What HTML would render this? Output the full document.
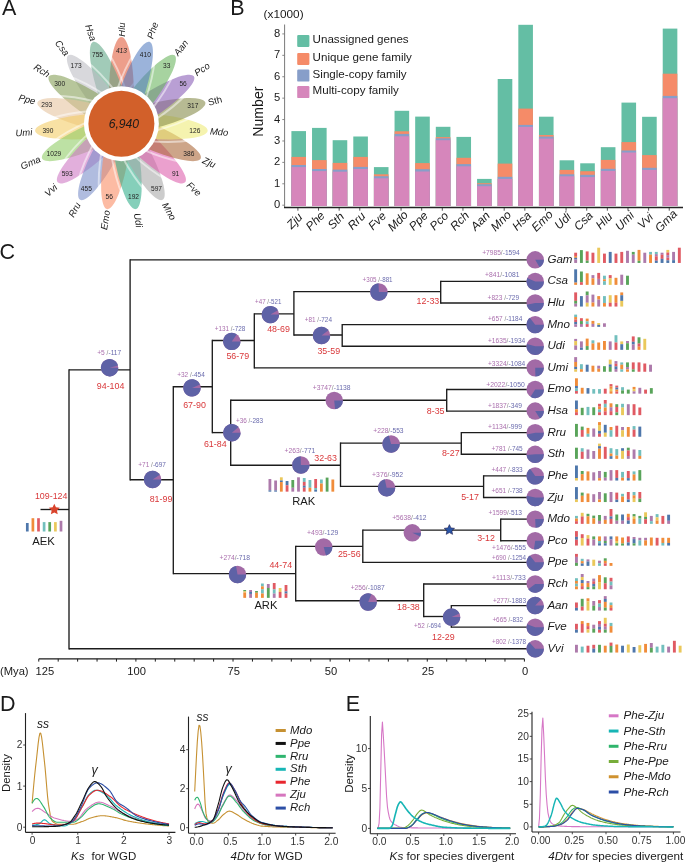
<!DOCTYPE html>
<html><head><meta charset="utf-8"><style>
html,body{margin:0;padding:0;background:#fff;width:685px;height:863px;overflow:hidden}
svg{display:block;font-family:"Liberation Sans", sans-serif;will-change:transform}
</style></head><body>
<svg width="685" height="863" viewBox="0 0 685 863">
<text x="1.9" y="14.9" font-size="21.5" fill="#1a1a1a">A</text>
<text x="230.2" y="14.9" font-size="21.5" fill="#1a1a1a">B</text>
<text x="-0.5" y="258.5" font-size="21.5" fill="#1a1a1a">C</text>
<text x="0" y="711.0" font-size="21.5" fill="#1a1a1a">D</text>
<text x="345.7" y="711.1" font-size="21.5" fill="#1a1a1a">E</text>
<g><ellipse cx="121.40" cy="94.80" rx="57.7" ry="12.5" transform="rotate(-90.00 121.40 94.80)" fill="#e05837" fill-opacity="0.58"/><ellipse cx="121.40" cy="94.80" rx="60.300000000000004" ry="15.1" transform="rotate(-90.00 121.40 94.80)" fill="none" stroke="#fff" stroke-opacity="0.5" stroke-width="1.9"/><ellipse cx="112.02" cy="96.37" rx="57.7" ry="12.5" transform="rotate(251.05 112.02 96.37)" fill="#5da585" fill-opacity="0.58"/><ellipse cx="112.02" cy="96.37" rx="60.300000000000004" ry="15.1" transform="rotate(251.05 112.02 96.37)" fill="none" stroke="#fff" stroke-opacity="0.5" stroke-width="1.9"/><ellipse cx="103.65" cy="100.89" rx="57.7" ry="12.5" transform="rotate(232.11 103.65 100.89)" fill="#bcbcc3" fill-opacity="0.58"/><ellipse cx="103.65" cy="100.89" rx="60.300000000000004" ry="15.1" transform="rotate(232.11 103.65 100.89)" fill="none" stroke="#fff" stroke-opacity="0.5" stroke-width="1.9"/><ellipse cx="97.21" cy="107.89" rx="57.7" ry="12.5" transform="rotate(213.16 97.21 107.89)" fill="#839d53" fill-opacity="0.58"/><ellipse cx="97.21" cy="107.89" rx="60.300000000000004" ry="15.1" transform="rotate(213.16 97.21 107.89)" fill="none" stroke="#fff" stroke-opacity="0.5" stroke-width="1.9"/><ellipse cx="93.38" cy="116.61" rx="57.7" ry="12.5" transform="rotate(194.21 93.38 116.61)" fill="#e5c39d" fill-opacity="0.58"/><ellipse cx="93.38" cy="116.61" rx="60.300000000000004" ry="15.1" transform="rotate(194.21 93.38 116.61)" fill="none" stroke="#fff" stroke-opacity="0.5" stroke-width="1.9"/><ellipse cx="92.60" cy="126.09" rx="57.7" ry="12.5" transform="rotate(175.26 92.60 126.09)" fill="#f3cb62" fill-opacity="0.58"/><ellipse cx="92.60" cy="126.09" rx="60.300000000000004" ry="15.1" transform="rotate(175.26 92.60 126.09)" fill="none" stroke="#fff" stroke-opacity="0.5" stroke-width="1.9"/><ellipse cx="94.93" cy="135.31" rx="57.7" ry="12.5" transform="rotate(156.32 94.93 135.31)" fill="#8dcb62" fill-opacity="0.58"/><ellipse cx="94.93" cy="135.31" rx="60.300000000000004" ry="15.1" transform="rotate(156.32 94.93 135.31)" fill="none" stroke="#fff" stroke-opacity="0.5" stroke-width="1.9"/><ellipse cx="100.14" cy="143.27" rx="57.7" ry="12.5" transform="rotate(137.37 100.14 143.27)" fill="#cd75c3" fill-opacity="0.58"/><ellipse cx="100.14" cy="143.27" rx="60.300000000000004" ry="15.1" transform="rotate(137.37 100.14 143.27)" fill="none" stroke="#fff" stroke-opacity="0.5" stroke-width="1.9"/><ellipse cx="107.65" cy="149.12" rx="57.7" ry="12.5" transform="rotate(118.42 107.65 149.12)" fill="#778bc8" fill-opacity="0.58"/><ellipse cx="107.65" cy="149.12" rx="60.300000000000004" ry="15.1" transform="rotate(118.42 107.65 149.12)" fill="none" stroke="#fff" stroke-opacity="0.5" stroke-width="1.9"/><ellipse cx="116.64" cy="152.21" rx="57.7" ry="12.5" transform="rotate(99.47 116.64 152.21)" fill="#fa8a60" fill-opacity="0.58"/><ellipse cx="116.64" cy="152.21" rx="60.300000000000004" ry="15.1" transform="rotate(99.47 116.64 152.21)" fill="none" stroke="#fff" stroke-opacity="0.5" stroke-width="1.9"/><ellipse cx="126.16" cy="152.21" rx="57.7" ry="12.5" transform="rotate(80.53 126.16 152.21)" fill="#2dac88" fill-opacity="0.58"/><ellipse cx="126.16" cy="152.21" rx="60.300000000000004" ry="15.1" transform="rotate(80.53 126.16 152.21)" fill="none" stroke="#fff" stroke-opacity="0.5" stroke-width="1.9"/><ellipse cx="135.15" cy="149.12" rx="57.7" ry="12.5" transform="rotate(61.58 135.15 149.12)" fill="#a7a7a7" fill-opacity="0.58"/><ellipse cx="135.15" cy="149.12" rx="60.300000000000004" ry="15.1" transform="rotate(61.58 135.15 149.12)" fill="none" stroke="#fff" stroke-opacity="0.5" stroke-width="1.9"/><ellipse cx="142.66" cy="143.27" rx="57.7" ry="12.5" transform="rotate(42.63 142.66 143.27)" fill="#dd5bab" fill-opacity="0.58"/><ellipse cx="142.66" cy="143.27" rx="60.300000000000004" ry="15.1" transform="rotate(42.63 142.66 143.27)" fill="none" stroke="#fff" stroke-opacity="0.5" stroke-width="1.9"/><ellipse cx="147.87" cy="135.31" rx="57.7" ry="12.5" transform="rotate(23.68 147.87 135.31)" fill="#a96434" fill-opacity="0.58"/><ellipse cx="147.87" cy="135.31" rx="60.300000000000004" ry="15.1" transform="rotate(23.68 147.87 135.31)" fill="none" stroke="#fff" stroke-opacity="0.5" stroke-width="1.9"/><ellipse cx="150.20" cy="126.09" rx="57.7" ry="12.5" transform="rotate(4.74 150.20 126.09)" fill="#eeea75" fill-opacity="0.58"/><ellipse cx="150.20" cy="126.09" rx="60.300000000000004" ry="15.1" transform="rotate(4.74 150.20 126.09)" fill="none" stroke="#fff" stroke-opacity="0.5" stroke-width="1.9"/><ellipse cx="149.42" cy="116.61" rx="57.7" ry="12.5" transform="rotate(-14.21 149.42 116.61)" fill="#838845" fill-opacity="0.58"/><ellipse cx="149.42" cy="116.61" rx="60.300000000000004" ry="15.1" transform="rotate(-14.21 149.42 116.61)" fill="none" stroke="#fff" stroke-opacity="0.5" stroke-width="1.9"/><ellipse cx="145.59" cy="107.89" rx="57.7" ry="12.5" transform="rotate(-33.16 145.59 107.89)" fill="#8659b5" fill-opacity="0.58"/><ellipse cx="145.59" cy="107.89" rx="60.300000000000004" ry="15.1" transform="rotate(-33.16 145.59 107.89)" fill="none" stroke="#fff" stroke-opacity="0.5" stroke-width="1.9"/><ellipse cx="139.15" cy="100.89" rx="57.7" ry="12.5" transform="rotate(-52.11 139.15 100.89)" fill="#67b35b" fill-opacity="0.58"/><ellipse cx="139.15" cy="100.89" rx="60.300000000000004" ry="15.1" transform="rotate(-52.11 139.15 100.89)" fill="none" stroke="#fff" stroke-opacity="0.5" stroke-width="1.9"/><ellipse cx="130.78" cy="96.37" rx="57.7" ry="12.5" transform="rotate(-71.05 130.78 96.37)" fill="#537cbf" fill-opacity="0.58"/><ellipse cx="130.78" cy="96.37" rx="60.300000000000004" ry="15.1" transform="rotate(-71.05 130.78 96.37)" fill="none" stroke="#fff" stroke-opacity="0.5" stroke-width="1.9"/></g>
<text x="0" y="2.75" font-size="7.7" text-anchor="middle" font-style="italic" fill="#222" transform="translate(121.40 50.00) scale(0.86 1)">413</text>
<text x="0" y="2.75" font-size="7.7" text-anchor="middle" fill="#222" transform="translate(145.33 53.99) scale(0.86 1)">410</text>
<text x="0" y="2.75" font-size="7.7" text-anchor="middle" fill="#222" transform="translate(166.67 65.54) scale(0.86 1)">33</text>
<text x="0" y="2.75" font-size="7.7" text-anchor="middle" fill="#222" transform="translate(183.10 83.39) scale(0.86 1)">56</text>
<text x="0" y="2.75" font-size="7.7" text-anchor="middle" fill="#222" transform="translate(192.84 105.61) scale(0.86 1)">317</text>
<text x="0" y="2.75" font-size="7.7" text-anchor="middle" fill="#222" transform="translate(194.85 129.79) scale(0.86 1)">126</text>
<text x="0" y="2.75" font-size="7.7" text-anchor="middle" fill="#222" transform="translate(188.89 153.30) scale(0.86 1)">386</text>
<text x="0" y="2.75" font-size="7.7" text-anchor="middle" fill="#222" transform="translate(175.62 173.62) scale(0.86 1)">91</text>
<text x="0" y="2.75" font-size="7.7" text-anchor="middle" fill="#222" transform="translate(156.48 188.52) scale(0.86 1)">597</text>
<text x="0" y="2.75" font-size="7.7" text-anchor="middle" fill="#222" transform="translate(133.53 196.39) scale(0.86 1)">192</text>
<text x="0" y="2.75" font-size="7.7" text-anchor="middle" fill="#222" transform="translate(109.27 196.39) scale(0.86 1)">56</text>
<text x="0" y="2.75" font-size="7.7" text-anchor="middle" fill="#222" transform="translate(86.32 188.52) scale(0.86 1)">455</text>
<text x="0" y="2.75" font-size="7.7" text-anchor="middle" fill="#222" transform="translate(67.18 173.62) scale(0.86 1)">593</text>
<text x="0" y="2.75" font-size="7.7" text-anchor="middle" fill="#222" transform="translate(53.91 153.30) scale(0.86 1)">1029</text>
<text x="0" y="2.75" font-size="7.7" text-anchor="middle" fill="#222" transform="translate(47.95 129.79) scale(0.86 1)">390</text>
<text x="0" y="2.75" font-size="7.7" text-anchor="middle" fill="#222" transform="translate(46.76 104.00) scale(0.86 1)">293</text>
<text x="0" y="2.75" font-size="7.7" text-anchor="middle" fill="#222" transform="translate(59.70 83.39) scale(0.86 1)">300</text>
<text x="0" y="2.75" font-size="7.7" text-anchor="middle" fill="#222" transform="translate(76.13 65.54) scale(0.86 1)">173</text>
<text x="0" y="2.75" font-size="7.7" text-anchor="middle" fill="#222" transform="translate(97.47 53.99) scale(0.86 1)">755</text>
<text x="121.40" y="36.70" font-size="9.5" text-anchor="start" dominant-baseline="central" font-style="italic" fill="#1a1a1a" transform="rotate(-90.00 121.40 36.70)">Hlu</text>
<text x="149.63" y="38.44" font-size="9.5" text-anchor="start" dominant-baseline="central" font-style="italic" fill="#1a1a1a" transform="rotate(-71.05 149.63 38.44)">Phe</text>
<text x="175.51" y="54.35" font-size="9.5" text-anchor="start" dominant-baseline="central" font-style="italic" fill="#1a1a1a" transform="rotate(-52.11 175.51 54.35)">Aan</text>
<text x="195.04" y="73.50" font-size="9.5" text-anchor="start" dominant-baseline="central" font-style="italic" fill="#1a1a1a" transform="rotate(-33.16 195.04 73.50)">Pco</text>
<text x="208.06" y="102.25" font-size="9.5" text-anchor="start" dominant-baseline="central" fill="#1a1a1a" transform="rotate(-14.21 208.06 102.25)">Sth</text>
<text x="209.99" y="130.98" font-size="9.5" text-anchor="start" dominant-baseline="central" font-style="italic" fill="#1a1a1a" transform="rotate(-355.26 209.99 130.98)">Mdo</text>
<text x="203.27" y="159.51" font-size="9.5" text-anchor="start" dominant-baseline="central" font-style="italic" fill="#1a1a1a" transform="rotate(-336.32 203.27 159.51)">Zju</text>
<text x="188.27" y="183.55" font-size="9.5" text-anchor="start" dominant-baseline="central" font-style="italic" fill="#1a1a1a" transform="rotate(-317.37 188.27 183.55)">Fve</text>
<text x="164.95" y="203.02" font-size="9.5" text-anchor="start" dominant-baseline="central" font-style="italic" fill="#1a1a1a" transform="rotate(-298.42 164.95 203.02)">Mno</text>
<text x="137.21" y="213.18" font-size="9.5" text-anchor="start" dominant-baseline="central" font-style="italic" fill="#1a1a1a" transform="rotate(-279.47 137.21 213.18)">Udi</text>
<text x="106.69" y="210.28" font-size="9.5" text-anchor="end" dominant-baseline="central" font-style="italic" fill="#1a1a1a" transform="rotate(-80.53 106.69 210.28)">Emo</text>
<text x="78.05" y="202.82" font-size="9.5" text-anchor="end" dominant-baseline="central" font-style="italic" fill="#1a1a1a" transform="rotate(-61.58 78.05 202.82)">Rru</text>
<text x="55.63" y="185.65" font-size="9.5" text-anchor="end" dominant-baseline="central" font-style="italic" fill="#1a1a1a" transform="rotate(-42.63 55.63 185.65)">Vvi</text>
<text x="39.83" y="158.31" font-size="9.5" text-anchor="end" dominant-baseline="central" font-style="italic" fill="#1a1a1a" transform="rotate(-23.68 39.83 158.31)">Gma</text>
<text x="32.31" y="131.58" font-size="9.5" text-anchor="end" dominant-baseline="central" font-style="italic" fill="#1a1a1a" transform="rotate(-4.74 32.31 131.58)">Umi</text>
<text x="35.34" y="101.15" font-size="9.5" text-anchor="end" dominant-baseline="central" font-style="italic" fill="#1a1a1a" transform="rotate(14.21 35.34 101.15)">Ppe</text>
<text x="49.16" y="75.00" font-size="9.5" text-anchor="end" dominant-baseline="central" font-style="italic" fill="#1a1a1a" transform="rotate(33.16 49.16 75.00)">Rch</text>
<text x="67.59" y="54.55" font-size="9.5" text-anchor="end" dominant-baseline="central" font-style="italic" fill="#1a1a1a" transform="rotate(52.11 67.59 54.55)">Csa</text>
<text x="93.77" y="40.54" font-size="9.5" text-anchor="end" dominant-baseline="central" font-style="italic" fill="#1a1a1a" transform="rotate(71.05 93.77 40.54)">Hsa</text>
<circle cx="121.4" cy="123.7" r="37.5" fill="#fff"/>
<circle cx="121.4" cy="123.7" r="33" fill="#d2602a"/>
<text x="123.9" y="127.9" font-size="12.2" font-style="italic" text-anchor="middle" fill="#1a1a1a">6,940</text>
<line x1="284.6" y1="24.5" x2="284.6" y2="207.0" stroke="#7a7a7a" stroke-width="1"/>
<line x1="282.3" y1="205.20" x2="284.6" y2="205.20" stroke="#7a7a7a" stroke-width="0.9"/>
<text x="280.3" y="208.30" font-size="11.2" text-anchor="end" fill="#1a1a1a">0</text>
<line x1="282.3" y1="183.79" x2="284.6" y2="183.79" stroke="#7a7a7a" stroke-width="0.9"/>
<text x="280.3" y="186.89" font-size="11.2" text-anchor="end" fill="#1a1a1a">1</text>
<line x1="282.3" y1="162.38" x2="284.6" y2="162.38" stroke="#7a7a7a" stroke-width="0.9"/>
<text x="280.3" y="165.48" font-size="11.2" text-anchor="end" fill="#1a1a1a">2</text>
<line x1="282.3" y1="140.97" x2="284.6" y2="140.97" stroke="#7a7a7a" stroke-width="0.9"/>
<text x="280.3" y="144.07" font-size="11.2" text-anchor="end" fill="#1a1a1a">3</text>
<line x1="282.3" y1="119.56" x2="284.6" y2="119.56" stroke="#7a7a7a" stroke-width="0.9"/>
<text x="280.3" y="122.66" font-size="11.2" text-anchor="end" fill="#1a1a1a">4</text>
<line x1="282.3" y1="98.15" x2="284.6" y2="98.15" stroke="#7a7a7a" stroke-width="0.9"/>
<text x="280.3" y="101.25" font-size="11.2" text-anchor="end" fill="#1a1a1a">5</text>
<line x1="282.3" y1="76.74" x2="284.6" y2="76.74" stroke="#7a7a7a" stroke-width="0.9"/>
<text x="280.3" y="79.84" font-size="11.2" text-anchor="end" fill="#1a1a1a">6</text>
<line x1="282.3" y1="55.33" x2="284.6" y2="55.33" stroke="#7a7a7a" stroke-width="0.9"/>
<text x="280.3" y="58.43" font-size="11.2" text-anchor="end" fill="#1a1a1a">7</text>
<line x1="282.3" y1="33.92" x2="284.6" y2="33.92" stroke="#7a7a7a" stroke-width="0.9"/>
<text x="280.3" y="37.02" font-size="11.2" text-anchor="end" fill="#1a1a1a">8</text>
<text x="263.0" y="111.6" font-size="14.1" text-anchor="middle" fill="#1a1a1a" transform="rotate(-90 263.0 111.6)">Number</text>
<text x="263.6" y="18.0" font-size="11.8" fill="#1a1a1a">(x1000)</text>
<rect x="291.40" y="131.1" width="14.6" height="74.90" fill="#64bea4"/>
<rect x="291.40" y="156.9" width="14.6" height="49.10" fill="#f58b68"/>
<rect x="291.40" y="165.0" width="14.6" height="41.00" fill="#879ec9"/>
<rect x="291.40" y="167.1" width="14.6" height="38.90" fill="#d686bb"/>
<line x1="297.90" y1="207.5" x2="297.90" y2="210.7" stroke="#444" stroke-width="0.9"/>
<text x="297.45" y="223.70" font-size="11.9" font-style="italic" text-anchor="middle" fill="#1a1a1a" transform="rotate(-45 297.45 223.70)">Zju</text>
<rect x="312.03" y="127.9" width="14.6" height="78.10" fill="#64bea4"/>
<rect x="312.03" y="160.1" width="14.6" height="45.90" fill="#f58b68"/>
<rect x="312.03" y="169.0" width="14.6" height="37.00" fill="#879ec9"/>
<rect x="312.03" y="171.1" width="14.6" height="34.90" fill="#d686bb"/>
<line x1="318.53" y1="207.5" x2="318.53" y2="210.7" stroke="#444" stroke-width="0.9"/>
<text x="318.08" y="223.70" font-size="11.9" font-style="italic" text-anchor="middle" fill="#1a1a1a" transform="rotate(-45 318.08 223.70)">Phe</text>
<rect x="332.66" y="140.2" width="14.6" height="65.80" fill="#64bea4"/>
<rect x="332.66" y="162.9" width="14.6" height="43.10" fill="#f58b68"/>
<rect x="332.66" y="169.6" width="14.6" height="36.40" fill="#879ec9"/>
<rect x="332.66" y="171.7" width="14.6" height="34.30" fill="#d686bb"/>
<line x1="339.16" y1="207.5" x2="339.16" y2="210.7" stroke="#444" stroke-width="0.9"/>
<text x="338.71" y="223.70" font-size="11.9" font-style="italic" text-anchor="middle" fill="#1a1a1a" transform="rotate(-45 338.71 223.70)">Sth</text>
<rect x="353.29" y="136.5" width="14.6" height="69.50" fill="#64bea4"/>
<rect x="353.29" y="156.9" width="14.6" height="49.10" fill="#f58b68"/>
<rect x="353.29" y="166.9" width="14.6" height="39.10" fill="#879ec9"/>
<rect x="353.29" y="169.0" width="14.6" height="37.00" fill="#d686bb"/>
<line x1="359.79" y1="207.5" x2="359.79" y2="210.7" stroke="#444" stroke-width="0.9"/>
<text x="359.34" y="223.70" font-size="11.9" font-style="italic" text-anchor="middle" fill="#1a1a1a" transform="rotate(-45 359.34 223.70)">Rru</text>
<rect x="373.92" y="167.1" width="14.6" height="38.90" fill="#64bea4"/>
<rect x="373.92" y="174.3" width="14.6" height="31.70" fill="#f58b68"/>
<rect x="373.92" y="176.2" width="14.6" height="29.80" fill="#879ec9"/>
<rect x="373.92" y="178.3" width="14.6" height="27.70" fill="#d686bb"/>
<line x1="380.42" y1="207.5" x2="380.42" y2="210.7" stroke="#444" stroke-width="0.9"/>
<text x="379.97" y="223.70" font-size="11.9" font-style="italic" text-anchor="middle" fill="#1a1a1a" transform="rotate(-45 379.97 223.70)">Fve</text>
<rect x="394.55" y="110.8" width="14.6" height="95.20" fill="#64bea4"/>
<rect x="394.55" y="131.3" width="14.6" height="74.70" fill="#f58b68"/>
<rect x="394.55" y="133.9" width="14.6" height="72.10" fill="#879ec9"/>
<rect x="394.55" y="136.3" width="14.6" height="69.70" fill="#d686bb"/>
<line x1="401.05" y1="207.5" x2="401.05" y2="210.7" stroke="#444" stroke-width="0.9"/>
<text x="400.60" y="223.70" font-size="11.9" font-style="italic" text-anchor="middle" fill="#1a1a1a" transform="rotate(-45 400.60 223.70)">Mdo</text>
<rect x="415.18" y="116.6" width="14.6" height="89.40" fill="#64bea4"/>
<rect x="415.18" y="163.1" width="14.6" height="42.90" fill="#f58b68"/>
<rect x="415.18" y="169.2" width="14.6" height="36.80" fill="#879ec9"/>
<rect x="415.18" y="171.5" width="14.6" height="34.50" fill="#d686bb"/>
<line x1="421.68" y1="207.5" x2="421.68" y2="210.7" stroke="#444" stroke-width="0.9"/>
<text x="421.23" y="223.70" font-size="11.9" font-style="italic" text-anchor="middle" fill="#1a1a1a" transform="rotate(-45 421.23 223.70)">Ppe</text>
<rect x="435.81" y="126.8" width="14.6" height="79.20" fill="#64bea4"/>
<rect x="435.81" y="137.1" width="14.6" height="68.90" fill="#f58b68"/>
<rect x="435.81" y="138.3" width="14.6" height="67.70" fill="#879ec9"/>
<rect x="435.81" y="140.2" width="14.6" height="65.80" fill="#d686bb"/>
<line x1="442.31" y1="207.5" x2="442.31" y2="210.7" stroke="#444" stroke-width="0.9"/>
<text x="441.86" y="223.70" font-size="11.9" font-style="italic" text-anchor="middle" fill="#1a1a1a" transform="rotate(-45 441.86 223.70)">Pco</text>
<rect x="456.44" y="136.9" width="14.6" height="69.10" fill="#64bea4"/>
<rect x="456.44" y="157.8" width="14.6" height="48.20" fill="#f58b68"/>
<rect x="456.44" y="164.1" width="14.6" height="41.90" fill="#879ec9"/>
<rect x="456.44" y="166.3" width="14.6" height="39.70" fill="#d686bb"/>
<line x1="462.94" y1="207.5" x2="462.94" y2="210.7" stroke="#444" stroke-width="0.9"/>
<text x="462.49" y="223.70" font-size="11.9" font-style="italic" text-anchor="middle" fill="#1a1a1a" transform="rotate(-45 462.49 223.70)">Rch</text>
<rect x="477.07" y="178.9" width="14.6" height="27.10" fill="#64bea4"/>
<rect x="477.07" y="183.2" width="14.6" height="22.80" fill="#f58b68"/>
<rect x="477.07" y="184.2" width="14.6" height="21.80" fill="#879ec9"/>
<rect x="477.07" y="186.2" width="14.6" height="19.80" fill="#d686bb"/>
<line x1="483.57" y1="207.5" x2="483.57" y2="210.7" stroke="#444" stroke-width="0.9"/>
<text x="483.12" y="223.70" font-size="11.9" font-style="italic" text-anchor="middle" fill="#1a1a1a" transform="rotate(-45 483.12 223.70)">Aan</text>
<rect x="497.70" y="79.0" width="14.6" height="127.00" fill="#64bea4"/>
<rect x="497.70" y="163.6" width="14.6" height="42.40" fill="#f58b68"/>
<rect x="497.70" y="176.8" width="14.6" height="29.20" fill="#879ec9"/>
<rect x="497.70" y="178.9" width="14.6" height="27.10" fill="#d686bb"/>
<line x1="504.20" y1="207.5" x2="504.20" y2="210.7" stroke="#444" stroke-width="0.9"/>
<text x="503.75" y="223.70" font-size="11.9" font-style="italic" text-anchor="middle" fill="#1a1a1a" transform="rotate(-45 503.75 223.70)">Mno</text>
<rect x="518.33" y="24.8" width="14.6" height="181.20" fill="#64bea4"/>
<rect x="518.33" y="108.6" width="14.6" height="97.40" fill="#f58b68"/>
<rect x="518.33" y="124.9" width="14.6" height="81.10" fill="#879ec9"/>
<rect x="518.33" y="126.9" width="14.6" height="79.10" fill="#d686bb"/>
<line x1="524.83" y1="207.5" x2="524.83" y2="210.7" stroke="#444" stroke-width="0.9"/>
<text x="524.38" y="223.70" font-size="11.9" font-style="italic" text-anchor="middle" fill="#1a1a1a" transform="rotate(-45 524.38 223.70)">Hsa</text>
<rect x="538.96" y="116.7" width="14.6" height="89.30" fill="#64bea4"/>
<rect x="538.96" y="135.0" width="14.6" height="71.00" fill="#f58b68"/>
<rect x="538.96" y="136.6" width="14.6" height="69.40" fill="#879ec9"/>
<rect x="538.96" y="138.6" width="14.6" height="67.40" fill="#d686bb"/>
<line x1="545.46" y1="207.5" x2="545.46" y2="210.7" stroke="#444" stroke-width="0.9"/>
<text x="545.01" y="223.70" font-size="11.9" font-style="italic" text-anchor="middle" fill="#1a1a1a" transform="rotate(-45 545.01 223.70)">Emo</text>
<rect x="559.59" y="160.3" width="14.6" height="45.70" fill="#64bea4"/>
<rect x="559.59" y="169.9" width="14.6" height="36.10" fill="#f58b68"/>
<rect x="559.59" y="174.3" width="14.6" height="31.70" fill="#879ec9"/>
<rect x="559.59" y="176.3" width="14.6" height="29.70" fill="#d686bb"/>
<line x1="566.09" y1="207.5" x2="566.09" y2="210.7" stroke="#444" stroke-width="0.9"/>
<text x="565.64" y="223.70" font-size="11.9" font-style="italic" text-anchor="middle" fill="#1a1a1a" transform="rotate(-45 565.64 223.70)">Udi</text>
<rect x="580.22" y="163.3" width="14.6" height="42.70" fill="#64bea4"/>
<rect x="580.22" y="171.2" width="14.6" height="34.80" fill="#f58b68"/>
<rect x="580.22" y="174.8" width="14.6" height="31.20" fill="#879ec9"/>
<rect x="580.22" y="177.1" width="14.6" height="28.90" fill="#d686bb"/>
<line x1="586.72" y1="207.5" x2="586.72" y2="210.7" stroke="#444" stroke-width="0.9"/>
<text x="586.27" y="223.70" font-size="11.9" font-style="italic" text-anchor="middle" fill="#1a1a1a" transform="rotate(-45 586.27 223.70)">Csa</text>
<rect x="600.85" y="147.2" width="14.6" height="58.80" fill="#64bea4"/>
<rect x="600.85" y="159.9" width="14.6" height="46.10" fill="#f58b68"/>
<rect x="600.85" y="168.8" width="14.6" height="37.20" fill="#879ec9"/>
<rect x="600.85" y="170.9" width="14.6" height="35.10" fill="#d686bb"/>
<line x1="607.35" y1="207.5" x2="607.35" y2="210.7" stroke="#444" stroke-width="0.9"/>
<text x="606.90" y="223.70" font-size="11.9" font-style="italic" text-anchor="middle" fill="#1a1a1a" transform="rotate(-45 606.90 223.70)">Hlu</text>
<rect x="621.48" y="102.6" width="14.6" height="103.40" fill="#64bea4"/>
<rect x="621.48" y="142.1" width="14.6" height="63.90" fill="#f58b68"/>
<rect x="621.48" y="150.5" width="14.6" height="55.50" fill="#879ec9"/>
<rect x="621.48" y="152.5" width="14.6" height="53.50" fill="#d686bb"/>
<line x1="627.98" y1="207.5" x2="627.98" y2="210.7" stroke="#444" stroke-width="0.9"/>
<text x="627.53" y="223.70" font-size="11.9" font-style="italic" text-anchor="middle" fill="#1a1a1a" transform="rotate(-45 627.53 223.70)">Umi</text>
<rect x="642.11" y="116.8" width="14.6" height="89.20" fill="#64bea4"/>
<rect x="642.11" y="155.1" width="14.6" height="50.90" fill="#f58b68"/>
<rect x="642.11" y="167.8" width="14.6" height="38.20" fill="#879ec9"/>
<rect x="642.11" y="169.9" width="14.6" height="36.10" fill="#d686bb"/>
<line x1="648.61" y1="207.5" x2="648.61" y2="210.7" stroke="#444" stroke-width="0.9"/>
<text x="648.16" y="223.70" font-size="11.9" font-style="italic" text-anchor="middle" fill="#1a1a1a" transform="rotate(-45 648.16 223.70)">Vvi</text>
<rect x="662.74" y="28.6" width="14.6" height="177.40" fill="#64bea4"/>
<rect x="662.74" y="73.7" width="14.6" height="132.30" fill="#f58b68"/>
<rect x="662.74" y="95.9" width="14.6" height="110.10" fill="#879ec9"/>
<rect x="662.74" y="98.2" width="14.6" height="107.80" fill="#d686bb"/>
<line x1="669.24" y1="207.5" x2="669.24" y2="210.7" stroke="#444" stroke-width="0.9"/>
<text x="668.79" y="223.70" font-size="11.9" font-style="italic" text-anchor="middle" fill="#1a1a1a" transform="rotate(-45 668.79 223.70)">Gma</text>
<line x1="284.0" y1="207.4" x2="683.0" y2="207.4" stroke="#222" stroke-width="1.5"/>
<rect x="297.2" y="34.9" width="12.2" height="12" rx="1.2" fill="#64bea4"/>
<text x="312.6" y="43.4" font-size="11.6" fill="#1a1a1a">Unassigned genes</text>
<rect x="297.2" y="52.9" width="12.2" height="12" rx="1.2" fill="#f58b68"/>
<text x="312.6" y="61.1" font-size="11.6" fill="#1a1a1a">Unique gene family</text>
<rect x="297.2" y="69.6" width="12.2" height="12" rx="1.2" fill="#879ec9"/>
<text x="312.6" y="77.8" font-size="11.6" fill="#1a1a1a">Single-copy family</text>
<rect x="297.2" y="86.1" width="12.2" height="12" rx="1.2" fill="#d686bb"/>
<text x="312.6" y="94.3" font-size="11.6" fill="#1a1a1a">Multi-copy family</text>
<line x1="38.8" y1="658.8" x2="524.4" y2="658.8" stroke="#1c1c1c" stroke-width="1.2"/>
<line x1="524.40" y1="658.8" x2="524.40" y2="661.6" stroke="#1c1c1c" stroke-width="1"/>
<line x1="504.97" y1="658.8" x2="504.97" y2="661.6" stroke="#1c1c1c" stroke-width="1"/>
<line x1="485.55" y1="658.8" x2="485.55" y2="661.6" stroke="#1c1c1c" stroke-width="1"/>
<line x1="466.12" y1="658.8" x2="466.12" y2="661.6" stroke="#1c1c1c" stroke-width="1"/>
<line x1="446.70" y1="658.8" x2="446.70" y2="661.6" stroke="#1c1c1c" stroke-width="1"/>
<line x1="427.27" y1="658.8" x2="427.27" y2="661.6" stroke="#1c1c1c" stroke-width="1"/>
<line x1="407.85" y1="658.8" x2="407.85" y2="661.6" stroke="#1c1c1c" stroke-width="1"/>
<line x1="388.42" y1="658.8" x2="388.42" y2="661.6" stroke="#1c1c1c" stroke-width="1"/>
<line x1="369.00" y1="658.8" x2="369.00" y2="661.6" stroke="#1c1c1c" stroke-width="1"/>
<line x1="349.57" y1="658.8" x2="349.57" y2="661.6" stroke="#1c1c1c" stroke-width="1"/>
<line x1="330.15" y1="658.8" x2="330.15" y2="661.6" stroke="#1c1c1c" stroke-width="1"/>
<line x1="310.73" y1="658.8" x2="310.73" y2="661.6" stroke="#1c1c1c" stroke-width="1"/>
<line x1="291.30" y1="658.8" x2="291.30" y2="661.6" stroke="#1c1c1c" stroke-width="1"/>
<line x1="271.88" y1="658.8" x2="271.88" y2="661.6" stroke="#1c1c1c" stroke-width="1"/>
<line x1="252.45" y1="658.8" x2="252.45" y2="661.6" stroke="#1c1c1c" stroke-width="1"/>
<line x1="233.02" y1="658.8" x2="233.02" y2="661.6" stroke="#1c1c1c" stroke-width="1"/>
<line x1="213.60" y1="658.8" x2="213.60" y2="661.6" stroke="#1c1c1c" stroke-width="1"/>
<line x1="194.18" y1="658.8" x2="194.18" y2="661.6" stroke="#1c1c1c" stroke-width="1"/>
<line x1="174.75" y1="658.8" x2="174.75" y2="661.6" stroke="#1c1c1c" stroke-width="1"/>
<line x1="155.32" y1="658.8" x2="155.32" y2="661.6" stroke="#1c1c1c" stroke-width="1"/>
<line x1="135.90" y1="658.8" x2="135.90" y2="661.6" stroke="#1c1c1c" stroke-width="1"/>
<line x1="116.48" y1="658.8" x2="116.48" y2="661.6" stroke="#1c1c1c" stroke-width="1"/>
<line x1="97.05" y1="658.8" x2="97.05" y2="661.6" stroke="#1c1c1c" stroke-width="1"/>
<line x1="77.62" y1="658.8" x2="77.62" y2="661.6" stroke="#1c1c1c" stroke-width="1"/>
<line x1="58.20" y1="658.8" x2="58.20" y2="661.6" stroke="#1c1c1c" stroke-width="1"/>
<line x1="38.77" y1="658.8" x2="38.77" y2="661.6" stroke="#1c1c1c" stroke-width="1"/>
<text x="0" y="674.6" font-size="11.2" fill="#1a1a1a">(Mya)</text>
<text x="35.6" y="674.6" font-size="11.2" fill="#1a1a1a">125</text>
<text x="136.70" y="674.6" font-size="11.2" text-anchor="middle" fill="#1a1a1a">100</text>
<text x="233.82" y="674.6" font-size="11.2" text-anchor="middle" fill="#1a1a1a">75</text>
<text x="330.95" y="674.6" font-size="11.2" text-anchor="middle" fill="#1a1a1a">50</text>
<text x="428.07" y="674.6" font-size="11.2" text-anchor="middle" fill="#1a1a1a">25</text>
<text x="525.20" y="674.6" font-size="11.2" text-anchor="middle" fill="#1a1a1a">0</text>
<line x1="40.5" y1="509.50" x2="69.0" y2="509.50" stroke="#1c1c1c" stroke-width="1.35"/>
<line x1="69.0" y1="369.90" x2="69.0" y2="648.78" stroke="#1c1c1c" stroke-width="1.35" stroke-linecap="square"/>
<line x1="69.0" y1="648.78" x2="527.0" y2="648.78" stroke="#1c1c1c" stroke-width="1.35"/>
<line x1="69.0" y1="369.90" x2="130.1" y2="369.90" stroke="#1c1c1c" stroke-width="1.35"/>
<line x1="130.1" y1="259.80" x2="130.1" y2="479.70" stroke="#1c1c1c" stroke-width="1.35" stroke-linecap="square"/>
<line x1="130.1" y1="259.80" x2="527.0" y2="259.80" stroke="#1c1c1c" stroke-width="1.35"/>
<line x1="130.1" y1="479.70" x2="173.3" y2="479.70" stroke="#1c1c1c" stroke-width="1.35"/>
<line x1="173.3" y1="386.70" x2="173.3" y2="573.60" stroke="#1c1c1c" stroke-width="1.35" stroke-linecap="square"/>
<line x1="173.3" y1="386.70" x2="212.3" y2="386.70" stroke="#1c1c1c" stroke-width="1.35"/>
<line x1="173.3" y1="573.60" x2="295.7" y2="573.60" stroke="#1c1c1c" stroke-width="1.35"/>
<line x1="212.3" y1="340.50" x2="212.3" y2="432.60" stroke="#1c1c1c" stroke-width="1.35" stroke-linecap="square"/>
<line x1="212.3" y1="340.50" x2="254.3" y2="340.50" stroke="#1c1c1c" stroke-width="1.35"/>
<line x1="212.3" y1="432.60" x2="230.7" y2="432.60" stroke="#1c1c1c" stroke-width="1.35"/>
<line x1="254.3" y1="313.80" x2="254.3" y2="367.85" stroke="#1c1c1c" stroke-width="1.35" stroke-linecap="square"/>
<line x1="254.3" y1="367.85" x2="527.0" y2="367.85" stroke="#1c1c1c" stroke-width="1.35"/>
<line x1="254.3" y1="313.80" x2="293.9" y2="313.80" stroke="#1c1c1c" stroke-width="1.35"/>
<line x1="293.9" y1="291.60" x2="293.9" y2="335.00" stroke="#1c1c1c" stroke-width="1.35" stroke-linecap="square"/>
<line x1="293.9" y1="291.60" x2="440.7" y2="291.60" stroke="#1c1c1c" stroke-width="1.35"/>
<line x1="293.9" y1="335.00" x2="342.2" y2="335.00" stroke="#1c1c1c" stroke-width="1.35"/>
<line x1="440.7" y1="281.41" x2="440.7" y2="303.02" stroke="#1c1c1c" stroke-width="1.35" stroke-linecap="square"/>
<line x1="440.7" y1="281.41" x2="527.0" y2="281.41" stroke="#1c1c1c" stroke-width="1.35"/>
<line x1="440.7" y1="303.02" x2="527.0" y2="303.02" stroke="#1c1c1c" stroke-width="1.35"/>
<line x1="342.2" y1="324.63" x2="342.2" y2="346.24" stroke="#1c1c1c" stroke-width="1.35" stroke-linecap="square"/>
<line x1="342.2" y1="324.63" x2="527.0" y2="324.63" stroke="#1c1c1c" stroke-width="1.35"/>
<line x1="342.2" y1="346.24" x2="527.0" y2="346.24" stroke="#1c1c1c" stroke-width="1.35"/>
<line x1="230.7" y1="400.20" x2="230.7" y2="465.20" stroke="#1c1c1c" stroke-width="1.35" stroke-linecap="square"/>
<line x1="230.7" y1="400.20" x2="446.7" y2="400.20" stroke="#1c1c1c" stroke-width="1.35"/>
<line x1="230.7" y1="465.20" x2="340.5" y2="465.20" stroke="#1c1c1c" stroke-width="1.35"/>
<line x1="446.7" y1="389.46" x2="446.7" y2="411.07" stroke="#1c1c1c" stroke-width="1.35" stroke-linecap="square"/>
<line x1="446.7" y1="389.46" x2="527.0" y2="389.46" stroke="#1c1c1c" stroke-width="1.35"/>
<line x1="446.7" y1="411.07" x2="527.0" y2="411.07" stroke="#1c1c1c" stroke-width="1.35"/>
<line x1="340.5" y1="443.10" x2="340.5" y2="486.40" stroke="#1c1c1c" stroke-width="1.35" stroke-linecap="square"/>
<line x1="340.5" y1="443.10" x2="461.3" y2="443.10" stroke="#1c1c1c" stroke-width="1.35"/>
<line x1="340.5" y1="486.40" x2="483.6" y2="486.40" stroke="#1c1c1c" stroke-width="1.35"/>
<line x1="461.3" y1="432.68" x2="461.3" y2="454.29" stroke="#1c1c1c" stroke-width="1.35" stroke-linecap="square"/>
<line x1="461.3" y1="432.68" x2="527.0" y2="432.68" stroke="#1c1c1c" stroke-width="1.35"/>
<line x1="461.3" y1="454.29" x2="527.0" y2="454.29" stroke="#1c1c1c" stroke-width="1.35"/>
<line x1="483.6" y1="475.90" x2="483.6" y2="497.51" stroke="#1c1c1c" stroke-width="1.35" stroke-linecap="square"/>
<line x1="483.6" y1="475.90" x2="527.0" y2="475.90" stroke="#1c1c1c" stroke-width="1.35"/>
<line x1="483.6" y1="497.51" x2="527.0" y2="497.51" stroke="#1c1c1c" stroke-width="1.35"/>
<line x1="295.7" y1="546.40" x2="295.7" y2="600.70" stroke="#1c1c1c" stroke-width="1.35" stroke-linecap="square"/>
<line x1="295.7" y1="546.40" x2="362.8" y2="546.40" stroke="#1c1c1c" stroke-width="1.35"/>
<line x1="295.7" y1="600.70" x2="423.7" y2="600.70" stroke="#1c1c1c" stroke-width="1.35"/>
<line x1="362.8" y1="530.10" x2="362.8" y2="562.34" stroke="#1c1c1c" stroke-width="1.35" stroke-linecap="square"/>
<line x1="362.8" y1="530.10" x2="500.7" y2="530.10" stroke="#1c1c1c" stroke-width="1.35"/>
<line x1="362.8" y1="562.34" x2="527.0" y2="562.34" stroke="#1c1c1c" stroke-width="1.35"/>
<line x1="500.7" y1="519.12" x2="500.7" y2="540.73" stroke="#1c1c1c" stroke-width="1.35" stroke-linecap="square"/>
<line x1="500.7" y1="519.12" x2="527.0" y2="519.12" stroke="#1c1c1c" stroke-width="1.35"/>
<line x1="500.7" y1="540.73" x2="527.0" y2="540.73" stroke="#1c1c1c" stroke-width="1.35"/>
<line x1="423.7" y1="583.95" x2="423.7" y2="616.50" stroke="#1c1c1c" stroke-width="1.35" stroke-linecap="square"/>
<line x1="423.7" y1="583.95" x2="527.0" y2="583.95" stroke="#1c1c1c" stroke-width="1.35"/>
<line x1="423.7" y1="616.50" x2="451.3" y2="616.50" stroke="#1c1c1c" stroke-width="1.35"/>
<line x1="451.3" y1="605.56" x2="451.3" y2="627.17" stroke="#1c1c1c" stroke-width="1.35" stroke-linecap="square"/>
<line x1="451.3" y1="605.56" x2="527.0" y2="605.56" stroke="#1c1c1c" stroke-width="1.35"/>
<line x1="451.3" y1="627.17" x2="527.0" y2="627.17" stroke="#1c1c1c" stroke-width="1.35"/>
<circle cx="109.6" cy="367.7" r="8.7" fill="#a26aa6"/>
<path d="M109.6,367.7 L118.3,367.7 A8.7,8.7 0 1 1 118.01,365.48 Z" fill="#5e62a6"/>
<text x="97.2" y="354.85" font-size="6.8" text-anchor="start" textLength="24.00" lengthAdjust="spacingAndGlyphs"><tspan fill="#ab70ae">+5 </tspan><tspan fill="#8a8a8a">/</tspan><tspan fill="#6a6bad">-117</tspan></text>
<text x="96.8" y="388.6" font-size="8.9" text-anchor="start" fill="#d9383a">94-104</text>
<circle cx="152.6" cy="479.5" r="8.7" fill="#a26aa6"/>
<path d="M152.6,479.5 L161.29999999999998,479.5 A8.7,8.7 0 1 1 159.87,474.73 Z" fill="#5e62a6"/>
<text x="138.3" y="466.65" font-size="6.8" text-anchor="start" textLength="27.60" lengthAdjust="spacingAndGlyphs"><tspan fill="#ab70ae">+71 </tspan><tspan fill="#8a8a8a">/</tspan><tspan fill="#6a6bad">-697</tspan></text>
<text x="149.7" y="501.5" font-size="8.9" text-anchor="start" fill="#d9383a">81-99</text>
<circle cx="192.0" cy="387.9" r="8.7" fill="#a26aa6"/>
<path d="M192.0,387.9 L200.7,387.9 A8.7,8.7 0 1 1 199.97,384.40 Z" fill="#5e62a6"/>
<text x="177.2" y="377.15" font-size="6.8" text-anchor="start" textLength="27.60" lengthAdjust="spacingAndGlyphs"><tspan fill="#ab70ae">+32 </tspan><tspan fill="#8a8a8a">/</tspan><tspan fill="#6a6bad">-454</tspan></text>
<text x="183.2" y="408.3" font-size="8.9" text-anchor="start" fill="#d9383a">67-90</text>
<circle cx="231.8" cy="341.4" r="8.7" fill="#a26aa6"/>
<path d="M231.8,341.4 L240.5,341.4 A8.7,8.7 0 1 1 236.80,334.28 Z" fill="#5e62a6"/>
<text x="214.7" y="331.25" font-size="6.8" text-anchor="start" textLength="30.60" lengthAdjust="spacingAndGlyphs"><tspan fill="#ab70ae">+131 </tspan><tspan fill="#8a8a8a">/</tspan><tspan fill="#6a6bad">-728</tspan></text>
<text x="226.4" y="359.4" font-size="8.9" text-anchor="start" fill="#d9383a">56-79</text>
<circle cx="231.9" cy="432.7" r="8.7" fill="#a26aa6"/>
<path d="M231.9,432.7 L240.6,432.7 A8.7,8.7 0 1 1 238.50,427.04 Z" fill="#5e62a6"/>
<text x="235.9" y="422.85" font-size="6.8" text-anchor="start" textLength="27.30" lengthAdjust="spacingAndGlyphs"><tspan fill="#ab70ae">+36 </tspan><tspan fill="#8a8a8a">/</tspan><tspan fill="#6a6bad">-283</tspan></text>
<text x="203.9" y="447.1" font-size="8.9" text-anchor="start" fill="#d9383a">61-84</text>
<circle cx="270.4" cy="314.6" r="8.7" fill="#a26aa6"/>
<path d="M270.4,314.6 L279.09999999999997,314.6 A8.7,8.7 0 1 1 277.95,310.28 Z" fill="#5e62a6"/>
<text x="255.1" y="304.05" font-size="6.8" text-anchor="start" textLength="26.30" lengthAdjust="spacingAndGlyphs"><tspan fill="#ab70ae">+47 </tspan><tspan fill="#8a8a8a">/</tspan><tspan fill="#6a6bad">-521</tspan></text>
<text x="267.2" y="331.8" font-size="8.9" text-anchor="start" fill="#d9383a">48-69</text>
<circle cx="378.9" cy="292.0" r="8.7" fill="#a26aa6"/>
<path d="M378.9,292.0 L387.59999999999997,292.0 A8.7,8.7 0 1 1 378.51,283.31 Z" fill="#5e62a6"/>
<text x="362.5" y="281.55" font-size="6.8" text-anchor="start" textLength="30.10" lengthAdjust="spacingAndGlyphs"><tspan fill="#ab70ae">+305 </tspan><tspan fill="#8a8a8a">/</tspan><tspan fill="#6a6bad">-881</tspan></text>
<text x="416.6" y="303.5" font-size="8.9" text-anchor="start" fill="#d9383a">12-33</text>
<circle cx="321.5" cy="335.5" r="8.7" fill="#a26aa6"/>
<path d="M321.5,335.5 L330.2,335.5 A8.7,8.7 0 1 1 328.52,330.36 Z" fill="#5e62a6"/>
<text x="304.7" y="322.15" font-size="6.8" text-anchor="start" textLength="27.30" lengthAdjust="spacingAndGlyphs"><tspan fill="#ab70ae">+81 </tspan><tspan fill="#8a8a8a">/</tspan><tspan fill="#6a6bad">-724</tspan></text>
<text x="317.4" y="353.7" font-size="8.9" text-anchor="start" fill="#d9383a">35-59</text>
<circle cx="334.2" cy="400.5" r="8.7" fill="#a26aa6"/>
<path d="M334.2,400.5 L342.9,400.5 A8.7,8.7 0 0 1 335.13,409.15 Z" fill="#5e62a6"/>
<text x="312.8" y="389.95" font-size="6.8" text-anchor="start" textLength="37.70" lengthAdjust="spacingAndGlyphs"><tspan fill="#ab70ae">+3747</tspan><tspan fill="#8a8a8a">/</tspan><tspan fill="#6a6bad">-1138</tspan></text>
<text x="426.8" y="413.7" font-size="8.9" text-anchor="start" fill="#d9383a">8-35</text>
<circle cx="300.9" cy="465.0" r="8.7" fill="#a26aa6"/>
<path d="M300.9,465.0 L309.59999999999997,465.0 A8.7,8.7 0 1 1 300.66,456.30 Z" fill="#5e62a6"/>
<text x="284.6" y="453.25" font-size="6.8" text-anchor="start" textLength="30.60" lengthAdjust="spacingAndGlyphs"><tspan fill="#ab70ae">+263</tspan><tspan fill="#8a8a8a">/</tspan><tspan fill="#6a6bad">-771</tspan></text>
<text x="314.3" y="461.0" font-size="8.9" text-anchor="start" fill="#d9383a">32-63</text>
<circle cx="391.1" cy="444.0" r="8.7" fill="#a26aa6"/>
<path d="M391.1,444.0 L399.8,444.0 A8.7,8.7 0 1 1 388.83,435.60 Z" fill="#5e62a6"/>
<text x="373.3" y="433.15" font-size="6.8" text-anchor="start" textLength="30.30" lengthAdjust="spacingAndGlyphs"><tspan fill="#ab70ae">+228</tspan><tspan fill="#8a8a8a">/</tspan><tspan fill="#6a6bad">-553</tspan></text>
<text x="441.9" y="455.6" font-size="8.9" text-anchor="start" fill="#d9383a">8-27</text>
<circle cx="386.6" cy="487.7" r="8.7" fill="#a26aa6"/>
<path d="M386.6,487.7 L395.3,487.7 A8.7,8.7 0 1 1 384.80,479.19 Z" fill="#5e62a6"/>
<text x="372.1" y="476.85" font-size="6.8" text-anchor="start" textLength="31.00" lengthAdjust="spacingAndGlyphs"><tspan fill="#ab70ae">+376</tspan><tspan fill="#8a8a8a">/</tspan><tspan fill="#6a6bad">-952</tspan></text>
<text x="461.2" y="499.7" font-size="8.9" text-anchor="start" fill="#d9383a">5-17</text>
<circle cx="412.3" cy="532.8" r="8.7" fill="#a26aa6"/>
<path d="M412.3,532.8 L421.0,532.8 A8.7,8.7 0 0 1 420.22,536.41 Z" fill="#5e62a6"/>
<text x="392.2" y="520.35" font-size="6.8" text-anchor="start" textLength="34.20" lengthAdjust="spacingAndGlyphs"><tspan fill="#ab70ae">+5638</tspan><tspan fill="#8a8a8a">/</tspan><tspan fill="#6a6bad">-412</tspan></text>
<text x="477.2" y="540.9" font-size="8.9" text-anchor="start" fill="#d9383a">3-12</text>
<circle cx="237.5" cy="574.5" r="8.7" fill="#a26aa6"/>
<path d="M237.5,574.5 L246.2,574.5 A8.7,8.7 0 1 1 236.07,565.92 Z" fill="#5e62a6"/>
<text x="219.5" y="560.25" font-size="6.8" text-anchor="start" textLength="30.60" lengthAdjust="spacingAndGlyphs"><tspan fill="#ab70ae">+274</tspan><tspan fill="#8a8a8a">/</tspan><tspan fill="#6a6bad">-718</tspan></text>
<text x="269.4" y="567.8" font-size="8.9" text-anchor="start" fill="#d9383a">44-74</text>
<circle cx="323.7" cy="547.0" r="8.7" fill="#a26aa6"/>
<path d="M323.7,547.0 L332.4,547.0 A8.7,8.7 0 0 1 326.00,555.39 Z" fill="#5e62a6"/>
<text x="307.1" y="535.25" font-size="6.8" text-anchor="start" textLength="31.20" lengthAdjust="spacingAndGlyphs"><tspan fill="#ab70ae">+493</tspan><tspan fill="#8a8a8a">/</tspan><tspan fill="#6a6bad">-129</tspan></text>
<text x="337.9" y="557.0" font-size="8.9" text-anchor="start" fill="#d9383a">25-56</text>
<circle cx="368.2" cy="602.0" r="8.7" fill="#a26aa6"/>
<path d="M368.2,602.0 L376.9,602.0 A8.7,8.7 0 1 1 371.37,593.90 Z" fill="#5e62a6"/>
<text x="350.7" y="590.45" font-size="6.8" text-anchor="start" textLength="34.10" lengthAdjust="spacingAndGlyphs"><tspan fill="#ab70ae">+256</tspan><tspan fill="#8a8a8a">/</tspan><tspan fill="#6a6bad">-1087</tspan></text>
<text x="397.1" y="610.4" font-size="8.9" text-anchor="start" fill="#d9383a">18-38</text>
<circle cx="451.6" cy="617.1" r="8.7" fill="#a26aa6"/>
<path d="M451.6,617.1 L460.3,617.1 A8.7,8.7 0 1 1 459.48,613.41 Z" fill="#5e62a6"/>
<text x="414.1" y="627.95" font-size="6.8" text-anchor="start" textLength="27.00" lengthAdjust="spacingAndGlyphs"><tspan fill="#ab70ae">+52 </tspan><tspan fill="#8a8a8a">/</tspan><tspan fill="#6a6bad">-694</tspan></text>
<text x="432.0" y="640.0" font-size="8.9" text-anchor="start" fill="#d9383a">12-29</text>
<polygon points="54.30,503.80 55.94,507.35 59.82,507.81 56.95,510.46 57.71,514.29 54.30,512.38 50.89,514.29 51.65,510.46 48.78,507.81 52.66,507.35" fill="#d9442c" stroke="none" stroke-width="0" stroke-linejoin="round"/>
<polygon points="449.40,524.60 450.92,527.90 454.54,528.33 451.87,530.80 452.57,534.37 449.40,532.59 446.23,534.37 446.93,530.80 444.26,528.33 447.88,527.90" fill="#2a56a8" stroke="#1a1a4a" stroke-width="0.6" stroke-linejoin="round"/>
<text x="34.9" y="498.8" font-size="8.9" text-anchor="start" fill="#d9383a">109-124</text>
<circle cx="535.2" cy="259.8" r="8.7" fill="#a26aa6"/>
<path d="M535.2,259.8 L543.9000000000001,259.8 A8.7,8.7 0 0 1 539.56,267.33 Z" fill="#5e62a6"/>
<text x="482.2" y="255.45" font-size="6.8" text-anchor="start" textLength="37.50" lengthAdjust="spacingAndGlyphs"><tspan fill="#ab70ae">+7985</tspan><tspan fill="#8a8a8a">/</tspan><tspan fill="#6a6bad">-1594</tspan></text>
<text x="547.4" y="262.80" font-size="11.6" font-style="italic" fill="#1a1a1a">Gam</text>
<circle cx="535.2" cy="281.41" r="8.7" fill="#a26aa6"/>
<path d="M535.2,281.41 L543.9000000000001,281.41 A8.7,8.7 0 1 1 527.16,278.08 Z" fill="#5e62a6"/>
<text x="485.1" y="276.66" font-size="6.8" text-anchor="start" textLength="34.30" lengthAdjust="spacingAndGlyphs"><tspan fill="#ab70ae">+841</tspan><tspan fill="#8a8a8a">/</tspan><tspan fill="#6a6bad">-1081</tspan></text>
<text x="547.4" y="284.41" font-size="11.6" font-style="italic" fill="#1a1a1a">Csa</text>
<circle cx="535.2" cy="303.02" r="8.7" fill="#a26aa6"/>
<path d="M535.2,303.02 L543.9000000000001,303.02 A8.7,8.7 0 0 1 526.66,304.67 Z" fill="#5e62a6"/>
<text x="487.6" y="299.77" font-size="6.8" text-anchor="start" textLength="31.50" lengthAdjust="spacingAndGlyphs"><tspan fill="#ab70ae">+823 </tspan><tspan fill="#8a8a8a">/</tspan><tspan fill="#6a6bad">-729</tspan></text>
<text x="547.4" y="306.02" font-size="11.6" font-style="italic" fill="#1a1a1a">Hlu</text>
<circle cx="535.2" cy="324.63" r="8.7" fill="#a26aa6"/>
<path d="M535.2,324.63 L543.9000000000001,324.63 A8.7,8.7 0 1 1 529.79,317.82 Z" fill="#5e62a6"/>
<text x="488.0" y="321.08" font-size="6.8" text-anchor="start" textLength="34.30" lengthAdjust="spacingAndGlyphs"><tspan fill="#ab70ae">+657 </tspan><tspan fill="#8a8a8a">/</tspan><tspan fill="#6a6bad">-1184</tspan></text>
<text x="547.4" y="327.63" font-size="11.6" font-style="italic" fill="#1a1a1a">Mno</text>
<circle cx="535.2" cy="346.24" r="8.7" fill="#a26aa6"/>
<path d="M535.2,346.24 L543.9000000000001,346.24 A8.7,8.7 0 1 1 526.80,343.98 Z" fill="#5e62a6"/>
<text x="488.0" y="342.79" font-size="6.8" text-anchor="start" textLength="37.30" lengthAdjust="spacingAndGlyphs"><tspan fill="#ab70ae">+1635</tspan><tspan fill="#8a8a8a">/</tspan><tspan fill="#6a6bad">-1934</tspan></text>
<text x="547.4" y="349.24" font-size="11.6" font-style="italic" fill="#1a1a1a">Udi</text>
<circle cx="535.2" cy="367.85" r="8.7" fill="#a26aa6"/>
<path d="M535.2,367.85 L543.9000000000001,367.85 A8.7,8.7 0 0 1 535.42,376.55 Z" fill="#5e62a6"/>
<text x="488.0" y="365.70" font-size="6.8" text-anchor="start" textLength="37.30" lengthAdjust="spacingAndGlyphs"><tspan fill="#ab70ae">+3324</tspan><tspan fill="#8a8a8a">/</tspan><tspan fill="#6a6bad">-1084</tspan></text>
<text x="547.4" y="370.85" font-size="11.6" font-style="italic" fill="#1a1a1a">Umi</text>
<circle cx="535.2" cy="389.46000000000004" r="8.7" fill="#a26aa6"/>
<path d="M535.2,389.46000000000004 L543.9000000000001,389.46000000000004 A8.7,8.7 0 0 1 530.46,396.75 Z" fill="#5e62a6"/>
<text x="486.3" y="387.01" font-size="6.8" text-anchor="start" textLength="38.40" lengthAdjust="spacingAndGlyphs"><tspan fill="#ab70ae">+2022</tspan><tspan fill="#8a8a8a">/</tspan><tspan fill="#6a6bad">-1050</tspan></text>
<text x="547.4" y="392.46" font-size="11.6" font-style="italic" fill="#1a1a1a">Emo</text>
<circle cx="535.2" cy="411.07" r="8.7" fill="#a26aa6"/>
<path d="M535.2,411.07 L543.9000000000001,411.07 A8.7,8.7 0 0 1 539.88,418.41 Z" fill="#5e62a6"/>
<text x="488.0" y="407.72" font-size="6.8" text-anchor="start" textLength="34.00" lengthAdjust="spacingAndGlyphs"><tspan fill="#ab70ae">+1837</tspan><tspan fill="#8a8a8a">/</tspan><tspan fill="#6a6bad">-349</tspan></text>
<text x="547.4" y="414.07" font-size="11.6" font-style="italic" fill="#1a1a1a">Hsa</text>
<circle cx="535.2" cy="432.68" r="8.7" fill="#a26aa6"/>
<path d="M535.2,432.68 L543.9000000000001,432.68 A8.7,8.7 0 0 1 526.67,434.40 Z" fill="#5e62a6"/>
<text x="488.0" y="428.73" font-size="6.8" text-anchor="start" textLength="34.00" lengthAdjust="spacingAndGlyphs"><tspan fill="#ab70ae">+1134</tspan><tspan fill="#8a8a8a">/</tspan><tspan fill="#6a6bad">-999</tspan></text>
<text x="547.4" y="435.68" font-size="11.6" font-style="italic" fill="#1a1a1a">Rru</text>
<circle cx="535.2" cy="454.29" r="8.7" fill="#a26aa6"/>
<path d="M535.2,454.29 L543.9000000000001,454.29 A8.7,8.7 0 0 1 526.52,454.93 Z" fill="#5e62a6"/>
<text x="491.6" y="451.44" font-size="6.8" text-anchor="start" textLength="31.10" lengthAdjust="spacingAndGlyphs"><tspan fill="#ab70ae">+781 </tspan><tspan fill="#8a8a8a">/</tspan><tspan fill="#6a6bad">-745</tspan></text>
<text x="547.4" y="457.29" font-size="11.6" font-style="italic" fill="#1a1a1a">Sth</text>
<circle cx="535.2" cy="475.9" r="8.7" fill="#a26aa6"/>
<path d="M535.2,475.9 L543.9000000000001,475.9 A8.7,8.7 0 1 1 530.12,468.84 Z" fill="#5e62a6"/>
<text x="491.6" y="472.35" font-size="6.8" text-anchor="start" textLength="31.10" lengthAdjust="spacingAndGlyphs"><tspan fill="#ab70ae">+447 </tspan><tspan fill="#8a8a8a">/</tspan><tspan fill="#6a6bad">-833</tspan></text>
<text x="547.4" y="478.90" font-size="11.6" font-style="italic" fill="#1a1a1a">Phe</text>
<circle cx="535.2" cy="497.51" r="8.7" fill="#a26aa6"/>
<path d="M535.2,497.51 L543.9000000000001,497.51 A8.7,8.7 0 1 1 526.67,495.81 Z" fill="#5e62a6"/>
<text x="491.6" y="492.76" font-size="6.8" text-anchor="start" textLength="31.10" lengthAdjust="spacingAndGlyphs"><tspan fill="#ab70ae">+651 </tspan><tspan fill="#8a8a8a">/</tspan><tspan fill="#6a6bad">-738</tspan></text>
<text x="547.4" y="500.51" font-size="11.6" font-style="italic" fill="#1a1a1a">Zju</text>
<circle cx="535.2" cy="519.12" r="8.7" fill="#a26aa6"/>
<path d="M535.2,519.12 L543.9000000000001,519.12 A8.7,8.7 0 0 1 535.59,527.81 Z" fill="#5e62a6"/>
<text x="488.4" y="514.57" font-size="6.8" text-anchor="start" textLength="33.60" lengthAdjust="spacingAndGlyphs"><tspan fill="#ab70ae">+1599</tspan><tspan fill="#8a8a8a">/</tspan><tspan fill="#6a6bad">-513</tspan></text>
<text x="547.4" y="522.12" font-size="11.6" font-style="italic" fill="#1a1a1a">Mdo</text>
<circle cx="535.2" cy="540.73" r="8.7" fill="#a26aa6"/>
<path d="M535.2,540.73 L543.9000000000001,540.73 A8.7,8.7 0 0 1 533.93,549.34 Z" fill="#5e62a6"/>
<text x="492.0" y="550.18" font-size="6.8" text-anchor="start" textLength="34.00" lengthAdjust="spacingAndGlyphs"><tspan fill="#ab70ae">+1476</tspan><tspan fill="#8a8a8a">/</tspan><tspan fill="#6a6bad">-555</tspan></text>
<text x="547.4" y="543.73" font-size="11.6" font-style="italic" fill="#1a1a1a">Pco</text>
<circle cx="535.2" cy="562.3399999999999" r="8.7" fill="#a26aa6"/>
<path d="M535.2,562.3399999999999 L543.9000000000001,562.3399999999999 A8.7,8.7 0 1 1 529.87,555.46 Z" fill="#5e62a6"/>
<text x="492.0" y="560.39" font-size="6.8" text-anchor="start" textLength="34.00" lengthAdjust="spacingAndGlyphs"><tspan fill="#ab70ae">+690 </tspan><tspan fill="#8a8a8a">/</tspan><tspan fill="#6a6bad">-1254</tspan></text>
<text x="547.4" y="565.34" font-size="11.6" font-style="italic" fill="#1a1a1a">Ppe</text>
<circle cx="535.2" cy="583.95" r="8.7" fill="#a26aa6"/>
<path d="M535.2,583.95 L543.9000000000001,583.95 A8.7,8.7 0 0 1 528.26,589.19 Z" fill="#5e62a6"/>
<text x="492.0" y="580.10" font-size="6.8" text-anchor="start" textLength="33.70" lengthAdjust="spacingAndGlyphs"><tspan fill="#ab70ae">+1113</tspan><tspan fill="#8a8a8a">/</tspan><tspan fill="#6a6bad">-733</tspan></text>
<text x="547.4" y="586.95" font-size="11.6" font-style="italic" fill="#1a1a1a">Rch</text>
<circle cx="535.2" cy="605.56" r="8.7" fill="#a26aa6"/>
<path d="M535.2,605.56 L543.9000000000001,605.56 A8.7,8.7 0 1 1 541.23,599.28 Z" fill="#5e62a6"/>
<text x="492.9" y="602.71" font-size="6.8" text-anchor="start" textLength="33.10" lengthAdjust="spacingAndGlyphs"><tspan fill="#ab70ae">+277</tspan><tspan fill="#8a8a8a">/</tspan><tspan fill="#6a6bad">-1883</tspan></text>
<text x="547.4" y="608.56" font-size="11.6" font-style="italic" fill="#1a1a1a">Aan</text>
<circle cx="535.2" cy="627.1700000000001" r="8.7" fill="#a26aa6"/>
<path d="M535.2,627.1700000000001 L543.9000000000001,627.1700000000001 A8.7,8.7 0 1 1 527.03,624.18 Z" fill="#5e62a6"/>
<text x="492.4" y="622.12" font-size="6.8" text-anchor="start" textLength="30.70" lengthAdjust="spacingAndGlyphs"><tspan fill="#ab70ae">+665 </tspan><tspan fill="#8a8a8a">/</tspan><tspan fill="#6a6bad">-832</tspan></text>
<text x="547.4" y="630.17" font-size="11.6" font-style="italic" fill="#1a1a1a">Fve</text>
<circle cx="535.2" cy="648.78" r="8.7" fill="#a26aa6"/>
<path d="M535.2,648.78 L543.9000000000001,648.78 A8.7,8.7 0 1 1 529.33,642.36 Z" fill="#5e62a6"/>
<text x="492.0" y="644.13" font-size="6.8" text-anchor="start" textLength="34.00" lengthAdjust="spacingAndGlyphs"><tspan fill="#ab70ae">+802 </tspan><tspan fill="#8a8a8a">/</tspan><tspan fill="#6a6bad">-1378</tspan></text>
<text x="547.4" y="651.78" font-size="11.6" font-style="italic" fill="#1a1a1a">Vvi</text>
<rect x="574.20" y="252.70" width="2.9" height="3.45" fill="#e05a63"/>
<rect x="574.20" y="256.10" width="2.9" height="1.75" fill="#f08c3a"/>
<rect x="574.20" y="257.80" width="2.9" height="1.75" fill="#4e77ab"/>
<rect x="574.20" y="259.50" width="2.9" height="3.45" fill="#ad7aab"/>
<rect x="579.96" y="250.10" width="2.9" height="12.85" fill="#59a45a"/>
<rect x="585.72" y="251.40" width="2.9" height="9.25" fill="#e05a63"/>
<rect x="585.72" y="260.60" width="2.9" height="2.35" fill="#59a45a"/>
<rect x="591.48" y="252.70" width="2.9" height="10.25" fill="#e05a63"/>
<rect x="597.24" y="247.70" width="2.9" height="15.25" fill="#eac85b"/>
<rect x="603.00" y="253.60" width="2.9" height="9.35" fill="#e05a63"/>
<rect x="608.76" y="251.90" width="2.9" height="11.05" fill="#4e77ab"/>
<rect x="614.52" y="253.60" width="2.9" height="9.35" fill="#e05a63"/>
<rect x="620.28" y="251.90" width="2.9" height="11.05" fill="#e05a63"/>
<rect x="626.04" y="250.80" width="2.9" height="12.15" fill="#ad7aab"/>
<rect x="631.80" y="251.90" width="2.9" height="2.80" fill="#59a45a"/>
<rect x="631.80" y="254.65" width="2.9" height="8.30" fill="#ad7aab"/>
<rect x="637.56" y="249.90" width="2.9" height="10.88" fill="#f08c3a"/>
<rect x="637.56" y="260.73" width="2.9" height="2.22" fill="#59a45a"/>
<rect x="643.32" y="252.70" width="2.9" height="10.25" fill="#ad7aab"/>
<rect x="649.08" y="251.90" width="2.9" height="2.80" fill="#72bfbd"/>
<rect x="649.08" y="254.65" width="2.9" height="8.30" fill="#f08c3a"/>
<rect x="654.84" y="251.90" width="2.9" height="2.25" fill="#72bfbd"/>
<rect x="654.84" y="254.10" width="2.9" height="2.25" fill="#ad7aab"/>
<rect x="654.84" y="256.30" width="2.9" height="4.45" fill="#e05a63"/>
<rect x="654.84" y="260.70" width="2.9" height="2.25" fill="#4e77ab"/>
<rect x="660.60" y="252.70" width="2.9" height="2.09" fill="#ad7aab"/>
<rect x="660.60" y="254.74" width="2.9" height="4.13" fill="#e05a63"/>
<rect x="660.60" y="258.82" width="2.9" height="4.13" fill="#4e77ab"/>
<rect x="666.36" y="249.90" width="2.9" height="2.65" fill="#eac85b"/>
<rect x="666.36" y="252.50" width="2.9" height="2.65" fill="#e05a63"/>
<rect x="666.36" y="255.10" width="2.9" height="2.65" fill="#ad7aab"/>
<rect x="666.36" y="257.70" width="2.9" height="2.65" fill="#e05a63"/>
<rect x="666.36" y="260.30" width="2.9" height="2.65" fill="#4e77ab"/>
<rect x="672.12" y="251.90" width="2.9" height="8.30" fill="#ad7aab"/>
<rect x="672.12" y="260.15" width="2.9" height="2.80" fill="#4e77ab"/>
<rect x="677.88" y="247.70" width="2.9" height="15.25" fill="#e05a63"/>
<rect x="574.20" y="269.30" width="2.9" height="13.34" fill="#4e77ab"/>
<rect x="574.20" y="282.59" width="2.9" height="2.26" fill="#f08c3a"/>
<rect x="579.96" y="271.50" width="2.9" height="10.69" fill="#59a45a"/>
<rect x="579.96" y="282.14" width="2.9" height="2.71" fill="#e05a63"/>
<rect x="585.72" y="273.30" width="2.9" height="11.55" fill="#f08c3a"/>
<rect x="591.48" y="275.10" width="2.9" height="3.28" fill="#ad7aab"/>
<rect x="591.48" y="278.33" width="2.9" height="6.52" fill="#f08c3a"/>
<rect x="597.24" y="272.90" width="2.9" height="6.00" fill="#e05a63"/>
<rect x="597.24" y="278.85" width="2.9" height="6.00" fill="#ad7aab"/>
<rect x="603.00" y="275.70" width="2.9" height="3.69" fill="#72bfbd"/>
<rect x="603.00" y="279.34" width="2.9" height="1.87" fill="#f08c3a"/>
<rect x="603.00" y="281.16" width="2.9" height="3.69" fill="#72bfbd"/>
<rect x="608.76" y="275.10" width="2.9" height="3.28" fill="#e05a63"/>
<rect x="608.76" y="278.33" width="2.9" height="6.52" fill="#eac85b"/>
<rect x="614.52" y="277.80" width="2.9" height="7.05" fill="#f08c3a"/>
<rect x="620.28" y="274.70" width="2.9" height="10.15" fill="#ad7aab"/>
<rect x="626.04" y="275.70" width="2.9" height="9.15" fill="#59a45a"/>
<rect x="574.20" y="292.40" width="2.9" height="8.51" fill="#e05a63"/>
<rect x="574.20" y="300.86" width="2.9" height="2.87" fill="#59a45a"/>
<rect x="574.20" y="303.68" width="2.9" height="2.87" fill="#ad7aab"/>
<rect x="579.96" y="296.10" width="2.9" height="10.45" fill="#4e77ab"/>
<rect x="585.72" y="291.50" width="2.9" height="3.80" fill="#59a45a"/>
<rect x="585.72" y="295.25" width="2.9" height="7.55" fill="#ad7aab"/>
<rect x="585.72" y="302.75" width="2.9" height="3.80" fill="#eac85b"/>
<rect x="591.48" y="294.60" width="2.9" height="7.98" fill="#ad7aab"/>
<rect x="591.48" y="302.53" width="2.9" height="4.02" fill="#f08c3a"/>
<rect x="597.24" y="296.10" width="2.9" height="3.52" fill="#f08c3a"/>
<rect x="597.24" y="299.57" width="2.9" height="6.98" fill="#ad7aab"/>
<rect x="603.00" y="296.10" width="2.9" height="6.98" fill="#72bfbd"/>
<rect x="603.00" y="303.03" width="2.9" height="3.52" fill="#f08c3a"/>
<rect x="608.76" y="295.20" width="2.9" height="7.58" fill="#eac85b"/>
<rect x="608.76" y="302.73" width="2.9" height="3.82" fill="#e05a63"/>
<rect x="614.52" y="295.20" width="2.9" height="7.58" fill="#f08c3a"/>
<rect x="614.52" y="302.73" width="2.9" height="3.82" fill="#e05a63"/>
<rect x="620.28" y="292.40" width="2.9" height="2.87" fill="#f08c3a"/>
<rect x="620.28" y="295.22" width="2.9" height="5.69" fill="#4e77ab"/>
<rect x="620.28" y="300.86" width="2.9" height="5.69" fill="#eac85b"/>
<rect x="574.20" y="314.60" width="2.9" height="2.49" fill="#72bfbd"/>
<rect x="574.20" y="317.04" width="2.9" height="2.49" fill="#f08c3a"/>
<rect x="574.20" y="319.48" width="2.9" height="2.49" fill="#e05a63"/>
<rect x="574.20" y="321.92" width="2.9" height="2.49" fill="#4e77ab"/>
<rect x="574.20" y="324.36" width="2.9" height="2.49" fill="#ad7aab"/>
<rect x="579.96" y="318.20" width="2.9" height="2.92" fill="#e05a63"/>
<rect x="579.96" y="321.07" width="2.9" height="2.92" fill="#59a45a"/>
<rect x="579.96" y="323.93" width="2.9" height="2.92" fill="#ad7aab"/>
<rect x="585.72" y="318.60" width="2.9" height="2.78" fill="#f08c3a"/>
<rect x="585.72" y="321.33" width="2.9" height="2.78" fill="#72bfbd"/>
<rect x="585.72" y="324.07" width="2.9" height="2.78" fill="#e05a63"/>
<rect x="591.48" y="320.90" width="2.9" height="3.00" fill="#f08c3a"/>
<rect x="591.48" y="323.85" width="2.9" height="3.00" fill="#ad7aab"/>
<rect x="597.24" y="323.10" width="2.9" height="1.90" fill="#eac85b"/>
<rect x="597.24" y="324.95" width="2.9" height="1.90" fill="#4e77ab"/>
<rect x="603.00" y="323.30" width="2.9" height="3.55" fill="#ad7aab"/>
<rect x="574.20" y="338.90" width="2.9" height="2.23" fill="#ad7aab"/>
<rect x="574.20" y="341.08" width="2.9" height="4.41" fill="#eac85b"/>
<rect x="574.20" y="345.44" width="2.9" height="4.41" fill="#ad7aab"/>
<rect x="579.96" y="341.40" width="2.9" height="6.35" fill="#ad7aab"/>
<rect x="579.96" y="347.70" width="2.9" height="2.15" fill="#4e77ab"/>
<rect x="585.72" y="338.60" width="2.9" height="7.52" fill="#f08c3a"/>
<rect x="585.72" y="346.07" width="2.9" height="3.78" fill="#59a45a"/>
<rect x="591.48" y="340.30" width="2.9" height="3.22" fill="#72bfbd"/>
<rect x="591.48" y="343.47" width="2.9" height="6.38" fill="#f08c3a"/>
<rect x="597.24" y="342.50" width="2.9" height="7.35" fill="#f08c3a"/>
<rect x="603.00" y="341.00" width="2.9" height="8.85" fill="#f08c3a"/>
<rect x="608.76" y="341.40" width="2.9" height="8.45" fill="#ad7aab"/>
<rect x="614.52" y="335.20" width="2.9" height="7.35" fill="#72bfbd"/>
<rect x="614.52" y="342.50" width="2.9" height="7.35" fill="#e05a63"/>
<rect x="620.28" y="341.40" width="2.9" height="2.85" fill="#eac85b"/>
<rect x="620.28" y="344.20" width="2.9" height="5.65" fill="#4e77ab"/>
<rect x="626.04" y="341.00" width="2.9" height="2.25" fill="#ad7aab"/>
<rect x="626.04" y="343.20" width="2.9" height="6.65" fill="#59a45a"/>
<rect x="631.80" y="336.40" width="2.9" height="5.41" fill="#e05a63"/>
<rect x="631.80" y="341.76" width="2.9" height="2.73" fill="#4e77ab"/>
<rect x="631.80" y="344.44" width="2.9" height="5.41" fill="#ad7aab"/>
<rect x="637.56" y="337.30" width="2.9" height="6.30" fill="#59a45a"/>
<rect x="637.56" y="343.55" width="2.9" height="3.17" fill="#e05a63"/>
<rect x="637.56" y="346.68" width="2.9" height="3.17" fill="#f08c3a"/>
<rect x="643.32" y="338.80" width="2.9" height="11.05" fill="#eac85b"/>
<rect x="574.20" y="357.10" width="2.9" height="4.92" fill="#ad7aab"/>
<rect x="574.20" y="361.97" width="2.9" height="4.92" fill="#f08c3a"/>
<rect x="574.20" y="366.83" width="2.9" height="2.48" fill="#4e77ab"/>
<rect x="574.20" y="369.27" width="2.9" height="2.48" fill="#eac85b"/>
<rect x="579.96" y="364.20" width="2.9" height="5.05" fill="#72bfbd"/>
<rect x="579.96" y="369.20" width="2.9" height="2.55" fill="#f08c3a"/>
<rect x="585.72" y="364.70" width="2.9" height="7.05" fill="#4e77ab"/>
<rect x="591.48" y="365.70" width="2.9" height="6.05" fill="#f08c3a"/>
<rect x="597.24" y="365.70" width="2.9" height="3.05" fill="#ad7aab"/>
<rect x="597.24" y="368.70" width="2.9" height="3.05" fill="#f08c3a"/>
<rect x="603.00" y="366.20" width="2.9" height="5.55" fill="#59a45a"/>
<rect x="608.76" y="359.60" width="2.9" height="4.89" fill="#eac85b"/>
<rect x="608.76" y="364.44" width="2.9" height="2.47" fill="#4e77ab"/>
<rect x="608.76" y="366.86" width="2.9" height="4.89" fill="#59a45a"/>
<rect x="614.52" y="361.10" width="2.9" height="2.70" fill="#ad7aab"/>
<rect x="614.52" y="363.75" width="2.9" height="2.70" fill="#e05a63"/>
<rect x="614.52" y="366.40" width="2.9" height="2.70" fill="#4e77ab"/>
<rect x="614.52" y="369.05" width="2.9" height="2.70" fill="#ad7aab"/>
<rect x="620.28" y="362.40" width="2.9" height="2.38" fill="#72bfbd"/>
<rect x="620.28" y="364.72" width="2.9" height="4.70" fill="#f08c3a"/>
<rect x="620.28" y="369.38" width="2.9" height="2.38" fill="#72bfbd"/>
<rect x="626.04" y="362.40" width="2.9" height="4.70" fill="#59a45a"/>
<rect x="626.04" y="367.05" width="2.9" height="2.38" fill="#ad7aab"/>
<rect x="626.04" y="369.37" width="2.9" height="2.38" fill="#f08c3a"/>
<rect x="631.80" y="362.40" width="2.9" height="7.03" fill="#e05a63"/>
<rect x="631.80" y="369.38" width="2.9" height="2.38" fill="#59a45a"/>
<rect x="637.56" y="362.40" width="2.9" height="9.35" fill="#e05a63"/>
<rect x="643.32" y="363.50" width="2.9" height="8.25" fill="#e05a63"/>
<rect x="649.08" y="364.70" width="2.9" height="7.05" fill="#ad7aab"/>
<rect x="575.00" y="378.30" width="2.9" height="7.70" fill="#f08c3a"/>
<rect x="575.00" y="385.95" width="2.9" height="2.60" fill="#4e77ab"/>
<rect x="575.00" y="388.50" width="2.9" height="2.60" fill="#72bfbd"/>
<rect x="575.00" y="391.05" width="2.9" height="2.60" fill="#e05a63"/>
<rect x="580.76" y="387.80" width="2.9" height="5.85" fill="#f08c3a"/>
<rect x="586.52" y="388.10" width="2.9" height="5.55" fill="#4e77ab"/>
<rect x="592.28" y="389.10" width="2.9" height="4.55" fill="#72bfbd"/>
<rect x="598.04" y="389.10" width="2.9" height="4.55" fill="#72bfbd"/>
<rect x="603.80" y="388.70" width="2.9" height="4.95" fill="#e05a63"/>
<rect x="609.56" y="384.10" width="2.9" height="2.42" fill="#e05a63"/>
<rect x="609.56" y="386.48" width="2.9" height="2.42" fill="#f08c3a"/>
<rect x="609.56" y="388.85" width="2.9" height="2.42" fill="#eac85b"/>
<rect x="609.56" y="391.23" width="2.9" height="2.42" fill="#f08c3a"/>
<rect x="615.32" y="385.60" width="2.9" height="2.05" fill="#e05a63"/>
<rect x="615.32" y="387.60" width="2.9" height="2.05" fill="#4e77ab"/>
<rect x="615.32" y="389.60" width="2.9" height="2.05" fill="#f08c3a"/>
<rect x="615.32" y="391.60" width="2.9" height="2.05" fill="#e05a63"/>
<rect x="621.08" y="387.20" width="2.9" height="3.25" fill="#72bfbd"/>
<rect x="621.08" y="390.40" width="2.9" height="3.25" fill="#59a45a"/>
<rect x="626.84" y="389.60" width="2.9" height="4.05" fill="#59a45a"/>
<rect x="632.60" y="386.90" width="2.9" height="2.28" fill="#f08c3a"/>
<rect x="632.60" y="389.13" width="2.9" height="2.28" fill="#eac85b"/>
<rect x="632.60" y="391.37" width="2.9" height="2.28" fill="#ad7aab"/>
<rect x="638.36" y="387.80" width="2.9" height="5.85" fill="#ad7aab"/>
<rect x="644.12" y="389.60" width="2.9" height="4.05" fill="#e05a63"/>
<rect x="649.88" y="388.10" width="2.9" height="5.55" fill="#59a45a"/>
<rect x="575.00" y="400.50" width="2.9" height="8.81" fill="#4e77ab"/>
<rect x="575.00" y="409.26" width="2.9" height="2.97" fill="#f08c3a"/>
<rect x="575.00" y="412.18" width="2.9" height="2.97" fill="#e05a63"/>
<rect x="580.76" y="407.80" width="2.9" height="7.35" fill="#59a45a"/>
<rect x="586.52" y="406.90" width="2.9" height="8.25" fill="#72bfbd"/>
<rect x="592.28" y="407.30" width="2.9" height="7.85" fill="#59a45a"/>
<rect x="598.04" y="403.80" width="2.9" height="2.88" fill="#e05a63"/>
<rect x="598.04" y="406.62" width="2.9" height="2.88" fill="#f08c3a"/>
<rect x="598.04" y="409.45" width="2.9" height="2.88" fill="#72bfbd"/>
<rect x="598.04" y="412.27" width="2.9" height="2.88" fill="#e05a63"/>
<rect x="603.80" y="400.00" width="2.9" height="3.83" fill="#e05a63"/>
<rect x="603.80" y="403.77" width="2.9" height="3.83" fill="#72bfbd"/>
<rect x="603.80" y="407.55" width="2.9" height="3.83" fill="#f08c3a"/>
<rect x="603.80" y="411.32" width="2.9" height="3.83" fill="#e05a63"/>
<rect x="609.56" y="403.30" width="2.9" height="3.98" fill="#f08c3a"/>
<rect x="609.56" y="407.23" width="2.9" height="3.98" fill="#ad7aab"/>
<rect x="609.56" y="411.17" width="2.9" height="3.98" fill="#e05a63"/>
<rect x="615.32" y="404.20" width="2.9" height="2.78" fill="#59a45a"/>
<rect x="615.32" y="406.93" width="2.9" height="5.50" fill="#e05a63"/>
<rect x="615.32" y="412.38" width="2.9" height="2.78" fill="#59a45a"/>
<rect x="621.08" y="403.80" width="2.9" height="3.82" fill="#72bfbd"/>
<rect x="621.08" y="407.57" width="2.9" height="7.58" fill="#eac85b"/>
<rect x="626.84" y="404.20" width="2.9" height="10.95" fill="#ad7aab"/>
<rect x="632.60" y="404.20" width="2.9" height="10.95" fill="#e05a63"/>
<rect x="638.36" y="407.50" width="2.9" height="7.65" fill="#e05a63"/>
<rect x="575.00" y="423.90" width="2.9" height="12.85" fill="#59a45a"/>
<rect x="580.76" y="426.60" width="2.9" height="3.42" fill="#59a45a"/>
<rect x="580.76" y="429.97" width="2.9" height="6.78" fill="#e05a63"/>
<rect x="586.52" y="427.90" width="2.9" height="5.92" fill="#f08c3a"/>
<rect x="586.52" y="433.77" width="2.9" height="2.98" fill="#72bfbd"/>
<rect x="592.28" y="428.50" width="2.9" height="8.25" fill="#ad7aab"/>
<rect x="598.04" y="422.10" width="2.9" height="2.97" fill="#f08c3a"/>
<rect x="598.04" y="425.02" width="2.9" height="5.89" fill="#eac85b"/>
<rect x="598.04" y="430.86" width="2.9" height="2.97" fill="#4e77ab"/>
<rect x="598.04" y="433.78" width="2.9" height="2.97" fill="#e05a63"/>
<rect x="603.80" y="424.80" width="2.9" height="7.98" fill="#4e77ab"/>
<rect x="603.80" y="432.73" width="2.9" height="4.02" fill="#eac85b"/>
<rect x="609.56" y="427.00" width="2.9" height="3.28" fill="#f08c3a"/>
<rect x="609.56" y="430.23" width="2.9" height="6.52" fill="#72bfbd"/>
<rect x="615.32" y="425.70" width="2.9" height="11.05" fill="#e05a63"/>
<rect x="621.08" y="427.00" width="2.9" height="3.28" fill="#ad7aab"/>
<rect x="621.08" y="430.23" width="2.9" height="6.52" fill="#eac85b"/>
<rect x="626.84" y="427.00" width="2.9" height="9.75" fill="#f08c3a"/>
<rect x="632.60" y="426.10" width="2.9" height="3.58" fill="#72bfbd"/>
<rect x="632.60" y="429.63" width="2.9" height="7.12" fill="#e05a63"/>
<rect x="638.36" y="426.60" width="2.9" height="10.15" fill="#4e77ab"/>
<rect x="575.00" y="447.70" width="2.9" height="11.15" fill="#59a45a"/>
<rect x="580.76" y="448.20" width="2.9" height="3.58" fill="#72bfbd"/>
<rect x="580.76" y="451.73" width="2.9" height="7.12" fill="#e05a63"/>
<rect x="586.52" y="449.50" width="2.9" height="9.35" fill="#ad7aab"/>
<rect x="592.28" y="451.00" width="2.9" height="7.85" fill="#ad7aab"/>
<rect x="598.04" y="443.60" width="2.9" height="2.58" fill="#eac85b"/>
<rect x="598.04" y="446.13" width="2.9" height="2.58" fill="#4e77ab"/>
<rect x="598.04" y="448.67" width="2.9" height="10.18" fill="#f08c3a"/>
<rect x="603.80" y="446.80" width="2.9" height="12.05" fill="#e05a63"/>
<rect x="609.56" y="448.20" width="2.9" height="5.35" fill="#72bfbd"/>
<rect x="609.56" y="453.50" width="2.9" height="2.70" fill="#f08c3a"/>
<rect x="609.56" y="456.15" width="2.9" height="2.70" fill="#4e77ab"/>
<rect x="615.32" y="449.10" width="2.9" height="6.52" fill="#72bfbd"/>
<rect x="615.32" y="455.57" width="2.9" height="3.28" fill="#f08c3a"/>
<rect x="621.08" y="448.20" width="2.9" height="2.70" fill="#4e77ab"/>
<rect x="621.08" y="450.85" width="2.9" height="8.00" fill="#eac85b"/>
<rect x="626.84" y="447.70" width="2.9" height="2.83" fill="#59a45a"/>
<rect x="626.84" y="450.48" width="2.9" height="5.60" fill="#e05a63"/>
<rect x="626.84" y="456.03" width="2.9" height="2.83" fill="#ad7aab"/>
<rect x="632.60" y="449.50" width="2.9" height="9.35" fill="#ad7aab"/>
<rect x="638.36" y="450.00" width="2.9" height="5.92" fill="#72bfbd"/>
<rect x="638.36" y="455.87" width="2.9" height="2.98" fill="#f08c3a"/>
<rect x="575.00" y="465.50" width="2.9" height="12.55" fill="#4e77ab"/>
<rect x="575.00" y="478.00" width="2.9" height="2.55" fill="#eac85b"/>
<rect x="580.76" y="471.00" width="2.9" height="3.22" fill="#59a45a"/>
<rect x="580.76" y="474.17" width="2.9" height="6.38" fill="#f08c3a"/>
<rect x="586.52" y="471.40" width="2.9" height="9.15" fill="#f08c3a"/>
<rect x="592.28" y="472.30" width="2.9" height="8.25" fill="#ad7aab"/>
<rect x="598.04" y="471.00" width="2.9" height="7.17" fill="#ad7aab"/>
<rect x="598.04" y="478.12" width="2.9" height="2.42" fill="#f08c3a"/>
<rect x="603.80" y="471.90" width="2.9" height="5.78" fill="#59a45a"/>
<rect x="603.80" y="477.63" width="2.9" height="2.92" fill="#ad7aab"/>
<rect x="609.56" y="470.10" width="2.9" height="10.45" fill="#ad7aab"/>
<rect x="615.32" y="470.10" width="2.9" height="7.85" fill="#e05a63"/>
<rect x="615.32" y="477.90" width="2.9" height="2.65" fill="#4e77ab"/>
<rect x="621.08" y="471.90" width="2.9" height="5.78" fill="#72bfbd"/>
<rect x="621.08" y="477.63" width="2.9" height="2.92" fill="#f08c3a"/>
<rect x="626.84" y="471.00" width="2.9" height="7.17" fill="#e05a63"/>
<rect x="626.84" y="478.12" width="2.9" height="2.42" fill="#4e77ab"/>
<rect x="632.60" y="471.40" width="2.9" height="3.08" fill="#72bfbd"/>
<rect x="632.60" y="474.43" width="2.9" height="6.12" fill="#f08c3a"/>
<rect x="638.36" y="470.10" width="2.9" height="10.45" fill="#59a45a"/>
<rect x="575.00" y="487.10" width="2.9" height="12.47" fill="#4e77ab"/>
<rect x="575.00" y="499.52" width="2.9" height="2.53" fill="#eac85b"/>
<rect x="580.76" y="492.60" width="2.9" height="3.18" fill="#59a45a"/>
<rect x="580.76" y="495.73" width="2.9" height="6.32" fill="#f08c3a"/>
<rect x="586.52" y="493.50" width="2.9" height="8.55" fill="#f08c3a"/>
<rect x="592.28" y="494.20" width="2.9" height="7.85" fill="#ad7aab"/>
<rect x="598.04" y="492.00" width="2.9" height="7.55" fill="#ad7aab"/>
<rect x="598.04" y="499.50" width="2.9" height="2.55" fill="#f08c3a"/>
<rect x="603.80" y="493.30" width="2.9" height="8.75" fill="#59a45a"/>
<rect x="609.56" y="492.00" width="2.9" height="10.05" fill="#ad7aab"/>
<rect x="615.32" y="492.60" width="2.9" height="7.10" fill="#e05a63"/>
<rect x="615.32" y="499.65" width="2.9" height="2.40" fill="#4e77ab"/>
<rect x="621.08" y="493.80" width="2.9" height="2.78" fill="#72bfbd"/>
<rect x="621.08" y="496.53" width="2.9" height="5.52" fill="#f08c3a"/>
<rect x="626.84" y="492.00" width="2.9" height="7.55" fill="#e05a63"/>
<rect x="626.84" y="499.50" width="2.9" height="2.55" fill="#4e77ab"/>
<rect x="632.60" y="492.00" width="2.9" height="3.38" fill="#72bfbd"/>
<rect x="632.60" y="495.33" width="2.9" height="3.38" fill="#f08c3a"/>
<rect x="632.60" y="498.67" width="2.9" height="3.38" fill="#eac85b"/>
<rect x="638.36" y="492.00" width="2.9" height="6.72" fill="#e05a63"/>
<rect x="638.36" y="498.67" width="2.9" height="3.38" fill="#59a45a"/>
<rect x="575.00" y="515.90" width="2.9" height="2.68" fill="#72bfbd"/>
<rect x="575.00" y="518.53" width="2.9" height="2.68" fill="#f08c3a"/>
<rect x="575.00" y="521.17" width="2.9" height="2.68" fill="#e05a63"/>
<rect x="580.76" y="512.80" width="2.9" height="3.72" fill="#eac85b"/>
<rect x="580.76" y="516.47" width="2.9" height="7.38" fill="#e05a63"/>
<rect x="586.52" y="513.80" width="2.9" height="2.55" fill="#59a45a"/>
<rect x="586.52" y="516.30" width="2.9" height="7.55" fill="#f08c3a"/>
<rect x="592.28" y="515.60" width="2.9" height="2.78" fill="#59a45a"/>
<rect x="592.28" y="518.33" width="2.9" height="5.52" fill="#f08c3a"/>
<rect x="598.04" y="515.00" width="2.9" height="5.92" fill="#59a45a"/>
<rect x="598.04" y="520.87" width="2.9" height="2.98" fill="#ad7aab"/>
<rect x="603.80" y="515.90" width="2.9" height="4.00" fill="#ad7aab"/>
<rect x="603.80" y="519.85" width="2.9" height="4.00" fill="#f08c3a"/>
<rect x="609.56" y="509.00" width="2.9" height="7.45" fill="#e05a63"/>
<rect x="609.56" y="516.40" width="2.9" height="2.52" fill="#4e77ab"/>
<rect x="609.56" y="518.87" width="2.9" height="4.98" fill="#e05a63"/>
<rect x="615.32" y="514.50" width="2.9" height="6.25" fill="#59a45a"/>
<rect x="615.32" y="520.70" width="2.9" height="3.15" fill="#ad7aab"/>
<rect x="621.08" y="514.50" width="2.9" height="6.25" fill="#4e77ab"/>
<rect x="621.08" y="520.70" width="2.9" height="3.15" fill="#ad7aab"/>
<rect x="626.84" y="513.80" width="2.9" height="3.38" fill="#f08c3a"/>
<rect x="626.84" y="517.13" width="2.9" height="3.38" fill="#e05a63"/>
<rect x="626.84" y="520.47" width="2.9" height="3.38" fill="#4e77ab"/>
<rect x="632.60" y="514.10" width="2.9" height="2.47" fill="#59a45a"/>
<rect x="632.60" y="516.52" width="2.9" height="2.47" fill="#eac85b"/>
<rect x="632.60" y="518.95" width="2.9" height="4.90" fill="#f08c3a"/>
<rect x="638.36" y="515.90" width="2.9" height="2.68" fill="#59a45a"/>
<rect x="638.36" y="518.53" width="2.9" height="5.32" fill="#72bfbd"/>
<rect x="644.12" y="512.30" width="2.9" height="4.65" fill="#eac85b"/>
<rect x="644.12" y="516.90" width="2.9" height="2.35" fill="#59a45a"/>
<rect x="644.12" y="519.20" width="2.9" height="4.65" fill="#e05a63"/>
<rect x="649.88" y="515.90" width="2.9" height="5.32" fill="#ad7aab"/>
<rect x="649.88" y="521.17" width="2.9" height="2.68" fill="#72bfbd"/>
<rect x="655.64" y="514.10" width="2.9" height="3.28" fill="#72bfbd"/>
<rect x="655.64" y="517.33" width="2.9" height="3.28" fill="#eac85b"/>
<rect x="655.64" y="520.57" width="2.9" height="3.28" fill="#f08c3a"/>
<rect x="661.40" y="515.90" width="2.9" height="7.95" fill="#e05a63"/>
<rect x="667.16" y="514.70" width="2.9" height="6.12" fill="#4e77ab"/>
<rect x="667.16" y="520.77" width="2.9" height="3.08" fill="#ad7aab"/>
<rect x="575.00" y="531.10" width="2.9" height="5.81" fill="#e05a63"/>
<rect x="575.00" y="536.86" width="2.9" height="2.93" fill="#4e77ab"/>
<rect x="575.00" y="539.74" width="2.9" height="5.81" fill="#e05a63"/>
<rect x="580.76" y="534.20" width="2.9" height="3.82" fill="#e05a63"/>
<rect x="580.76" y="537.97" width="2.9" height="7.58" fill="#eac85b"/>
<rect x="586.52" y="535.10" width="2.9" height="3.52" fill="#eac85b"/>
<rect x="586.52" y="538.57" width="2.9" height="6.98" fill="#e05a63"/>
<rect x="592.28" y="536.40" width="2.9" height="3.08" fill="#59a45a"/>
<rect x="592.28" y="539.43" width="2.9" height="6.12" fill="#ad7aab"/>
<rect x="598.04" y="536.40" width="2.9" height="4.60" fill="#f08c3a"/>
<rect x="598.04" y="540.95" width="2.9" height="2.33" fill="#72bfbd"/>
<rect x="598.04" y="543.23" width="2.9" height="2.33" fill="#4e77ab"/>
<rect x="603.80" y="536.40" width="2.9" height="4.60" fill="#ad7aab"/>
<rect x="603.80" y="540.95" width="2.9" height="2.33" fill="#59a45a"/>
<rect x="603.80" y="543.23" width="2.9" height="2.33" fill="#4e77ab"/>
<rect x="609.56" y="536.40" width="2.9" height="3.08" fill="#4e77ab"/>
<rect x="609.56" y="539.43" width="2.9" height="6.12" fill="#ad7aab"/>
<rect x="615.32" y="536.40" width="2.9" height="4.60" fill="#f08c3a"/>
<rect x="615.32" y="540.95" width="2.9" height="2.33" fill="#eac85b"/>
<rect x="615.32" y="543.23" width="2.9" height="2.33" fill="#59a45a"/>
<rect x="621.08" y="537.50" width="2.9" height="6.05" fill="#f08c3a"/>
<rect x="621.08" y="543.50" width="2.9" height="2.05" fill="#59a45a"/>
<rect x="626.84" y="536.40" width="2.9" height="6.12" fill="#e05a63"/>
<rect x="626.84" y="542.47" width="2.9" height="3.08" fill="#4e77ab"/>
<rect x="632.60" y="537.00" width="2.9" height="2.17" fill="#ad7aab"/>
<rect x="632.60" y="539.12" width="2.9" height="4.30" fill="#4e77ab"/>
<rect x="632.60" y="543.38" width="2.9" height="2.17" fill="#59a45a"/>
<rect x="638.36" y="537.80" width="2.9" height="2.62" fill="#ad7aab"/>
<rect x="638.36" y="540.37" width="2.9" height="5.18" fill="#72bfbd"/>
<rect x="644.12" y="537.80" width="2.9" height="2.62" fill="#ad7aab"/>
<rect x="644.12" y="540.37" width="2.9" height="5.18" fill="#f08c3a"/>
<rect x="649.88" y="537.50" width="2.9" height="8.05" fill="#f08c3a"/>
<rect x="655.64" y="537.80" width="2.9" height="7.75" fill="#e05a63"/>
<rect x="661.40" y="537.80" width="2.9" height="5.18" fill="#f08c3a"/>
<rect x="661.40" y="542.93" width="2.9" height="2.62" fill="#72bfbd"/>
<rect x="667.16" y="537.80" width="2.9" height="5.18" fill="#f08c3a"/>
<rect x="667.16" y="542.93" width="2.9" height="2.62" fill="#4e77ab"/>
<rect x="575.00" y="553.90" width="2.9" height="3.02" fill="#e05a63"/>
<rect x="575.00" y="556.88" width="2.9" height="6.00" fill="#ad7aab"/>
<rect x="575.00" y="562.83" width="2.9" height="3.02" fill="#59a45a"/>
<rect x="580.76" y="558.80" width="2.9" height="2.38" fill="#72bfbd"/>
<rect x="580.76" y="561.13" width="2.9" height="2.38" fill="#f08c3a"/>
<rect x="580.76" y="563.47" width="2.9" height="2.38" fill="#4e77ab"/>
<rect x="586.52" y="559.40" width="2.9" height="2.18" fill="#ad7aab"/>
<rect x="586.52" y="561.53" width="2.9" height="4.32" fill="#4e77ab"/>
<rect x="592.28" y="559.70" width="2.9" height="6.15" fill="#eac85b"/>
<rect x="598.04" y="560.70" width="2.9" height="2.60" fill="#ad7aab"/>
<rect x="598.04" y="563.25" width="2.9" height="2.60" fill="#72bfbd"/>
<rect x="603.80" y="558.30" width="2.9" height="2.55" fill="#59a45a"/>
<rect x="603.80" y="560.80" width="2.9" height="2.55" fill="#f08c3a"/>
<rect x="603.80" y="563.30" width="2.9" height="2.55" fill="#e05a63"/>
<rect x="609.56" y="563.00" width="2.9" height="2.85" fill="#f08c3a"/>
<rect x="575.00" y="578.20" width="2.9" height="2.80" fill="#72bfbd"/>
<rect x="575.00" y="580.95" width="2.9" height="2.80" fill="#f08c3a"/>
<rect x="575.00" y="583.70" width="2.9" height="2.80" fill="#72bfbd"/>
<rect x="575.00" y="586.45" width="2.9" height="2.80" fill="#f08c3a"/>
<rect x="580.76" y="574.00" width="2.9" height="3.09" fill="#ad7aab"/>
<rect x="580.76" y="577.04" width="2.9" height="3.09" fill="#eac85b"/>
<rect x="580.76" y="580.08" width="2.9" height="3.09" fill="#4e77ab"/>
<rect x="580.76" y="583.12" width="2.9" height="3.09" fill="#f08c3a"/>
<rect x="580.76" y="586.16" width="2.9" height="3.09" fill="#e05a63"/>
<rect x="586.52" y="581.00" width="2.9" height="2.10" fill="#ad7aab"/>
<rect x="586.52" y="583.05" width="2.9" height="4.15" fill="#f08c3a"/>
<rect x="586.52" y="587.15" width="2.9" height="2.10" fill="#59a45a"/>
<rect x="592.28" y="578.60" width="2.9" height="2.70" fill="#ad7aab"/>
<rect x="592.28" y="581.25" width="2.9" height="2.70" fill="#e05a63"/>
<rect x="592.28" y="583.90" width="2.9" height="2.70" fill="#4e77ab"/>
<rect x="592.28" y="586.55" width="2.9" height="2.70" fill="#59a45a"/>
<rect x="598.04" y="575.10" width="2.9" height="7.10" fill="#f08c3a"/>
<rect x="598.04" y="582.15" width="2.9" height="7.10" fill="#eac85b"/>
<rect x="603.80" y="577.30" width="2.9" height="6.00" fill="#59a45a"/>
<rect x="603.80" y="583.25" width="2.9" height="6.00" fill="#e05a63"/>
<rect x="609.56" y="577.80" width="2.9" height="3.85" fill="#e05a63"/>
<rect x="609.56" y="581.60" width="2.9" height="3.85" fill="#72bfbd"/>
<rect x="609.56" y="585.40" width="2.9" height="3.85" fill="#ad7aab"/>
<rect x="575.00" y="602.50" width="2.9" height="5.38" fill="#e05a63"/>
<rect x="575.00" y="607.83" width="2.9" height="2.72" fill="#4e77ab"/>
<rect x="580.76" y="598.80" width="2.9" height="7.85" fill="#59a45a"/>
<rect x="580.76" y="606.60" width="2.9" height="3.95" fill="#e05a63"/>
<rect x="586.52" y="598.30" width="2.9" height="3.10" fill="#f08c3a"/>
<rect x="586.52" y="601.35" width="2.9" height="9.20" fill="#eac85b"/>
<rect x="592.28" y="601.00" width="2.9" height="4.80" fill="#ad7aab"/>
<rect x="592.28" y="605.75" width="2.9" height="4.80" fill="#59a45a"/>
<rect x="598.04" y="600.10" width="2.9" height="3.52" fill="#e05a63"/>
<rect x="598.04" y="603.57" width="2.9" height="3.52" fill="#72bfbd"/>
<rect x="598.04" y="607.03" width="2.9" height="3.52" fill="#ad7aab"/>
<rect x="603.80" y="596.10" width="2.9" height="2.93" fill="#ad7aab"/>
<rect x="603.80" y="598.98" width="2.9" height="2.93" fill="#4e77ab"/>
<rect x="603.80" y="601.86" width="2.9" height="5.81" fill="#f08c3a"/>
<rect x="603.80" y="607.62" width="2.9" height="2.93" fill="#59a45a"/>
<rect x="609.56" y="602.50" width="2.9" height="2.72" fill="#72bfbd"/>
<rect x="609.56" y="605.17" width="2.9" height="2.72" fill="#f08c3a"/>
<rect x="609.56" y="607.83" width="2.9" height="2.72" fill="#e05a63"/>
<rect x="575.00" y="623.80" width="2.9" height="5.92" fill="#e05a63"/>
<rect x="575.00" y="629.67" width="2.9" height="2.98" fill="#4e77ab"/>
<rect x="580.76" y="621.10" width="2.9" height="2.92" fill="#f08c3a"/>
<rect x="580.76" y="623.98" width="2.9" height="8.68" fill="#e05a63"/>
<rect x="586.52" y="622.90" width="2.9" height="3.28" fill="#f08c3a"/>
<rect x="586.52" y="626.13" width="2.9" height="3.28" fill="#e05a63"/>
<rect x="586.52" y="629.37" width="2.9" height="3.28" fill="#eac85b"/>
<rect x="592.28" y="624.70" width="2.9" height="4.00" fill="#ad7aab"/>
<rect x="592.28" y="628.65" width="2.9" height="4.00" fill="#59a45a"/>
<rect x="598.04" y="621.10" width="2.9" height="2.92" fill="#e05a63"/>
<rect x="598.04" y="623.98" width="2.9" height="2.92" fill="#ad7aab"/>
<rect x="598.04" y="626.85" width="2.9" height="2.92" fill="#4e77ab"/>
<rect x="598.04" y="629.73" width="2.9" height="2.92" fill="#e05a63"/>
<rect x="603.80" y="617.80" width="2.9" height="5.97" fill="#eac85b"/>
<rect x="603.80" y="623.72" width="2.9" height="3.01" fill="#e05a63"/>
<rect x="603.80" y="626.68" width="2.9" height="3.01" fill="#ad7aab"/>
<rect x="603.80" y="629.64" width="2.9" height="3.01" fill="#59a45a"/>
<rect x="609.56" y="622.90" width="2.9" height="3.28" fill="#72bfbd"/>
<rect x="609.56" y="626.13" width="2.9" height="6.52" fill="#f08c3a"/>
<rect x="575.00" y="644.80" width="2.9" height="7.75" fill="#ad7aab"/>
<rect x="580.76" y="646.60" width="2.9" height="5.95" fill="#72bfbd"/>
<rect x="586.52" y="645.70" width="2.9" height="6.85" fill="#e05a63"/>
<rect x="592.28" y="644.80" width="2.9" height="3.90" fill="#e05a63"/>
<rect x="592.28" y="648.65" width="2.9" height="3.90" fill="#4e77ab"/>
<rect x="598.04" y="644.80" width="2.9" height="7.75" fill="#59a45a"/>
<rect x="603.80" y="645.70" width="2.9" height="6.85" fill="#f08c3a"/>
<rect x="609.56" y="642.60" width="2.9" height="3.35" fill="#e05a63"/>
<rect x="609.56" y="645.90" width="2.9" height="6.65" fill="#59a45a"/>
<rect x="615.32" y="644.50" width="2.9" height="8.05" fill="#f08c3a"/>
<rect x="621.08" y="645.70" width="2.9" height="6.85" fill="#4e77ab"/>
<rect x="626.84" y="644.50" width="2.9" height="8.05" fill="#eac85b"/>
<rect x="632.60" y="647.00" width="2.9" height="5.55" fill="#4e77ab"/>
<rect x="638.36" y="645.20" width="2.9" height="7.35" fill="#eac85b"/>
<rect x="644.12" y="643.90" width="2.9" height="8.65" fill="#f08c3a"/>
<rect x="649.88" y="643.00" width="2.9" height="4.80" fill="#ad7aab"/>
<rect x="649.88" y="647.75" width="2.9" height="4.80" fill="#59a45a"/>
<rect x="655.64" y="646.60" width="2.9" height="5.95" fill="#72bfbd"/>
<rect x="661.40" y="644.80" width="2.9" height="7.75" fill="#72bfbd"/>
<rect x="667.16" y="646.60" width="2.9" height="5.95" fill="#ad7aab"/>
<rect x="672.92" y="640.80" width="2.9" height="11.75" fill="#e05a63"/>
<rect x="678.68" y="645.70" width="2.9" height="6.85" fill="#eac85b"/>
<rect x="25.95" y="523.0" width="2.7" height="8.50" fill="#4e77ab"/>
<rect x="31.55" y="518.2" width="2.7" height="13.30" fill="#f08c3a"/>
<rect x="37.15" y="518.2" width="2.7" height="13.30" fill="#e05a63"/>
<rect x="42.75" y="522.1" width="2.7" height="9.40" fill="#72bfbd"/>
<rect x="48.35" y="522.1" width="2.7" height="9.40" fill="#59a45a"/>
<rect x="54.05" y="522.1" width="2.7" height="9.40" fill="#eac85b"/>
<rect x="59.65" y="520.8" width="2.7" height="10.70" fill="#ad7aab"/>
<text x="32.2" y="544.8" font-size="11.3" fill="#1a1a1a">AEK</text>
<rect x="268.50" y="479.00" width="2.8" height="11.39" fill="#ad7aab"/>
<rect x="268.50" y="490.34" width="2.8" height="1.31" fill="#4e77ab"/>
<rect x="274.22" y="480.50" width="2.8" height="10.04" fill="#ad7aab"/>
<rect x="274.22" y="490.49" width="2.8" height="1.16" fill="#4e77ab"/>
<rect x="279.94" y="477.30" width="2.8" height="3.23" fill="#eac85b"/>
<rect x="279.94" y="480.48" width="2.8" height="1.64" fill="#4e77ab"/>
<rect x="279.94" y="482.07" width="2.8" height="9.58" fill="#f08c3a"/>
<rect x="285.66" y="481.00" width="2.8" height="4.29" fill="#4e77ab"/>
<rect x="285.66" y="485.24" width="2.8" height="6.41" fill="#e05a63"/>
<rect x="291.38" y="480.00" width="2.8" height="7.78" fill="#59a45a"/>
<rect x="291.38" y="487.73" width="2.8" height="3.92" fill="#ad7aab"/>
<rect x="297.10" y="477.30" width="2.8" height="14.35" fill="#ad7aab"/>
<rect x="302.82" y="478.00" width="2.8" height="3.94" fill="#72bfbd"/>
<rect x="302.82" y="481.89" width="2.8" height="3.94" fill="#e05a63"/>
<rect x="302.82" y="485.77" width="2.8" height="1.99" fill="#4e77ab"/>
<rect x="302.82" y="487.71" width="2.8" height="3.94" fill="#e05a63"/>
<rect x="308.54" y="480.00" width="2.8" height="7.78" fill="#72bfbd"/>
<rect x="308.54" y="487.73" width="2.8" height="3.92" fill="#f08c3a"/>
<rect x="314.26" y="479.00" width="2.8" height="9.05" fill="#e05a63"/>
<rect x="314.26" y="488.00" width="2.8" height="1.85" fill="#72bfbd"/>
<rect x="314.26" y="489.80" width="2.8" height="1.85" fill="#4e77ab"/>
<rect x="319.98" y="479.50" width="2.8" height="4.08" fill="#72bfbd"/>
<rect x="319.98" y="483.53" width="2.8" height="8.12" fill="#f08c3a"/>
<rect x="325.70" y="477.60" width="2.8" height="14.05" fill="#59a45a"/>
<rect x="331.42" y="479.50" width="2.8" height="12.15" fill="#f08c3a"/>
<text x="303.8" y="505.2" font-size="11.2" text-anchor="middle" fill="#1a1a1a">RAK</text>
<rect x="243.30" y="590.00" width="2.8" height="1.35" fill="#59a45a"/>
<rect x="243.30" y="591.30" width="2.8" height="1.35" fill="#eac85b"/>
<rect x="243.30" y="592.60" width="2.8" height="5.25" fill="#f08c3a"/>
<rect x="249.20" y="590.00" width="2.8" height="2.00" fill="#ad7aab"/>
<rect x="249.20" y="591.95" width="2.8" height="2.00" fill="#4e77ab"/>
<rect x="249.20" y="593.90" width="2.8" height="3.95" fill="#ad7aab"/>
<rect x="255.10" y="591.00" width="2.8" height="1.75" fill="#59a45a"/>
<rect x="255.10" y="592.70" width="2.8" height="5.15" fill="#f08c3a"/>
<rect x="261.00" y="583.50" width="2.8" height="2.91" fill="#72bfbd"/>
<rect x="261.00" y="586.36" width="2.8" height="2.91" fill="#f08c3a"/>
<rect x="261.00" y="589.22" width="2.8" height="4.34" fill="#72bfbd"/>
<rect x="261.00" y="593.51" width="2.8" height="4.34" fill="#f08c3a"/>
<rect x="266.90" y="584.00" width="2.8" height="3.99" fill="#ad7aab"/>
<rect x="266.90" y="587.94" width="2.8" height="9.91" fill="#59a45a"/>
<rect x="272.80" y="583.00" width="2.8" height="6.39" fill="#e05a63"/>
<rect x="272.80" y="589.34" width="2.8" height="4.28" fill="#72bfbd"/>
<rect x="272.80" y="593.57" width="2.8" height="4.28" fill="#ad7aab"/>
<rect x="278.70" y="588.00" width="2.8" height="3.97" fill="#eac85b"/>
<rect x="278.70" y="591.92" width="2.8" height="5.93" fill="#e05a63"/>
<rect x="284.60" y="585.00" width="2.8" height="6.45" fill="#e05a63"/>
<rect x="284.60" y="591.40" width="2.8" height="2.18" fill="#4e77ab"/>
<rect x="284.60" y="593.53" width="2.8" height="4.32" fill="#e05a63"/>
<text x="265.9" y="609.2" font-size="11.2" text-anchor="middle" fill="#1a1a1a">ARK</text>
<line x1="25.5" y1="713.1" x2="25.5" y2="832.4" stroke="#222" stroke-width="1.1"/>
<line x1="25.5" y1="832.4" x2="175.4" y2="832.4" stroke="#222" stroke-width="1.1"/>
<line x1="23.2" y1="827.20" x2="25.5" y2="827.20" stroke="#333" stroke-width="0.9"/>
<text x="22.4" y="830.60" font-size="10.2" text-anchor="end" fill="#333">0</text>
<line x1="23.2" y1="786.10" x2="25.5" y2="786.10" stroke="#333" stroke-width="0.9"/>
<text x="22.4" y="789.50" font-size="10.2" text-anchor="end" fill="#333">1</text>
<line x1="23.2" y1="745.00" x2="25.5" y2="745.00" stroke="#333" stroke-width="0.9"/>
<text x="22.4" y="748.40" font-size="10.2" text-anchor="end" fill="#333">2</text>
<line x1="32.10" y1="832.4" x2="32.10" y2="834.6999999999999" stroke="#333" stroke-width="0.9"/>
<text x="32.50" y="844.00" font-size="10.2" text-anchor="middle" fill="#333">0</text>
<line x1="77.75" y1="832.4" x2="77.75" y2="834.6999999999999" stroke="#333" stroke-width="0.9"/>
<text x="78.15" y="844.00" font-size="10.2" text-anchor="middle" fill="#333">1</text>
<line x1="123.40" y1="832.4" x2="123.40" y2="834.6999999999999" stroke="#333" stroke-width="0.9"/>
<text x="123.80" y="844.00" font-size="10.2" text-anchor="middle" fill="#333">2</text>
<line x1="169.05" y1="832.4" x2="169.05" y2="834.6999999999999" stroke="#333" stroke-width="0.9"/>
<text x="169.45" y="844.00" font-size="10.2" text-anchor="middle" fill="#333">3</text>
<text x="10.2" y="773" font-size="11.4" text-anchor="middle" fill="#1a1a1a" transform="rotate(-90 10.2 773)">Density</text>
<text x="71.0" y="860.4" font-size="11.5" fill="#1a1a1a"><tspan font-style="italic">Ks</tspan><tspan x="91.5">for WGD</tspan></text>
<text x="36.9" y="727.7" font-size="12" font-style="italic" fill="#1a1a1a">ss</text>
<text x="91.5" y="774" font-size="12.5" font-style="italic" fill="#1a1a1a">γ</text>
<path d="M32.10,803.36 L32.96,793.44 L33.82,784.06 L34.68,775.28 L35.55,767.18 L36.41,759.76 L37.27,751.84 L38.13,743.93 L38.99,737.32 L39.85,733.30 L40.71,733.13 L41.57,736.86 L42.44,743.29 L43.30,751.13 L44.16,759.13 L45.02,767.08 L45.88,776.87 L46.74,787.27 L47.60,796.85 L48.47,804.15 L49.33,809.50 L50.19,814.38 L51.05,818.29 L51.91,820.68 L52.77,821.54 L53.63,822.21 L54.49,822.78 L55.36,823.27 L56.22,823.66 L57.08,823.96 L57.94,824.17 L58.80,824.29 L59.66,824.32 L60.52,824.32 L61.38,824.32 L62.25,824.32 L63.11,824.32 L63.97,824.32 L64.83,824.32 L65.69,824.32 L66.55,824.32 L67.41,824.32 L68.28,824.32 L69.14,824.32 L70.00,824.32 L70.86,824.32 L71.72,824.32 L72.58,824.30 L73.44,824.21 L74.30,824.06 L75.17,823.87 L76.03,823.64 L76.89,823.37 L77.75,823.08 L78.61,822.78 L79.47,822.46 L80.33,822.14 L81.20,821.83 L82.06,821.53 L82.92,821.24 L83.78,820.90 L84.64,820.54 L85.50,820.15 L86.36,819.76 L87.22,819.36 L88.09,818.97 L88.95,818.60 L89.81,818.27 L90.67,817.97 L91.53,817.72 L92.39,817.50 L93.25,817.27 L94.12,817.04 L94.98,816.82 L95.84,816.61 L96.70,816.41 L97.56,816.23 L98.42,816.07 L99.28,815.93 L100.14,815.82 L101.01,815.74 L101.87,815.70 L102.73,815.69 L103.59,815.72 L104.45,815.77 L105.31,815.84 L106.17,815.94 L107.03,816.05 L107.90,816.17 L108.76,816.31 L109.62,816.46 L110.48,816.62 L111.34,816.78 L112.20,816.95 L113.06,817.11 L113.93,817.27 L114.79,817.43 L115.65,817.62 L116.51,817.82 L117.37,818.05 L118.23,818.29 L119.09,818.54 L119.95,818.79 L120.82,819.06 L121.68,819.32 L122.54,819.59 L123.40,819.85 L124.26,820.11 L125.12,820.35 L125.98,820.58 L126.85,820.79 L127.71,820.98 L128.57,821.16 L129.43,821.32 L130.29,821.49 L131.15,821.65 L132.01,821.81 L132.87,821.96 L133.74,822.12 L134.60,822.26 L135.46,822.41 L136.32,822.55 L137.18,822.68 L138.04,822.82 L138.90,822.95 L139.77,823.07 L140.63,823.19 L141.49,823.31 L142.35,823.43 L143.21,823.54 L144.07,823.65 L144.93,823.76 L145.79,823.86 L146.66,823.96 L147.52,824.06 L148.38,824.16 L149.24,824.25 L150.10,824.35 L150.96,824.44 L151.82,824.54 L152.68,824.63 L153.55,824.72 L154.41,824.81 L155.27,824.89 L156.13,824.98 L156.99,825.06 L157.85,825.14 L158.71,825.22 L159.58,825.29 L160.44,825.37 L161.30,825.44 L162.16,825.51 L163.02,825.58 L163.88,825.64 L164.74,825.70 L165.60,825.76 L166.47,825.82 L167.33,825.87 L168.19,825.92 L169.05,825.97" fill="none" stroke="#c69132" stroke-width="1.1" stroke-linejoin="round"/>
<path d="M32.10,811.58 L32.96,810.72 L33.82,809.95 L34.68,809.31 L35.55,808.81 L36.41,808.47 L37.27,808.31 L38.13,808.33 L38.99,808.53 L39.85,808.88 L40.71,809.35 L41.57,809.90 L42.44,810.50 L43.30,811.13 L44.16,811.75 L45.02,812.34 L45.88,812.86 L46.74,813.38 L47.60,813.93 L48.47,814.51 L49.33,815.09 L50.19,815.67 L51.05,816.23 L51.91,816.76 L52.77,817.24 L53.63,817.66 L54.49,818.01 L55.36,818.29 L56.22,818.55 L57.08,818.81 L57.94,819.06 L58.80,819.31 L59.66,819.54 L60.52,819.77 L61.38,819.99 L62.25,820.20 L63.11,820.39 L63.97,820.58 L64.83,820.74 L65.69,820.90 L66.55,821.03 L67.41,821.15 L68.28,821.25 L69.14,821.33 L70.00,821.39 L70.86,821.43 L71.72,821.45 L72.58,821.38 L73.44,821.18 L74.30,820.86 L75.17,820.46 L76.03,819.99 L76.89,819.49 L77.75,818.98 L78.61,818.36 L79.47,817.55 L80.33,816.58 L81.20,815.51 L82.06,814.36 L82.92,813.19 L83.78,812.04 L84.64,810.95 L85.50,809.96 L86.36,809.12 L87.22,808.45 L88.09,807.81 L88.95,807.16 L89.81,806.51 L90.67,805.88 L91.53,805.27 L92.39,804.69 L93.25,804.15 L94.12,803.66 L94.98,803.22 L95.84,802.84 L96.70,802.53 L97.56,802.31 L98.42,802.17 L99.28,802.13 L100.14,802.18 L101.01,802.31 L101.87,802.50 L102.73,802.76 L103.59,803.07 L104.45,803.41 L105.31,803.79 L106.17,804.18 L107.03,804.59 L107.90,805.00 L108.76,805.41 L109.62,805.79 L110.48,806.18 L111.34,806.60 L112.20,807.06 L113.06,807.54 L113.93,808.05 L114.79,808.57 L115.65,809.11 L116.51,809.65 L117.37,810.19 L118.23,810.74 L119.09,811.27 L119.95,811.79 L120.82,812.29 L121.68,812.77 L122.54,813.22 L123.40,813.64 L124.26,814.03 L125.12,814.42 L125.98,814.81 L126.85,815.18 L127.71,815.55 L128.57,815.91 L129.43,816.27 L130.29,816.61 L131.15,816.95 L132.01,817.27 L132.87,817.59 L133.74,817.89 L134.60,818.19 L135.46,818.47 L136.32,818.74 L137.18,819.01 L138.04,819.26 L138.90,819.50 L139.77,819.74 L140.63,819.97 L141.49,820.20 L142.35,820.42 L143.21,820.63 L144.07,820.83 L144.93,821.04 L145.79,821.23 L146.66,821.42 L147.52,821.61 L148.38,821.79 L149.24,821.96 L150.10,822.13 L150.96,822.30 L151.82,822.47 L152.68,822.63 L153.55,822.79 L154.41,822.95 L155.27,823.10 L156.13,823.25 L156.99,823.40 L157.85,823.55 L158.71,823.70 L159.58,823.84 L160.44,823.98 L161.30,824.11 L162.16,824.24 L163.02,824.37 L163.88,824.49 L164.74,824.61 L165.60,824.73 L166.47,824.84 L167.33,824.95 L168.19,825.05 L169.05,825.15" fill="none" stroke="#d676be" stroke-width="1.1" stroke-linejoin="round"/>
<path d="M32.10,803.36 L32.96,801.77 L33.82,800.45 L34.68,799.44 L35.55,798.76 L36.41,798.45 L37.27,798.54 L38.13,799.05 L38.99,799.90 L39.85,801.00 L40.71,802.28 L41.57,803.65 L42.44,805.03 L43.30,806.34 L44.16,807.63 L45.02,809.14 L45.88,810.79 L46.74,812.50 L47.60,814.16 L48.47,815.69 L49.33,817.00 L50.19,818.00 L51.05,818.74 L51.91,819.45 L52.77,820.12 L53.63,820.74 L54.49,821.28 L55.36,821.72 L56.22,822.04 L57.08,822.23 L57.94,822.27 L58.80,822.27 L59.66,822.27 L60.52,822.27 L61.38,822.27 L62.25,822.27 L63.11,822.27 L63.97,822.27 L64.83,822.27 L65.69,822.27 L66.55,822.27 L67.41,822.27 L68.28,822.27 L69.14,822.27 L70.00,822.27 L70.86,822.27 L71.72,822.27 L72.58,822.27 L73.44,822.26 L74.30,822.09 L75.17,821.74 L76.03,821.25 L76.89,820.65 L77.75,819.98 L78.61,819.29 L79.47,818.59 L80.33,817.92 L81.20,817.16 L82.06,816.29 L82.92,815.34 L83.78,814.34 L84.64,813.31 L85.50,812.29 L86.36,811.31 L87.22,810.39 L88.09,809.56 L88.95,808.86 L89.81,808.25 L90.67,807.64 L91.53,807.02 L92.39,806.42 L93.25,805.85 L94.12,805.32 L94.98,804.84 L95.84,804.44 L96.70,804.12 L97.56,803.89 L98.42,803.78 L99.28,803.79 L100.14,803.87 L101.01,804.03 L101.87,804.24 L102.73,804.50 L103.59,804.81 L104.45,805.15 L105.31,805.52 L106.17,805.90 L107.03,806.29 L107.90,806.68 L108.76,807.07 L109.62,807.44 L110.48,807.81 L111.34,808.21 L112.20,808.65 L113.06,809.12 L113.93,809.60 L114.79,810.10 L115.65,810.61 L116.51,811.13 L117.37,811.65 L118.23,812.16 L119.09,812.67 L119.95,813.16 L120.82,813.63 L121.68,814.07 L122.54,814.49 L123.40,814.87 L124.26,815.23 L125.12,815.58 L125.98,815.93 L126.85,816.28 L127.71,816.62 L128.57,816.95 L129.43,817.28 L130.29,817.60 L131.15,817.91 L132.01,818.21 L132.87,818.51 L133.74,818.80 L134.60,819.08 L135.46,819.36 L136.32,819.62 L137.18,819.87 L138.04,820.12 L138.90,820.35 L139.77,820.58 L140.63,820.79 L141.49,821.00 L142.35,821.19 L143.21,821.38 L144.07,821.58 L144.93,821.77 L145.79,821.96 L146.66,822.14 L147.52,822.33 L148.38,822.51 L149.24,822.69 L150.10,822.86 L150.96,823.04 L151.82,823.21 L152.68,823.37 L153.55,823.53 L154.41,823.69 L155.27,823.85 L156.13,824.00 L156.99,824.14 L157.85,824.28 L158.71,824.42 L159.58,824.54 L160.44,824.67 L161.30,824.79 L162.16,824.90 L163.02,825.00 L163.88,825.10 L164.74,825.20 L165.60,825.28 L166.47,825.36 L167.33,825.43 L168.19,825.50 L169.05,825.56" fill="none" stroke="#2fb56f" stroke-width="1.1" stroke-linejoin="round"/>
<path d="M32.10,825.15 L32.96,825.12 L33.82,825.05 L34.68,824.93 L35.55,824.78 L36.41,824.59 L37.27,824.38 L38.13,824.15 L38.99,823.90 L39.85,823.43 L40.71,822.67 L41.57,821.77 L42.44,820.90 L43.30,820.20 L44.16,819.83 L45.02,819.90 L45.88,820.35 L46.74,821.04 L47.60,821.86 L48.47,822.69 L49.33,823.39 L50.19,823.86 L51.05,824.09 L51.91,824.31 L52.77,824.52 L53.63,824.72 L54.49,824.90 L55.36,825.08 L56.22,825.24 L57.08,825.38 L57.94,825.51 L58.80,825.63 L59.66,825.73 L60.52,825.81 L61.38,825.88 L62.25,825.92 L63.11,825.96 L63.97,825.97 L64.83,825.91 L65.69,825.74 L66.55,825.46 L67.41,825.08 L68.28,824.62 L69.14,824.09 L70.00,823.50 L70.86,822.87 L71.72,822.21 L72.58,821.52 L73.44,820.82 L74.30,819.95 L75.17,818.89 L76.03,817.66 L76.89,816.31 L77.75,814.85 L78.61,813.32 L79.47,811.75 L80.33,810.16 L81.20,808.60 L82.06,807.09 L82.92,805.58 L83.78,803.90 L84.64,802.11 L85.50,800.30 L86.36,798.56 L87.22,796.96 L88.09,795.59 L88.95,794.53 L89.81,793.74 L90.67,792.98 L91.53,792.27 L92.39,791.63 L93.25,791.07 L94.12,790.64 L94.98,790.34 L95.84,790.21 L96.70,790.25 L97.56,790.39 L98.42,790.63 L99.28,790.95 L100.14,791.35 L101.01,791.80 L101.87,792.29 L102.73,792.81 L103.59,793.35 L104.45,793.89 L105.31,794.43 L106.17,795.04 L107.03,795.77 L107.90,796.58 L108.76,797.47 L109.62,798.41 L110.48,799.39 L111.34,800.39 L112.20,801.39 L113.06,802.38 L113.93,803.33 L114.79,804.23 L115.65,805.05 L116.51,805.79 L117.37,806.47 L118.23,807.14 L119.09,807.80 L119.95,808.45 L120.82,809.08 L121.68,809.70 L122.54,810.31 L123.40,810.90 L124.26,811.48 L125.12,812.04 L125.98,812.58 L126.85,813.11 L127.71,813.62 L128.57,814.11 L129.43,814.58 L130.29,815.03 L131.15,815.46 L132.01,815.87 L132.87,816.26 L133.74,816.63 L134.60,817.00 L135.46,817.36 L136.32,817.72 L137.18,818.06 L138.04,818.40 L138.90,818.73 L139.77,819.04 L140.63,819.35 L141.49,819.65 L142.35,819.94 L143.21,820.23 L144.07,820.50 L144.93,820.76 L145.79,821.01 L146.66,821.25 L147.52,821.49 L148.38,821.71 L149.24,821.92 L150.10,822.12 L150.96,822.30 L151.82,822.49 L152.68,822.67 L153.55,822.85 L154.41,823.02 L155.27,823.19 L156.13,823.36 L156.99,823.53 L157.85,823.68 L158.71,823.84 L159.58,823.99 L160.44,824.13 L161.30,824.26 L162.16,824.39 L163.02,824.51 L163.88,824.63 L164.74,824.74 L165.60,824.84 L166.47,824.93 L167.33,825.01 L168.19,825.08 L169.05,825.15" fill="none" stroke="#17b6b6" stroke-width="1.1" stroke-linejoin="round"/>
<path d="M32.10,823.91 L32.96,823.74 L33.82,823.56 L34.68,823.39 L35.55,823.25 L36.41,823.15 L37.27,823.09 L38.13,823.09 L38.99,823.11 L39.85,823.15 L40.71,823.20 L41.57,823.27 L42.44,823.35 L43.30,823.44 L44.16,823.53 L45.02,823.64 L45.88,823.75 L46.74,823.87 L47.60,823.99 L48.47,824.11 L49.33,824.23 L50.19,824.35 L51.05,824.47 L51.91,824.58 L52.77,824.68 L53.63,824.78 L54.49,824.87 L55.36,824.95 L56.22,825.02 L57.08,825.08 L57.94,825.12 L58.80,825.14 L59.66,825.14 L60.52,825.12 L61.38,825.05 L62.25,824.95 L63.11,824.81 L63.97,824.63 L64.83,824.43 L65.69,824.19 L66.55,823.92 L67.41,823.63 L68.28,823.31 L69.14,822.96 L70.00,822.59 L70.86,822.20 L71.72,821.78 L72.58,821.35 L73.44,820.88 L74.30,820.18 L75.17,819.20 L76.03,818.00 L76.89,816.62 L77.75,815.10 L78.61,813.49 L79.47,811.84 L80.33,810.19 L81.20,808.59 L82.06,807.08 L82.92,805.62 L83.78,804.04 L84.64,802.39 L85.50,800.72 L86.36,799.12 L87.22,797.64 L88.09,796.36 L88.95,795.35 L89.81,794.56 L90.67,793.80 L91.53,793.07 L92.39,792.39 L93.25,791.77 L94.12,791.23 L94.98,790.78 L95.84,790.45 L96.70,790.26 L97.56,790.21 L98.42,790.28 L99.28,790.42 L100.14,790.65 L101.01,790.95 L101.87,791.30 L102.73,791.72 L103.59,792.18 L104.45,792.69 L105.31,793.23 L106.17,793.80 L107.03,794.38 L107.90,794.98 L108.76,795.59 L109.62,796.20 L110.48,796.79 L111.34,797.38 L112.20,798.05 L113.06,798.81 L113.93,799.64 L114.79,800.52 L115.65,801.43 L116.51,802.36 L117.37,803.27 L118.23,804.16 L119.09,804.99 L119.95,805.76 L120.82,806.44 L121.68,807.03 L122.54,807.59 L123.40,808.13 L124.26,808.66 L125.12,809.16 L125.98,809.65 L126.85,810.13 L127.71,810.59 L128.57,811.03 L129.43,811.46 L130.29,811.88 L131.15,812.29 L132.01,812.69 L132.87,813.07 L133.74,813.45 L134.60,813.83 L135.46,814.19 L136.32,814.55 L137.18,814.91 L138.04,815.25 L138.90,815.60 L139.77,815.94 L140.63,816.27 L141.49,816.60 L142.35,816.92 L143.21,817.24 L144.07,817.55 L144.93,817.86 L145.79,818.16 L146.66,818.45 L147.52,818.73 L148.38,819.02 L149.24,819.29 L150.10,819.56 L150.96,819.82 L151.82,820.07 L152.68,820.32 L153.55,820.56 L154.41,820.79 L155.27,821.01 L156.13,821.23 L156.99,821.45 L157.85,821.66 L158.71,821.86 L159.58,822.06 L160.44,822.26 L161.30,822.45 L162.16,822.64 L163.02,822.82 L163.88,822.99 L164.74,823.16 L165.60,823.32 L166.47,823.48 L167.33,823.63 L168.19,823.77 L169.05,823.91" fill="none" stroke="#e8262e" stroke-width="1.1" stroke-linejoin="round"/>
<path d="M32.10,825.56 L32.96,825.60 L33.82,825.64 L34.68,825.68 L35.55,825.72 L36.41,825.75 L37.27,825.78 L38.13,825.80 L38.99,825.83 L39.85,825.85 L40.71,825.87 L41.57,825.88 L42.44,825.90 L43.30,825.91 L44.16,825.92 L45.02,825.93 L45.88,825.94 L46.74,825.95 L47.60,825.95 L48.47,825.96 L49.33,825.96 L50.19,825.96 L51.05,825.96 L51.91,825.97 L52.77,825.97 L53.63,825.97 L54.49,825.97 L55.36,825.96 L56.22,825.94 L57.08,825.89 L57.94,825.82 L58.80,825.73 L59.66,825.61 L60.52,825.47 L61.38,825.31 L62.25,825.13 L63.11,824.93 L63.97,824.71 L64.83,824.47 L65.69,824.21 L66.55,823.93 L67.41,823.63 L68.28,823.32 L69.14,822.99 L70.00,822.65 L70.86,822.29 L71.72,821.79 L72.58,821.03 L73.44,820.05 L74.30,818.87 L75.17,817.54 L76.03,816.08 L76.89,814.54 L77.75,812.94 L78.61,811.32 L79.47,809.72 L80.33,808.14 L81.20,806.33 L82.06,804.28 L82.92,802.05 L83.78,799.74 L84.64,797.41 L85.50,795.16 L86.36,793.05 L87.22,791.16 L88.09,789.58 L88.95,788.39 L89.81,787.51 L90.67,786.68 L91.53,785.88 L92.39,785.14 L93.25,784.47 L94.12,783.89 L94.98,783.42 L95.84,783.07 L96.70,782.86 L97.56,782.81 L98.42,782.90 L99.28,783.10 L100.14,783.40 L101.01,783.79 L101.87,784.26 L102.73,784.80 L103.59,785.41 L104.45,786.07 L105.31,786.77 L106.17,787.50 L107.03,788.25 L107.90,789.01 L108.76,789.77 L109.62,790.66 L110.48,791.79 L111.34,793.10 L112.20,794.53 L113.06,796.01 L113.93,797.48 L114.79,798.88 L115.65,800.15 L116.51,801.21 L117.37,802.04 L118.23,802.75 L119.09,803.39 L119.95,803.97 L120.82,804.50 L121.68,805.02 L122.54,805.52 L123.40,806.02 L124.26,806.54 L125.12,807.09 L125.98,807.69 L126.85,808.33 L127.71,809.02 L128.57,809.73 L129.43,810.46 L130.29,811.20 L131.15,811.94 L132.01,812.66 L132.87,813.36 L133.74,814.02 L134.60,814.64 L135.46,815.21 L136.32,815.71 L137.18,816.14 L138.04,816.53 L138.90,816.90 L139.77,817.25 L140.63,817.60 L141.49,817.92 L142.35,818.24 L143.21,818.54 L144.07,818.83 L144.93,819.11 L145.79,819.38 L146.66,819.64 L147.52,819.89 L148.38,820.13 L149.24,820.37 L150.10,820.59 L150.96,820.81 L151.82,821.03 L152.68,821.24 L153.55,821.44 L154.41,821.64 L155.27,821.84 L156.13,822.03 L156.99,822.22 L157.85,822.41 L158.71,822.59 L159.58,822.76 L160.44,822.93 L161.30,823.10 L162.16,823.26 L163.02,823.42 L163.88,823.56 L164.74,823.71 L165.60,823.84 L166.47,823.97 L167.33,824.10 L168.19,824.21 L169.05,824.32" fill="none" stroke="#2d4fa6" stroke-width="1.1" stroke-linejoin="round"/>
<path d="M32.10,826.79 L32.96,826.79 L33.82,826.79 L34.68,826.78 L35.55,826.78 L36.41,826.77 L37.27,826.77 L38.13,826.76 L38.99,826.75 L39.85,826.74 L40.71,826.73 L41.57,826.72 L42.44,826.70 L43.30,826.69 L44.16,826.67 L45.02,826.66 L45.88,826.64 L46.74,826.62 L47.60,826.60 L48.47,826.58 L49.33,826.56 L50.19,826.53 L51.05,826.51 L51.91,826.48 L52.77,826.45 L53.63,826.42 L54.49,826.39 L55.36,826.36 L56.22,826.31 L57.08,826.23 L57.94,826.13 L58.80,826.00 L59.66,825.86 L60.52,825.69 L61.38,825.50 L62.25,825.29 L63.11,825.06 L63.97,824.81 L64.83,824.54 L65.69,824.24 L66.55,823.93 L67.41,823.59 L68.28,823.24 L69.14,822.82 L70.00,822.18 L70.86,821.33 L71.72,820.31 L72.58,819.17 L73.44,817.93 L74.30,816.63 L75.17,815.32 L76.03,813.98 L76.89,812.47 L77.75,810.80 L78.61,809.03 L79.47,807.20 L80.33,805.34 L81.20,803.50 L82.06,801.72 L82.92,799.86 L83.78,797.89 L84.64,795.88 L85.50,793.88 L86.36,791.95 L87.22,790.16 L88.09,788.56 L88.95,787.21 L89.81,786.06 L90.67,784.90 L91.53,783.79 L92.39,782.83 L93.25,782.09 L94.12,781.66 L94.98,781.60 L95.84,781.85 L96.70,782.34 L97.56,783.02 L98.42,783.82 L99.28,784.72 L100.14,785.64 L101.01,786.60 L101.87,787.85 L102.73,789.36 L103.59,791.02 L104.45,792.74 L105.31,794.43 L106.17,795.97 L107.03,797.29 L107.90,798.47 L108.76,799.63 L109.62,800.75 L110.48,801.84 L111.34,802.90 L112.20,803.92 L113.06,804.90 L113.93,805.84 L114.79,806.73 L115.65,807.58 L116.51,808.38 L117.37,809.13 L118.23,809.83 L119.09,810.48 L119.95,811.12 L120.82,811.73 L121.68,812.34 L122.54,812.92 L123.40,813.49 L124.26,814.03 L125.12,814.56 L125.98,815.07 L126.85,815.56 L127.71,816.03 L128.57,816.48 L129.43,816.92 L130.29,817.33 L131.15,817.72 L132.01,818.09 L132.87,818.43 L133.74,818.76 L134.60,819.06 L135.46,819.36 L136.32,819.64 L137.18,819.91 L138.04,820.18 L138.90,820.43 L139.77,820.68 L140.63,820.92 L141.49,821.15 L142.35,821.37 L143.21,821.58 L144.07,821.79 L144.93,821.98 L145.79,822.17 L146.66,822.35 L147.52,822.52 L148.38,822.68 L149.24,822.83 L150.10,822.98 L150.96,823.12 L151.82,823.25 L152.68,823.38 L153.55,823.51 L154.41,823.64 L155.27,823.77 L156.13,823.89 L156.99,824.01 L157.85,824.12 L158.71,824.23 L159.58,824.34 L160.44,824.44 L161.30,824.54 L162.16,824.63 L163.02,824.72 L163.88,824.80 L164.74,824.88 L165.60,824.94 L166.47,825.01 L167.33,825.06 L168.19,825.11 L169.05,825.15" fill="none" stroke="#111111" stroke-width="1.1" stroke-linejoin="round"/>
<line x1="188.5" y1="716.6" x2="188.5" y2="833.2" stroke="#222" stroke-width="1.1"/>
<line x1="188.5" y1="833.2" x2="335.6" y2="833.2" stroke="#222" stroke-width="1.1"/>
<line x1="186.2" y1="827.70" x2="188.5" y2="827.70" stroke="#333" stroke-width="0.9"/>
<text x="185.4" y="831.10" font-size="10.2" text-anchor="end" fill="#333">0</text>
<line x1="186.2" y1="788.70" x2="188.5" y2="788.70" stroke="#333" stroke-width="0.9"/>
<text x="185.4" y="792.10" font-size="10.2" text-anchor="end" fill="#333">2</text>
<line x1="186.2" y1="749.70" x2="188.5" y2="749.70" stroke="#333" stroke-width="0.9"/>
<text x="185.4" y="753.10" font-size="10.2" text-anchor="end" fill="#333">4</text>
<line x1="194.70" y1="833.2" x2="194.70" y2="835.5" stroke="#333" stroke-width="0.9"/>
<text x="196.70" y="844.80" font-size="10.2" text-anchor="middle" fill="#333">0.0</text>
<line x1="228.35" y1="833.2" x2="228.35" y2="835.5" stroke="#333" stroke-width="0.9"/>
<text x="230.35" y="844.80" font-size="10.2" text-anchor="middle" fill="#333">0.5</text>
<line x1="262.00" y1="833.2" x2="262.00" y2="835.5" stroke="#333" stroke-width="0.9"/>
<text x="264.00" y="844.80" font-size="10.2" text-anchor="middle" fill="#333">1.0</text>
<line x1="295.65" y1="833.2" x2="295.65" y2="835.5" stroke="#333" stroke-width="0.9"/>
<text x="297.65" y="844.80" font-size="10.2" text-anchor="middle" fill="#333">1.5</text>
<line x1="329.30" y1="833.2" x2="329.30" y2="835.5" stroke="#333" stroke-width="0.9"/>
<text x="331.30" y="844.80" font-size="10.2" text-anchor="middle" fill="#333">2.0</text>
<text x="230.6" y="860.2" font-size="11.6" fill="#1a1a1a"><tspan font-style="italic">4Dtv</tspan> for WGD</text>
<text x="196.6" y="721.0" font-size="12" font-style="italic" fill="#1a1a1a">ss</text>
<text x="225.5" y="773" font-size="12.5" font-style="italic" fill="#1a1a1a">γ</text>
<path d="M194.70,791.43 L195.57,773.95 L196.44,756.72 L197.30,741.89 L198.17,731.27 L199.04,725.19 L199.91,725.83 L200.77,732.28 L201.64,742.06 L202.51,754.85 L203.38,770.55 L204.24,786.75 L205.11,803.40 L205.98,813.14 L206.85,817.71 L207.72,820.88 L208.58,822.25 L209.45,822.60 L210.32,822.88 L211.19,823.07 L212.05,823.18 L212.92,823.21 L213.79,823.06 L214.66,822.67 L215.52,822.10 L216.39,821.43 L217.26,820.70 L218.13,820.00 L219.00,819.26 L219.86,818.37 L220.73,817.40 L221.60,816.41 L222.47,815.48 L223.33,814.68 L224.20,814.01 L225.07,813.33 L225.94,812.66 L226.81,812.05 L227.67,811.56 L228.54,811.24 L229.41,811.13 L230.28,811.22 L231.14,811.48 L232.01,811.84 L232.88,812.28 L233.75,812.75 L234.61,813.23 L235.48,813.67 L236.35,814.17 L237.22,814.72 L238.09,815.31 L238.95,815.92 L239.82,816.54 L240.69,817.15 L241.56,817.75 L242.42,818.30 L243.29,818.81 L244.16,819.29 L245.03,819.76 L245.89,820.23 L246.76,820.70 L247.63,821.15 L248.50,821.59 L249.37,822.02 L250.23,822.43 L251.10,822.82 L251.97,823.20 L252.84,823.55 L253.70,823.88 L254.57,824.18 L255.44,824.47 L256.31,824.76 L257.17,825.05 L258.04,825.31 L258.91,825.56 L259.78,825.77 L260.65,825.95 L261.51,826.09 L262.38,826.17 L263.25,826.25 L264.12,826.32 L264.98,826.39 L265.85,826.45 L266.72,826.51 L267.59,826.57 L268.45,826.62 L269.32,826.67 L270.19,826.72 L271.06,826.76 L271.93,826.80 L272.79,826.84 L273.66,826.87 L274.53,826.90 L275.40,826.94 L276.26,826.96 L277.13,826.99 L278.00,827.02 L278.87,827.04 L279.74,827.06 L280.60,827.08 L281.47,827.10 L282.34,827.12 L283.21,827.14 L284.07,827.15 L284.94,827.17 L285.81,827.19 L286.68,827.20 L287.54,827.22 L288.41,827.24 L289.28,827.25 L290.15,827.27 L291.02,827.29 L291.88,827.30 L292.75,827.32 L293.62,827.33 L294.49,827.35 L295.35,827.36 L296.22,827.38 L297.09,827.39 L297.96,827.40 L298.82,827.42 L299.69,827.43 L300.56,827.44 L301.43,827.46 L302.30,827.47 L303.16,827.48 L304.03,827.49 L304.90,827.50 L305.77,827.52 L306.63,827.53 L307.50,827.54 L308.37,827.55 L309.24,827.56 L310.10,827.57 L310.97,827.58 L311.84,827.59 L312.71,827.60 L313.58,827.60 L314.44,827.61 L315.31,827.62 L316.18,827.63 L317.05,827.64 L317.91,827.64 L318.78,827.65 L319.65,827.65 L320.52,827.66 L321.38,827.67 L322.25,827.67 L323.12,827.68 L323.99,827.68 L324.86,827.68 L325.72,827.69 L326.59,827.69 L327.46,827.69 L328.33,827.69 L329.19,827.70 L330.06,827.70 L330.93,827.70 L331.80,827.70 L332.66,827.70" fill="none" stroke="#c69132" stroke-width="1.1" stroke-linejoin="round"/>
<path d="M194.70,808.98 L195.57,806.78 L196.44,805.24 L197.30,804.35 L198.17,804.11 L199.04,804.79 L199.91,806.21 L200.77,807.94 L201.64,809.56 L202.51,811.47 L203.38,813.66 L204.24,815.82 L205.11,817.64 L205.98,818.81 L206.85,819.35 L207.72,819.82 L208.58,820.22 L209.45,820.54 L210.32,820.76 L211.19,820.87 L212.05,820.80 L212.92,820.39 L213.79,819.69 L214.66,818.78 L215.52,817.74 L216.39,816.64 L217.26,815.54 L218.13,814.13 L219.00,812.46 L219.86,810.61 L220.73,808.71 L221.60,806.86 L222.47,805.16 L223.33,803.69 L224.20,802.13 L225.07,800.52 L225.94,798.93 L226.81,797.49 L227.67,796.28 L228.54,795.41 L229.41,794.97 L230.28,795.01 L231.14,795.34 L232.01,795.91 L232.88,796.66 L233.75,797.52 L234.61,798.46 L235.48,799.41 L236.35,800.32 L237.22,801.26 L238.09,802.32 L238.95,803.49 L239.82,804.73 L240.69,806.02 L241.56,807.31 L242.42,808.58 L243.29,809.80 L244.16,810.93 L245.03,811.94 L245.89,812.86 L246.76,813.77 L247.63,814.67 L248.50,815.55 L249.37,816.40 L250.23,817.21 L251.10,817.98 L251.97,818.71 L252.84,819.37 L253.70,819.97 L254.57,820.50 L255.44,820.96 L256.31,821.38 L257.17,821.78 L258.04,822.17 L258.91,822.55 L259.78,822.91 L260.65,823.25 L261.51,823.58 L262.38,823.88 L263.25,824.16 L264.12,824.42 L264.98,824.65 L265.85,824.86 L266.72,825.04 L267.59,825.20 L268.45,825.33 L269.32,825.43 L270.19,825.53 L271.06,825.62 L271.93,825.71 L272.79,825.80 L273.66,825.88 L274.53,825.96 L275.40,826.04 L276.26,826.12 L277.13,826.19 L278.00,826.26 L278.87,826.32 L279.74,826.38 L280.60,826.44 L281.47,826.50 L282.34,826.55 L283.21,826.61 L284.07,826.66 L284.94,826.70 L285.81,826.75 L286.68,826.79 L287.54,826.83 L288.41,826.87 L289.28,826.90 L290.15,826.94 L291.02,826.97 L291.88,827.00 L292.75,827.03 L293.62,827.06 L294.49,827.08 L295.35,827.11 L296.22,827.13 L297.09,827.15 L297.96,827.17 L298.82,827.20 L299.69,827.22 L300.56,827.24 L301.43,827.26 L302.30,827.28 L303.16,827.30 L304.03,827.32 L304.90,827.34 L305.77,827.36 L306.63,827.38 L307.50,827.40 L308.37,827.42 L309.24,827.44 L310.10,827.45 L310.97,827.47 L311.84,827.49 L312.71,827.50 L313.58,827.52 L314.44,827.53 L315.31,827.55 L316.18,827.56 L317.05,827.58 L317.91,827.59 L318.78,827.60 L319.65,827.61 L320.52,827.62 L321.38,827.63 L322.25,827.64 L323.12,827.65 L323.99,827.66 L324.86,827.67 L325.72,827.67 L326.59,827.68 L327.46,827.69 L328.33,827.69 L329.19,827.69 L330.06,827.70 L330.93,827.70 L331.80,827.70 L332.66,827.70" fill="none" stroke="#d676be" stroke-width="1.1" stroke-linejoin="round"/>
<path d="M194.70,800.21 L195.57,798.46 L196.44,797.56 L197.30,797.28 L198.17,797.92 L199.04,799.71 L199.91,801.91 L200.77,804.40 L201.64,807.64 L202.51,810.80 L203.38,813.08 L204.24,814.94 L205.11,816.64 L205.98,818.13 L206.85,819.38 L207.72,820.32 L208.58,820.97 L209.45,821.53 L210.32,821.98 L211.19,822.22 L212.05,822.16 L212.92,821.71 L213.79,820.94 L214.66,819.95 L215.52,818.83 L216.39,817.66 L217.26,816.49 L218.13,815.07 L219.00,813.39 L219.86,811.57 L220.73,809.69 L221.60,807.85 L222.47,806.15 L223.33,804.64 L224.20,803.02 L225.07,801.32 L225.94,799.67 L226.81,798.18 L227.67,796.98 L228.54,796.18 L229.41,795.92 L230.28,796.10 L231.14,796.58 L232.01,797.29 L232.88,798.17 L233.75,799.17 L234.61,800.22 L235.48,801.28 L236.35,802.27 L237.22,803.26 L238.09,804.38 L238.95,805.57 L239.82,806.81 L240.69,808.04 L241.56,809.22 L242.42,810.31 L243.29,811.27 L244.16,812.17 L245.03,813.06 L245.89,813.94 L246.76,814.80 L247.63,815.64 L248.50,816.45 L249.37,817.22 L250.23,817.96 L251.10,818.66 L251.97,819.31 L252.84,819.91 L253.70,820.45 L254.57,820.93 L255.44,821.34 L256.31,821.72 L257.17,822.09 L258.04,822.45 L258.91,822.79 L259.78,823.12 L260.65,823.43 L261.51,823.72 L262.38,823.99 L263.25,824.25 L264.12,824.48 L264.98,824.70 L265.85,824.89 L266.72,825.06 L267.59,825.21 L268.45,825.33 L269.32,825.43 L270.19,825.52 L271.06,825.62 L271.93,825.71 L272.79,825.79 L273.66,825.88 L274.53,825.96 L275.40,826.03 L276.26,826.11 L277.13,826.18 L278.00,826.25 L278.87,826.31 L279.74,826.38 L280.60,826.44 L281.47,826.49 L282.34,826.55 L283.21,826.60 L284.07,826.65 L284.94,826.70 L285.81,826.74 L286.68,826.79 L287.54,826.83 L288.41,826.87 L289.28,826.90 L290.15,826.94 L291.02,826.97 L291.88,827.00 L292.75,827.03 L293.62,827.06 L294.49,827.08 L295.35,827.11 L296.22,827.13 L297.09,827.15 L297.96,827.17 L298.82,827.20 L299.69,827.22 L300.56,827.24 L301.43,827.26 L302.30,827.28 L303.16,827.30 L304.03,827.32 L304.90,827.34 L305.77,827.36 L306.63,827.38 L307.50,827.40 L308.37,827.42 L309.24,827.44 L310.10,827.45 L310.97,827.47 L311.84,827.49 L312.71,827.50 L313.58,827.52 L314.44,827.53 L315.31,827.55 L316.18,827.56 L317.05,827.58 L317.91,827.59 L318.78,827.60 L319.65,827.61 L320.52,827.62 L321.38,827.63 L322.25,827.64 L323.12,827.65 L323.99,827.66 L324.86,827.67 L325.72,827.67 L326.59,827.68 L327.46,827.69 L328.33,827.69 L329.19,827.69 L330.06,827.70 L330.93,827.70 L331.80,827.70 L332.66,827.70" fill="none" stroke="#2fb56f" stroke-width="1.1" stroke-linejoin="round"/>
<path d="M194.70,823.80 L195.57,823.28 L196.44,822.82 L197.30,822.41 L198.17,822.07 L199.04,821.80 L199.91,821.60 L200.77,821.49 L201.64,821.46 L202.51,821.55 L203.38,821.74 L204.24,821.98 L205.11,822.24 L205.98,822.49 L206.85,822.69 L207.72,822.81 L208.58,822.80 L209.45,822.64 L210.32,822.33 L211.19,821.91 L212.05,821.41 L212.92,820.84 L213.79,819.93 L214.66,818.51 L215.52,816.73 L216.39,814.71 L217.26,812.57 L218.13,810.45 L219.00,808.23 L219.86,805.66 L220.73,802.89 L221.60,800.12 L222.47,797.51 L223.33,795.23 L224.20,793.32 L225.07,791.34 L225.94,789.39 L226.81,787.60 L227.67,786.09 L228.54,785.00 L229.41,784.45 L230.28,784.56 L231.14,785.26 L232.01,786.40 L232.88,787.82 L233.75,789.37 L234.61,790.88 L235.48,792.26 L236.35,793.72 L237.22,795.31 L238.09,796.97 L238.95,798.67 L239.82,800.38 L240.69,802.04 L241.56,803.64 L242.42,805.12 L243.29,806.45 L244.16,807.71 L245.03,808.96 L245.89,810.17 L246.76,811.35 L247.63,812.47 L248.50,813.54 L249.37,814.54 L250.23,815.46 L251.10,816.29 L251.97,817.03 L252.84,817.70 L253.70,818.36 L254.57,818.99 L255.44,819.59 L256.31,820.16 L257.17,820.69 L258.04,821.18 L258.91,821.63 L259.78,822.03 L260.65,822.39 L261.51,822.68 L262.38,822.93 L263.25,823.16 L264.12,823.38 L264.98,823.59 L265.85,823.79 L266.72,823.99 L267.59,824.18 L268.45,824.36 L269.32,824.53 L270.19,824.69 L271.06,824.85 L271.93,825.00 L272.79,825.14 L273.66,825.27 L274.53,825.39 L275.40,825.51 L276.26,825.62 L277.13,825.72 L278.00,825.81 L278.87,825.89 L279.74,825.97 L280.60,826.04 L281.47,826.10 L282.34,826.15 L283.21,826.20 L284.07,826.25 L284.94,826.30 L285.81,826.34 L286.68,826.39 L287.54,826.44 L288.41,826.48 L289.28,826.53 L290.15,826.57 L291.02,826.61 L291.88,826.66 L292.75,826.70 L293.62,826.74 L294.49,826.78 L295.35,826.82 L296.22,826.86 L297.09,826.89 L297.96,826.93 L298.82,826.97 L299.69,827.00 L300.56,827.04 L301.43,827.07 L302.30,827.10 L303.16,827.14 L304.03,827.17 L304.90,827.20 L305.77,827.23 L306.63,827.26 L307.50,827.29 L308.37,827.31 L309.24,827.34 L310.10,827.37 L310.97,827.39 L311.84,827.41 L312.71,827.44 L313.58,827.46 L314.44,827.48 L315.31,827.50 L316.18,827.52 L317.05,827.54 L317.91,827.55 L318.78,827.57 L319.65,827.59 L320.52,827.60 L321.38,827.61 L322.25,827.63 L323.12,827.64 L323.99,827.65 L324.86,827.66 L325.72,827.67 L326.59,827.67 L327.46,827.68 L328.33,827.69 L329.19,827.69 L330.06,827.70 L330.93,827.70 L331.80,827.70 L332.66,827.70" fill="none" stroke="#17b6b6" stroke-width="1.1" stroke-linejoin="round"/>
<path d="M194.70,824.78 L195.57,824.08 L196.44,823.46 L197.30,822.98 L198.17,822.69 L199.04,822.64 L199.91,822.74 L200.77,822.94 L201.64,823.18 L202.51,823.43 L203.38,823.64 L204.24,823.77 L205.11,823.79 L205.98,823.73 L206.85,823.58 L207.72,823.38 L208.58,823.11 L209.45,822.79 L210.32,822.42 L211.19,822.02 L212.05,821.49 L212.92,820.54 L213.79,819.20 L214.66,817.56 L215.52,815.68 L216.39,813.66 L217.26,811.56 L218.13,809.48 L219.00,807.22 L219.86,804.51 L220.73,801.56 L221.60,798.58 L222.47,795.76 L223.33,793.33 L224.20,791.29 L225.07,789.20 L225.94,787.16 L226.81,785.36 L227.67,783.98 L228.54,783.17 L229.41,783.10 L230.28,783.57 L231.14,784.45 L232.01,785.62 L232.88,786.99 L233.75,788.46 L234.61,789.91 L235.48,791.30 L236.35,792.89 L237.22,794.67 L238.09,796.60 L238.95,798.59 L239.82,800.59 L240.69,802.54 L241.56,804.37 L242.42,806.02 L243.29,807.43 L244.16,808.70 L245.03,809.93 L245.89,811.11 L246.76,812.24 L247.63,813.30 L248.50,814.30 L249.37,815.24 L250.23,816.10 L251.10,816.90 L251.97,817.61 L252.84,818.28 L253.70,818.94 L254.57,819.57 L255.44,820.18 L256.31,820.76 L257.17,821.30 L258.04,821.79 L258.91,822.25 L259.78,822.65 L260.65,822.99 L261.51,823.28 L262.38,823.50 L263.25,823.71 L264.12,823.91 L264.98,824.10 L265.85,824.29 L266.72,824.46 L267.59,824.63 L268.45,824.79 L269.32,824.94 L270.19,825.08 L271.06,825.22 L271.93,825.35 L272.79,825.47 L273.66,825.58 L274.53,825.69 L275.40,825.79 L276.26,825.88 L277.13,825.97 L278.00,826.05 L278.87,826.12 L279.74,826.19 L280.60,826.24 L281.47,826.30 L282.34,826.34 L283.21,826.39 L284.07,826.43 L284.94,826.47 L285.81,826.51 L286.68,826.55 L287.54,826.59 L288.41,826.63 L289.28,826.67 L290.15,826.71 L291.02,826.75 L291.88,826.79 L292.75,826.82 L293.62,826.86 L294.49,826.89 L295.35,826.93 L296.22,826.96 L297.09,827.00 L297.96,827.03 L298.82,827.06 L299.69,827.09 L300.56,827.12 L301.43,827.15 L302.30,827.18 L303.16,827.21 L304.03,827.24 L304.90,827.26 L305.77,827.29 L306.63,827.31 L307.50,827.34 L308.37,827.36 L309.24,827.39 L310.10,827.41 L310.97,827.43 L311.84,827.45 L312.71,827.47 L313.58,827.49 L314.44,827.51 L315.31,827.52 L316.18,827.54 L317.05,827.56 L317.91,827.57 L318.78,827.59 L319.65,827.60 L320.52,827.61 L321.38,827.62 L322.25,827.64 L323.12,827.65 L323.99,827.66 L324.86,827.66 L325.72,827.67 L326.59,827.68 L327.46,827.68 L328.33,827.69 L329.19,827.69 L330.06,827.70 L330.93,827.70 L331.80,827.70 L332.66,827.70" fill="none" stroke="#e8262e" stroke-width="1.1" stroke-linejoin="round"/>
<path d="M194.70,825.36 L195.57,824.91 L196.44,824.54 L197.30,824.23 L198.17,824.01 L199.04,823.86 L199.91,823.80 L200.77,823.86 L201.64,824.05 L202.51,824.31 L203.38,824.56 L204.24,824.74 L205.11,824.77 L205.98,824.65 L206.85,824.43 L207.72,824.10 L208.58,823.69 L209.45,823.20 L210.32,822.66 L211.19,822.08 L212.05,821.42 L212.92,820.45 L213.79,819.21 L214.66,817.73 L215.52,816.07 L216.39,814.27 L217.26,812.38 L218.13,810.44 L219.00,808.25 L219.86,805.56 L220.73,802.59 L221.60,799.57 L222.47,796.73 L223.33,794.29 L224.20,792.30 L225.07,790.27 L225.94,788.29 L226.81,786.46 L227.67,784.94 L228.54,783.83 L229.41,783.28 L230.28,783.39 L231.14,784.10 L232.01,785.25 L232.88,786.70 L233.75,788.28 L234.61,789.86 L235.48,791.34 L236.35,793.05 L237.22,794.95 L238.09,796.89 L238.95,798.74 L239.82,800.38 L240.69,801.67 L241.56,802.69 L242.42,803.56 L243.29,804.39 L244.16,805.28 L245.03,806.31 L245.89,807.47 L246.76,808.72 L247.63,810.02 L248.50,811.31 L249.37,812.57 L250.23,813.74 L251.10,814.79 L251.97,815.67 L252.84,816.45 L253.70,817.21 L254.57,817.95 L255.44,818.65 L256.31,819.32 L257.17,819.94 L258.04,820.52 L258.91,821.05 L259.78,821.52 L260.65,821.93 L261.51,822.27 L262.38,822.55 L263.25,822.81 L264.12,823.06 L264.98,823.30 L265.85,823.53 L266.72,823.75 L267.59,823.96 L268.45,824.17 L269.32,824.36 L270.19,824.55 L271.06,824.72 L271.93,824.89 L272.79,825.04 L273.66,825.19 L274.53,825.33 L275.40,825.46 L276.26,825.57 L277.13,825.68 L278.00,825.78 L278.87,825.88 L279.74,825.96 L280.60,826.03 L281.47,826.09 L282.34,826.15 L283.21,826.20 L284.07,826.25 L284.94,826.30 L285.81,826.35 L286.68,826.39 L287.54,826.44 L288.41,826.49 L289.28,826.53 L290.15,826.58 L291.02,826.62 L291.88,826.66 L292.75,826.71 L293.62,826.75 L294.49,826.79 L295.35,826.83 L296.22,826.87 L297.09,826.90 L297.96,826.94 L298.82,826.98 L299.69,827.01 L300.56,827.05 L301.43,827.08 L302.30,827.11 L303.16,827.15 L304.03,827.18 L304.90,827.21 L305.77,827.24 L306.63,827.27 L307.50,827.29 L308.37,827.32 L309.24,827.35 L310.10,827.37 L310.97,827.40 L311.84,827.42 L312.71,827.44 L313.58,827.46 L314.44,827.48 L315.31,827.50 L316.18,827.52 L317.05,827.54 L317.91,827.56 L318.78,827.57 L319.65,827.59 L320.52,827.60 L321.38,827.62 L322.25,827.63 L323.12,827.64 L323.99,827.65 L324.86,827.66 L325.72,827.67 L326.59,827.68 L327.46,827.68 L328.33,827.69 L329.19,827.69 L330.06,827.70 L330.93,827.70 L331.80,827.70 L332.66,827.70" fill="none" stroke="#2d4fa6" stroke-width="1.1" stroke-linejoin="round"/>
<path d="M194.70,827.31 L195.57,827.24 L196.44,827.13 L197.30,826.99 L198.17,826.82 L199.04,826.61 L199.91,826.38 L200.77,826.13 L201.64,825.86 L202.51,825.58 L203.38,825.28 L204.24,824.97 L205.11,824.66 L205.98,824.34 L206.85,823.99 L207.72,823.60 L208.58,823.16 L209.45,822.67 L210.32,822.10 L211.19,821.45 L212.05,820.70 L212.92,819.85 L213.79,818.46 L214.66,816.35 L215.52,813.72 L216.39,810.77 L217.26,807.71 L218.13,804.72 L219.00,801.65 L219.86,798.13 L220.73,794.48 L221.60,791.02 L222.47,788.08 L223.33,785.87 L224.20,783.78 L225.07,781.89 L225.94,780.45 L226.81,779.76 L227.67,779.98 L228.54,780.91 L229.41,782.34 L230.28,784.02 L231.14,785.72 L232.01,787.26 L232.88,788.89 L233.75,790.66 L234.61,792.54 L235.48,794.48 L236.35,796.42 L237.22,798.32 L238.09,800.14 L238.95,801.83 L239.82,803.33 L240.69,804.61 L241.56,805.79 L242.42,806.91 L243.29,807.98 L244.16,809.01 L245.03,809.99 L245.89,810.93 L246.76,811.83 L247.63,812.70 L248.50,813.52 L249.37,814.31 L250.23,815.07 L251.10,815.80 L251.97,816.50 L252.84,817.17 L253.70,817.84 L254.57,818.51 L255.44,819.16 L256.31,819.79 L257.17,820.39 L258.04,820.95 L258.91,821.47 L259.78,821.93 L260.65,822.34 L261.51,822.67 L262.38,822.94 L263.25,823.18 L264.12,823.42 L264.98,823.64 L265.85,823.86 L266.72,824.07 L267.59,824.28 L268.45,824.47 L269.32,824.65 L270.19,824.83 L271.06,825.00 L271.93,825.15 L272.79,825.30 L273.66,825.44 L274.53,825.57 L275.40,825.70 L276.26,825.81 L277.13,825.91 L278.00,826.01 L278.87,826.09 L279.74,826.17 L280.60,826.24 L281.47,826.29 L282.34,826.34 L283.21,826.39 L284.07,826.43 L284.94,826.48 L285.81,826.52 L286.68,826.56 L287.54,826.60 L288.41,826.64 L289.28,826.68 L290.15,826.72 L291.02,826.76 L291.88,826.80 L292.75,826.83 L293.62,826.87 L294.49,826.91 L295.35,826.94 L296.22,826.98 L297.09,827.01 L297.96,827.04 L298.82,827.07 L299.69,827.10 L300.56,827.13 L301.43,827.16 L302.30,827.19 L303.16,827.22 L304.03,827.25 L304.90,827.27 L305.77,827.30 L306.63,827.33 L307.50,827.35 L308.37,827.37 L309.24,827.40 L310.10,827.42 L310.97,827.44 L311.84,827.46 L312.71,827.48 L313.58,827.50 L314.44,827.51 L315.31,827.53 L316.18,827.55 L317.05,827.56 L317.91,827.58 L318.78,827.59 L319.65,827.60 L320.52,827.62 L321.38,827.63 L322.25,827.64 L323.12,827.65 L323.99,827.66 L324.86,827.67 L325.72,827.67 L326.59,827.68 L327.46,827.68 L328.33,827.69 L329.19,827.69 L330.06,827.70 L330.93,827.70 L331.80,827.70 L332.66,827.70" fill="none" stroke="#111111" stroke-width="1.1" stroke-linejoin="round"/>
<line x1="275.6" y1="730.50" x2="285.8" y2="730.50" stroke="#c69132" stroke-width="3"/>
<text x="290.1" y="733.70" font-size="11.4" font-style="italic" fill="#1a1a1a">Mdo</text>
<line x1="275.6" y1="743.43" x2="285.8" y2="743.43" stroke="#111111" stroke-width="3"/>
<text x="290.1" y="746.63" font-size="11.4" font-style="italic" fill="#1a1a1a">Ppe</text>
<line x1="275.6" y1="756.36" x2="285.8" y2="756.36" stroke="#2fb56f" stroke-width="3"/>
<text x="290.1" y="759.56" font-size="11.4" font-style="italic" fill="#1a1a1a">Rru</text>
<line x1="275.6" y1="769.29" x2="285.8" y2="769.29" stroke="#17b6b6" stroke-width="3"/>
<text x="290.1" y="772.49" font-size="11.4" font-style="italic" fill="#1a1a1a">Sth</text>
<line x1="275.6" y1="782.22" x2="285.8" y2="782.22" stroke="#e8262e" stroke-width="3"/>
<text x="290.1" y="785.42" font-size="11.4" font-style="italic" fill="#1a1a1a">Phe</text>
<line x1="275.6" y1="795.15" x2="285.8" y2="795.15" stroke="#d676be" stroke-width="3"/>
<text x="290.1" y="798.35" font-size="11.4" font-style="italic" fill="#1a1a1a">Zju</text>
<line x1="275.6" y1="808.08" x2="285.8" y2="808.08" stroke="#2d4fa6" stroke-width="3"/>
<text x="290.1" y="811.28" font-size="11.4" font-style="italic" fill="#1a1a1a">Rch</text>
<line x1="370.3" y1="716.0" x2="370.3" y2="833.7" stroke="#222" stroke-width="1.1"/>
<line x1="370.3" y1="833.7" x2="516.0" y2="833.7" stroke="#222" stroke-width="1.1"/>
<line x1="368.0" y1="828.40" x2="370.3" y2="828.40" stroke="#333" stroke-width="0.9"/>
<text x="367.2" y="831.80" font-size="10.2" text-anchor="end" fill="#333">0</text>
<line x1="368.0" y1="788.50" x2="370.3" y2="788.50" stroke="#333" stroke-width="0.9"/>
<text x="367.2" y="791.90" font-size="10.2" text-anchor="end" fill="#333">5</text>
<line x1="368.0" y1="748.60" x2="370.3" y2="748.60" stroke="#333" stroke-width="0.9"/>
<text x="367.2" y="752.00" font-size="10.2" text-anchor="end" fill="#333">10</text>
<line x1="377.40" y1="833.7" x2="377.40" y2="836.0" stroke="#333" stroke-width="0.9"/>
<text x="379.40" y="845.30" font-size="10.2" text-anchor="middle" fill="#333">0.0</text>
<line x1="410.60" y1="833.7" x2="410.60" y2="836.0" stroke="#333" stroke-width="0.9"/>
<text x="412.60" y="845.30" font-size="10.2" text-anchor="middle" fill="#333">0.5</text>
<line x1="443.80" y1="833.7" x2="443.80" y2="836.0" stroke="#333" stroke-width="0.9"/>
<text x="445.80" y="845.30" font-size="10.2" text-anchor="middle" fill="#333">1.0</text>
<line x1="477.00" y1="833.7" x2="477.00" y2="836.0" stroke="#333" stroke-width="0.9"/>
<text x="479.00" y="845.30" font-size="10.2" text-anchor="middle" fill="#333">1.5</text>
<line x1="510.20" y1="833.7" x2="510.20" y2="836.0" stroke="#333" stroke-width="0.9"/>
<text x="512.20" y="845.30" font-size="10.2" text-anchor="middle" fill="#333">2.0</text>
<text x="353.5" y="773.6" font-size="11.5" text-anchor="middle" fill="#1a1a1a" transform="rotate(-90 353.5 773.6)">Density</text>
<text x="389.6" y="860.4" font-size="11.7" fill="#1a1a1a"><tspan font-style="italic">Ks</tspan> for species divergent</text>
<path d="M377.40,828.40 L378.24,827.38 L379.07,823.46 L379.91,808.11 L380.74,771.64 L381.58,734.98 L382.41,722.05 L383.25,734.59 L384.08,748.55 L384.92,764.04 L385.75,780.18 L386.59,796.54 L387.42,806.82 L388.26,812.12 L389.09,816.23 L389.93,819.14 L390.76,820.86 L391.60,821.96 L392.43,822.85 L393.27,823.56 L394.10,824.15 L394.94,824.65 L395.77,825.09 L396.61,825.53 L397.45,825.96 L398.28,826.36 L399.12,826.72 L399.95,827.03 L400.79,827.26 L401.62,827.41 L402.46,827.47 L403.29,827.52 L404.13,827.57 L404.96,827.61 L405.80,827.65 L406.63,827.69 L407.47,827.72 L408.30,827.75 L409.14,827.77 L409.97,827.80 L410.81,827.82 L411.64,827.84 L412.48,827.85 L413.31,827.87 L414.15,827.88 L414.98,827.89 L415.82,827.90 L416.66,827.91 L417.49,827.92 L418.33,827.93 L419.16,827.94 L420.00,827.95 L420.83,827.96 L421.67,827.96 L422.50,827.97 L423.34,827.98 L424.17,827.98 L425.01,827.99 L425.84,828.00 L426.68,828.00 L427.51,828.01 L428.35,828.01 L429.18,828.02 L430.02,828.02 L430.85,828.03 L431.69,828.03 L432.52,828.03 L433.36,828.04 L434.19,828.04 L435.03,828.05 L435.87,828.05 L436.70,828.05 L437.54,828.06 L438.37,828.06 L439.21,828.06 L440.04,828.07 L440.88,828.07 L441.71,828.07 L442.55,828.08 L443.38,828.08 L444.22,828.08 L445.05,828.09 L445.89,828.09 L446.72,828.09 L447.56,828.09 L448.39,828.10 L449.23,828.10 L450.06,828.10 L450.90,828.11 L451.73,828.11 L452.57,828.11 L453.41,828.12 L454.24,828.12 L455.08,828.12 L455.91,828.12 L456.75,828.13 L457.58,828.13 L458.42,828.13 L459.25,828.14 L460.09,828.14 L460.92,828.14 L461.76,828.14 L462.59,828.15 L463.43,828.15 L464.26,828.15 L465.10,828.16 L465.93,828.16 L466.77,828.16 L467.60,828.16 L468.44,828.17 L469.27,828.17 L470.11,828.17 L470.94,828.17 L471.78,828.18 L472.62,828.18 L473.45,828.18 L474.29,828.18 L475.12,828.19 L475.96,828.19 L476.79,828.19 L477.63,828.19 L478.46,828.19 L479.30,828.20 L480.13,828.20 L480.97,828.20 L481.80,828.20 L482.64,828.21 L483.47,828.21 L484.31,828.21 L485.14,828.21 L485.98,828.21 L486.81,828.21 L487.65,828.22 L488.48,828.22 L489.32,828.22 L490.15,828.22 L490.99,828.22 L491.83,828.22 L492.66,828.23 L493.50,828.23 L494.33,828.23 L495.17,828.23 L496.00,828.23 L496.84,828.23 L497.67,828.23 L498.51,828.23 L499.34,828.23 L500.18,828.24 L501.01,828.24 L501.85,828.24 L502.68,828.24 L503.52,828.24 L504.35,828.24 L505.19,828.24 L506.02,828.24 L506.86,828.24 L507.69,828.24 L508.53,828.24 L509.36,828.24 L510.20,828.24" fill="none" stroke="#d677c6" stroke-width="1.1" stroke-linejoin="round"/>
<path d="M377.40,828.40 L378.24,828.40 L379.07,828.40 L379.91,828.40 L380.74,828.40 L381.58,828.40 L382.41,828.40 L383.25,828.40 L384.08,828.40 L384.92,828.40 L385.75,828.40 L386.59,828.40 L387.42,828.40 L388.26,828.40 L389.09,828.40 L389.93,828.40 L390.76,828.40 L391.60,828.40 L392.43,828.40 L393.27,828.40 L394.10,828.40 L394.94,828.40 L395.77,828.40 L396.61,828.40 L397.45,828.40 L398.28,828.40 L399.12,828.40 L399.95,828.40 L400.79,828.40 L401.62,828.40 L402.46,828.40 L403.29,828.40 L404.13,828.40 L404.96,828.40 L405.80,828.37 L406.63,828.22 L407.47,827.95 L408.30,827.60 L409.14,827.19 L409.97,826.74 L410.81,826.29 L411.64,825.69 L412.48,824.94 L413.31,824.07 L414.15,823.13 L414.98,822.15 L415.82,821.17 L416.66,820.23 L417.49,819.37 L418.33,818.47 L419.16,817.54 L420.00,816.63 L420.83,815.78 L421.67,815.04 L422.50,814.46 L423.34,813.99 L424.17,813.54 L425.01,813.16 L425.84,812.91 L426.68,812.84 L427.51,812.89 L428.35,813.02 L429.18,813.19 L430.02,813.39 L430.85,813.61 L431.69,813.84 L432.52,814.06 L433.36,814.33 L434.19,814.63 L435.03,814.96 L435.87,815.31 L436.70,815.67 L437.54,816.03 L438.37,816.39 L439.21,816.74 L440.04,817.07 L440.88,817.37 L441.71,817.67 L442.55,817.97 L443.38,818.27 L444.22,818.56 L445.05,818.85 L445.89,819.13 L446.72,819.41 L447.56,819.69 L448.39,819.95 L449.23,820.21 L450.06,820.47 L450.90,820.71 L451.73,820.96 L452.57,821.20 L453.41,821.45 L454.24,821.69 L455.08,821.92 L455.91,822.16 L456.75,822.39 L457.58,822.61 L458.42,822.83 L459.25,823.04 L460.09,823.24 L460.92,823.43 L461.76,823.62 L462.59,823.79 L463.43,823.96 L464.26,824.11 L465.10,824.26 L465.93,824.42 L466.77,824.56 L467.60,824.71 L468.44,824.85 L469.27,825.00 L470.11,825.13 L470.94,825.27 L471.78,825.40 L472.62,825.53 L473.45,825.65 L474.29,825.77 L475.12,825.89 L475.96,826.00 L476.79,826.11 L477.63,826.21 L478.46,826.31 L479.30,826.41 L480.13,826.49 L480.97,826.58 L481.80,826.65 L482.64,826.73 L483.47,826.79 L484.31,826.85 L485.14,826.91 L485.98,826.97 L486.81,827.03 L487.65,827.09 L488.48,827.15 L489.32,827.21 L490.15,827.27 L490.99,827.33 L491.83,827.38 L492.66,827.43 L493.50,827.49 L494.33,827.54 L495.17,827.59 L496.00,827.64 L496.84,827.68 L497.67,827.73 L498.51,827.77 L499.34,827.81 L500.18,827.85 L501.01,827.88 L501.85,827.91 L502.68,827.94 L503.52,827.97 L504.35,828.00 L505.19,828.02 L506.02,828.04 L506.86,828.05 L507.69,828.06 L508.53,828.07 L509.36,828.08 L510.20,828.08" fill="none" stroke="#cf922f" stroke-width="1.1" stroke-linejoin="round"/>
<path d="M377.40,828.40 L378.24,828.40 L379.07,828.40 L379.91,828.40 L380.74,828.40 L381.58,828.40 L382.41,828.40 L383.25,828.40 L384.08,828.40 L384.92,828.40 L385.75,828.40 L386.59,828.40 L387.42,828.40 L388.26,828.40 L389.09,828.40 L389.93,828.40 L390.76,828.40 L391.60,828.40 L392.43,828.40 L393.27,828.40 L394.10,828.40 L394.94,828.40 L395.77,828.40 L396.61,828.40 L397.45,828.40 L398.28,828.40 L399.12,828.40 L399.95,828.40 L400.79,828.40 L401.62,828.40 L402.46,828.40 L403.29,828.40 L404.13,828.40 L404.96,828.32 L405.80,828.15 L406.63,827.90 L407.47,827.57 L408.30,827.20 L409.14,826.78 L409.97,826.34 L410.81,825.89 L411.64,825.27 L412.48,824.47 L413.31,823.55 L414.15,822.53 L414.98,821.48 L415.82,820.44 L416.66,819.45 L417.49,818.56 L418.33,817.64 L419.16,816.68 L420.00,815.74 L420.83,814.88 L421.67,814.17 L422.50,813.66 L423.34,813.29 L424.17,812.95 L425.01,812.67 L425.84,812.49 L426.68,812.44 L427.51,812.53 L428.35,812.72 L429.18,813.00 L430.02,813.32 L430.85,813.65 L431.69,813.98 L432.52,814.29 L433.36,814.64 L434.19,815.02 L435.03,815.42 L435.87,815.83 L436.70,816.25 L437.54,816.67 L438.37,817.08 L439.21,817.47 L440.04,817.84 L440.88,818.19 L441.71,818.52 L442.55,818.85 L443.38,819.18 L444.22,819.50 L445.05,819.81 L445.89,820.12 L446.72,820.42 L447.56,820.71 L448.39,820.98 L449.23,821.25 L450.06,821.51 L450.90,821.75 L451.73,821.99 L452.57,822.23 L453.41,822.46 L454.24,822.69 L455.08,822.91 L455.91,823.13 L456.75,823.34 L457.58,823.55 L458.42,823.75 L459.25,823.94 L460.09,824.12 L460.92,824.29 L461.76,824.46 L462.59,824.61 L463.43,824.76 L464.26,824.90 L465.10,825.03 L465.93,825.17 L466.77,825.30 L467.60,825.42 L468.44,825.55 L469.27,825.67 L470.11,825.79 L470.94,825.91 L471.78,826.03 L472.62,826.14 L473.45,826.24 L474.29,826.35 L475.12,826.45 L475.96,826.54 L476.79,826.63 L477.63,826.72 L478.46,826.80 L479.30,826.88 L480.13,826.95 L480.97,827.02 L481.80,827.08 L482.64,827.14 L483.47,827.19 L484.31,827.24 L485.14,827.29 L485.98,827.33 L486.81,827.38 L487.65,827.43 L488.48,827.47 L489.32,827.52 L490.15,827.56 L490.99,827.60 L491.83,827.64 L492.66,827.68 L493.50,827.72 L494.33,827.76 L495.17,827.80 L496.00,827.83 L496.84,827.87 L497.67,827.90 L498.51,827.93 L499.34,827.96 L500.18,827.99 L501.01,828.01 L501.85,828.04 L502.68,828.06 L503.52,828.08 L504.35,828.10 L505.19,828.11 L506.02,828.13 L506.86,828.14 L507.69,828.15 L508.53,828.16 L509.36,828.16 L510.20,828.16" fill="none" stroke="#2fb56c" stroke-width="1.1" stroke-linejoin="round"/>
<path d="M377.40,828.40 L378.24,828.40 L379.07,828.40 L379.91,828.40 L380.74,828.40 L381.58,828.40 L382.41,828.40 L383.25,828.40 L384.08,828.40 L384.92,828.40 L385.75,828.40 L386.59,828.40 L387.42,828.40 L388.26,828.40 L389.09,828.40 L389.93,828.40 L390.76,828.40 L391.60,828.40 L392.43,828.40 L393.27,828.40 L394.10,828.40 L394.94,828.40 L395.77,828.40 L396.61,828.40 L397.45,828.40 L398.28,828.40 L399.12,828.40 L399.95,828.40 L400.79,828.40 L401.62,828.40 L402.46,828.40 L403.29,828.32 L404.13,828.04 L404.96,827.60 L405.80,827.05 L406.63,826.46 L407.47,825.87 L408.30,825.21 L409.14,824.44 L409.97,823.57 L410.81,822.63 L411.64,821.63 L412.48,820.60 L413.31,819.55 L414.15,818.34 L414.98,816.98 L415.82,815.60 L416.66,814.35 L417.49,813.36 L418.33,812.42 L419.16,811.50 L420.00,810.73 L420.83,810.21 L421.67,810.05 L422.50,810.21 L423.34,810.58 L424.17,811.04 L425.01,811.53 L425.84,812.02 L426.68,812.62 L427.51,813.26 L428.35,813.89 L429.18,814.43 L430.02,814.90 L430.85,815.35 L431.69,815.79 L432.52,816.21 L433.36,816.62 L434.19,817.01 L435.03,817.40 L435.87,817.76 L436.70,818.12 L437.54,818.47 L438.37,818.81 L439.21,819.13 L440.04,819.46 L440.88,819.77 L441.71,820.08 L442.55,820.38 L443.38,820.67 L444.22,820.96 L445.05,821.23 L445.89,821.50 L446.72,821.76 L447.56,822.02 L448.39,822.26 L449.23,822.49 L450.06,822.72 L450.90,822.93 L451.73,823.14 L452.57,823.35 L453.41,823.56 L454.24,823.76 L455.08,823.95 L455.91,824.15 L456.75,824.33 L457.58,824.51 L458.42,824.69 L459.25,824.85 L460.09,825.01 L460.92,825.16 L461.76,825.31 L462.59,825.44 L463.43,825.57 L464.26,825.68 L465.10,825.80 L465.93,825.91 L466.77,826.02 L467.60,826.13 L468.44,826.24 L469.27,826.34 L470.11,826.45 L470.94,826.55 L471.78,826.64 L472.62,826.74 L473.45,826.83 L474.29,826.91 L475.12,827.00 L475.96,827.08 L476.79,827.15 L477.63,827.23 L478.46,827.29 L479.30,827.36 L480.13,827.41 L480.97,827.47 L481.80,827.52 L482.64,827.56 L483.47,827.60 L484.31,827.63 L485.14,827.66 L485.98,827.69 L486.81,827.73 L487.65,827.76 L488.48,827.79 L489.32,827.82 L490.15,827.85 L490.99,827.88 L491.83,827.90 L492.66,827.93 L493.50,827.96 L494.33,827.98 L495.17,828.01 L496.00,828.03 L496.84,828.05 L497.67,828.07 L498.51,828.09 L499.34,828.11 L500.18,828.13 L501.01,828.15 L501.85,828.16 L502.68,828.18 L503.52,828.19 L504.35,828.20 L505.19,828.21 L506.02,828.22 L506.86,828.23 L507.69,828.23 L508.53,828.24 L509.36,828.24 L510.20,828.24" fill="none" stroke="#77ad3a" stroke-width="1.1" stroke-linejoin="round"/>
<path d="M377.40,828.40 L378.24,828.40 L379.07,828.40 L379.91,828.40 L380.74,828.40 L381.58,828.40 L382.41,828.40 L383.25,828.40 L384.08,828.40 L384.92,828.40 L385.75,828.40 L386.59,828.40 L387.42,828.40 L388.26,828.40 L389.09,828.40 L389.93,828.40 L390.76,828.40 L391.60,828.40 L392.43,828.40 L393.27,828.40 L394.10,828.40 L394.94,828.40 L395.77,828.40 L396.61,828.40 L397.45,828.40 L398.28,828.40 L399.12,828.40 L399.95,828.40 L400.79,828.40 L401.62,828.40 L402.46,828.40 L403.29,828.40 L404.13,828.40 L404.96,828.40 L405.80,828.37 L406.63,828.22 L407.47,827.95 L408.30,827.60 L409.14,827.19 L409.97,826.74 L410.81,826.29 L411.64,825.70 L412.48,824.96 L413.31,824.10 L414.15,823.16 L414.98,822.18 L415.82,821.20 L416.66,820.25 L417.49,819.36 L418.33,818.40 L419.16,817.40 L420.00,816.40 L420.83,815.47 L421.67,814.67 L422.50,814.06 L423.34,813.59 L424.17,813.13 L425.01,812.76 L425.84,812.51 L426.68,812.44 L427.51,812.50 L428.35,812.65 L429.18,812.85 L430.02,813.08 L430.85,813.34 L431.69,813.59 L432.52,813.84 L433.36,814.14 L434.19,814.46 L435.03,814.82 L435.87,815.19 L436.70,815.57 L437.54,815.95 L438.37,816.33 L439.21,816.70 L440.04,817.05 L440.88,817.38 L441.71,817.70 L442.55,818.02 L443.38,818.34 L444.22,818.66 L445.05,818.97 L445.89,819.27 L446.72,819.57 L447.56,819.87 L448.39,820.15 L449.23,820.43 L450.06,820.70 L450.90,820.96 L451.73,821.22 L452.57,821.48 L453.41,821.74 L454.24,822.00 L455.08,822.25 L455.91,822.50 L456.75,822.74 L457.58,822.98 L458.42,823.20 L459.25,823.42 L460.09,823.63 L460.92,823.83 L461.76,824.02 L462.59,824.20 L463.43,824.36 L464.26,824.51 L465.10,824.65 L465.93,824.79 L466.77,824.94 L467.60,825.07 L468.44,825.21 L469.27,825.34 L470.11,825.46 L470.94,825.59 L471.78,825.71 L472.62,825.83 L473.45,825.94 L474.29,826.05 L475.12,826.15 L475.96,826.25 L476.79,826.35 L477.63,826.44 L478.46,826.53 L479.30,826.61 L480.13,826.69 L480.97,826.76 L481.80,826.83 L482.64,826.89 L483.47,826.95 L484.31,827.01 L485.14,827.06 L485.98,827.11 L486.81,827.17 L487.65,827.22 L488.48,827.27 L489.32,827.32 L490.15,827.37 L490.99,827.42 L491.83,827.47 L492.66,827.52 L493.50,827.56 L494.33,827.61 L495.17,827.65 L496.00,827.69 L496.84,827.73 L497.67,827.77 L498.51,827.81 L499.34,827.84 L500.18,827.88 L501.01,827.91 L501.85,827.94 L502.68,827.96 L503.52,827.99 L504.35,828.01 L505.19,828.03 L506.02,828.04 L506.86,828.06 L507.69,828.07 L508.53,828.07 L509.36,828.08 L510.20,828.08" fill="none" stroke="#2c4ea6" stroke-width="1.1" stroke-linejoin="round"/>
<path d="M377.40,828.40 L378.24,828.40 L379.07,828.40 L379.91,828.40 L380.74,828.40 L381.58,828.40 L382.41,828.40 L383.25,828.40 L384.08,828.40 L384.92,828.40 L385.75,828.40 L386.59,828.40 L387.42,828.40 L388.26,828.40 L389.09,828.40 L389.93,828.25 L390.76,827.58 L391.60,826.57 L392.43,825.19 L393.27,822.59 L394.10,819.23 L394.94,815.79 L395.77,812.72 L396.61,809.47 L397.45,806.59 L398.28,804.68 L399.12,803.14 L399.95,802.07 L400.79,801.88 L401.62,802.56 L402.46,803.70 L403.29,804.85 L404.13,805.97 L404.96,807.21 L405.80,808.46 L406.63,809.59 L407.47,810.62 L408.30,811.64 L409.14,812.63 L409.97,813.58 L410.81,814.49 L411.64,815.33 L412.48,816.10 L413.31,816.80 L414.15,817.44 L414.98,818.05 L415.82,818.64 L416.66,819.21 L417.49,819.75 L418.33,820.25 L419.16,820.73 L420.00,821.17 L420.83,821.59 L421.67,821.97 L422.50,822.32 L423.34,822.63 L424.17,822.93 L425.01,823.22 L425.84,823.49 L426.68,823.74 L427.51,823.98 L428.35,824.21 L429.18,824.42 L430.02,824.63 L430.85,824.83 L431.69,825.02 L432.52,825.21 L433.36,825.40 L434.19,825.58 L435.03,825.76 L435.87,825.94 L436.70,826.12 L437.54,826.29 L438.37,826.45 L439.21,826.60 L440.04,826.75 L440.88,826.87 L441.71,826.99 L442.55,827.09 L443.38,827.17 L444.22,827.23 L445.05,827.29 L445.89,827.35 L446.72,827.41 L447.56,827.46 L448.39,827.51 L449.23,827.56 L450.06,827.61 L450.90,827.66 L451.73,827.70 L452.57,827.74 L453.41,827.78 L454.24,827.82 L455.08,827.85 L455.91,827.88 L456.75,827.91 L457.58,827.94 L458.42,827.97 L459.25,827.99 L460.09,828.01 L460.92,828.03 L461.76,828.05 L462.59,828.06 L463.43,828.08 L464.26,828.09 L465.10,828.10 L465.93,828.11 L466.77,828.12 L467.60,828.13 L468.44,828.14 L469.27,828.15 L470.11,828.16 L470.94,828.17 L471.78,828.18 L472.62,828.19 L473.45,828.20 L474.29,828.21 L475.12,828.21 L475.96,828.22 L476.79,828.23 L477.63,828.24 L478.46,828.25 L479.30,828.25 L480.13,828.26 L480.97,828.27 L481.80,828.28 L482.64,828.28 L483.47,828.29 L484.31,828.30 L485.14,828.30 L485.98,828.31 L486.81,828.32 L487.65,828.32 L488.48,828.33 L489.32,828.33 L490.15,828.34 L490.99,828.34 L491.83,828.35 L492.66,828.35 L493.50,828.36 L494.33,828.36 L495.17,828.36 L496.00,828.37 L496.84,828.37 L497.67,828.38 L498.51,828.38 L499.34,828.38 L500.18,828.38 L501.01,828.39 L501.85,828.39 L502.68,828.39 L503.52,828.39 L504.35,828.39 L505.19,828.40 L506.02,828.40 L506.86,828.40 L507.69,828.40 L508.53,828.40 L509.36,828.40 L510.20,828.40" fill="none" stroke="#17b5b5" stroke-width="1.6" stroke-linejoin="round"/>
<line x1="532.0" y1="711.8" x2="532.0" y2="832.0" stroke="#222" stroke-width="1.1"/>
<line x1="532.0" y1="832.0" x2="680.5" y2="832.0" stroke="#222" stroke-width="1.1"/>
<line x1="529.7" y1="826.90" x2="532.0" y2="826.90" stroke="#333" stroke-width="0.9"/>
<text x="528.9" y="830.30" font-size="10.2" text-anchor="end" fill="#333">0</text>
<line x1="529.7" y1="804.26" x2="532.0" y2="804.26" stroke="#333" stroke-width="0.9"/>
<text x="528.9" y="807.66" font-size="10.2" text-anchor="end" fill="#333">5</text>
<line x1="529.7" y1="781.62" x2="532.0" y2="781.62" stroke="#333" stroke-width="0.9"/>
<text x="528.9" y="785.02" font-size="10.2" text-anchor="end" fill="#333">10</text>
<line x1="529.7" y1="758.98" x2="532.0" y2="758.98" stroke="#333" stroke-width="0.9"/>
<text x="528.9" y="762.38" font-size="10.2" text-anchor="end" fill="#333">15</text>
<line x1="529.7" y1="736.34" x2="532.0" y2="736.34" stroke="#333" stroke-width="0.9"/>
<text x="528.9" y="739.74" font-size="10.2" text-anchor="end" fill="#333">20</text>
<line x1="529.7" y1="713.70" x2="532.0" y2="713.70" stroke="#333" stroke-width="0.9"/>
<text x="528.9" y="717.10" font-size="10.2" text-anchor="end" fill="#333">25</text>
<line x1="538.60" y1="832.0" x2="538.60" y2="834.3" stroke="#333" stroke-width="0.9"/>
<text x="540.60" y="843.60" font-size="10.2" text-anchor="middle" fill="#333">0.00</text>
<line x1="572.30" y1="832.0" x2="572.30" y2="834.3" stroke="#333" stroke-width="0.9"/>
<text x="574.30" y="843.60" font-size="10.2" text-anchor="middle" fill="#333">0.25</text>
<line x1="606.00" y1="832.0" x2="606.00" y2="834.3" stroke="#333" stroke-width="0.9"/>
<text x="608.00" y="843.60" font-size="10.2" text-anchor="middle" fill="#333">0.50</text>
<line x1="639.70" y1="832.0" x2="639.70" y2="834.3" stroke="#333" stroke-width="0.9"/>
<text x="641.70" y="843.60" font-size="10.2" text-anchor="middle" fill="#333">0.75</text>
<line x1="673.40" y1="832.0" x2="673.40" y2="834.3" stroke="#333" stroke-width="0.9"/>
<text x="675.40" y="843.60" font-size="10.2" text-anchor="middle" fill="#333">1.00</text>
<text x="548.2" y="860.4" font-size="11.7" fill="#1a1a1a"><tspan font-style="italic">4Dtv</tspan> for species divergent</text>
<path d="M538.60,826.90 L539.45,818.51 L540.30,794.82 L541.14,757.39 L541.99,728.91 L542.84,718.10 L543.69,734.19 L544.53,755.35 L545.38,777.77 L546.23,794.25 L547.08,804.98 L547.93,812.56 L548.77,816.63 L549.62,819.59 L550.47,821.74 L551.32,822.98 L552.16,823.60 L553.01,824.15 L553.86,824.61 L554.71,825.01 L555.56,825.33 L556.40,825.59 L557.25,825.79 L558.10,825.92 L558.95,826.00 L559.79,826.06 L560.64,826.12 L561.49,826.17 L562.34,826.22 L563.19,826.26 L564.03,826.31 L564.88,826.35 L565.73,826.39 L566.58,826.42 L567.43,826.45 L568.27,826.48 L569.12,826.51 L569.97,826.54 L570.82,826.56 L571.66,826.58 L572.51,826.60 L573.36,826.61 L574.21,826.63 L575.06,826.64 L575.90,826.65 L576.75,826.66 L577.60,826.67 L578.45,826.67 L579.29,826.67 L580.14,826.68 L580.99,826.68 L581.84,826.68 L582.69,826.69 L583.53,826.69 L584.38,826.69 L585.23,826.69 L586.08,826.70 L586.92,826.70 L587.77,826.70 L588.62,826.70 L589.47,826.71 L590.32,826.71 L591.16,826.71 L592.01,826.71 L592.86,826.72 L593.71,826.72 L594.55,826.72 L595.40,826.72 L596.25,826.73 L597.10,826.73 L597.95,826.73 L598.79,826.73 L599.64,826.73 L600.49,826.74 L601.34,826.74 L602.18,826.74 L603.03,826.74 L603.88,826.74 L604.73,826.75 L605.58,826.75 L606.42,826.75 L607.27,826.75 L608.12,826.75 L608.97,826.75 L609.82,826.76 L610.66,826.76 L611.51,826.76 L612.36,826.76 L613.21,826.76 L614.05,826.76 L614.90,826.76 L615.75,826.77 L616.60,826.77 L617.45,826.77 L618.29,826.77 L619.14,826.77 L619.99,826.77 L620.84,826.77 L621.68,826.78 L622.53,826.78 L623.38,826.78 L624.23,826.78 L625.08,826.78 L625.92,826.78 L626.77,826.78 L627.62,826.78 L628.47,826.78 L629.31,826.79 L630.16,826.79 L631.01,826.79 L631.86,826.79 L632.71,826.79 L633.55,826.79 L634.40,826.79 L635.25,826.79 L636.10,826.79 L636.94,826.79 L637.79,826.79 L638.64,826.80 L639.49,826.80 L640.34,826.80 L641.18,826.80 L642.03,826.80 L642.88,826.80 L643.73,826.80 L644.57,826.80 L645.42,826.80 L646.27,826.80 L647.12,826.80 L647.97,826.80 L648.81,826.80 L649.66,826.80 L650.51,826.80 L651.36,826.80 L652.21,826.80 L653.05,826.81 L653.90,826.81 L654.75,826.81 L655.60,826.81 L656.44,826.81 L657.29,826.81 L658.14,826.81 L658.99,826.81 L659.84,826.81 L660.68,826.81 L661.53,826.81 L662.38,826.81 L663.23,826.81 L664.07,826.81 L664.92,826.81 L665.77,826.81 L666.62,826.81 L667.47,826.81 L668.31,826.81 L669.16,826.81 L670.01,826.81 L670.86,826.81 L671.70,826.81 L672.55,826.81 L673.40,826.81" fill="none" stroke="#d677c6" stroke-width="1.1" stroke-linejoin="round"/>
<path d="M538.60,826.90 L539.45,826.90 L540.30,826.89 L541.14,826.88 L541.99,826.87 L542.84,826.85 L543.69,826.83 L544.53,826.81 L545.38,826.78 L546.23,826.75 L547.08,826.71 L547.93,826.67 L548.77,826.63 L549.62,826.59 L550.47,826.54 L551.32,826.49 L552.16,826.44 L553.01,826.37 L553.86,826.26 L554.71,826.12 L555.56,825.96 L556.40,825.77 L557.25,825.55 L558.10,825.31 L558.95,825.05 L559.79,824.76 L560.64,824.45 L561.49,824.04 L562.34,823.53 L563.19,822.93 L564.03,822.27 L564.88,821.54 L565.73,820.77 L566.58,819.97 L567.43,819.10 L568.27,818.01 L569.12,816.77 L569.97,815.48 L570.82,814.22 L571.66,813.10 L572.51,812.20 L573.36,811.34 L574.21,810.47 L575.06,809.67 L575.90,809.00 L576.75,808.53 L577.60,808.34 L578.45,808.37 L579.29,808.48 L580.14,808.65 L580.99,808.86 L581.84,809.10 L582.69,809.35 L583.53,809.61 L584.38,809.92 L585.23,810.29 L586.08,810.71 L586.92,811.16 L587.77,811.63 L588.62,812.12 L589.47,812.61 L590.32,813.09 L591.16,813.55 L592.01,813.98 L592.86,814.37 L593.71,814.76 L594.55,815.14 L595.40,815.52 L596.25,815.89 L597.10,816.27 L597.95,816.63 L598.79,816.99 L599.64,817.35 L600.49,817.69 L601.34,818.03 L602.18,818.35 L603.03,818.67 L603.88,818.97 L604.73,819.25 L605.58,819.53 L606.42,819.78 L607.27,820.03 L608.12,820.28 L608.97,820.53 L609.82,820.77 L610.66,821.00 L611.51,821.23 L612.36,821.45 L613.21,821.67 L614.05,821.88 L614.90,822.09 L615.75,822.28 L616.60,822.47 L617.45,822.66 L618.29,822.83 L619.14,822.99 L619.99,823.15 L620.84,823.29 L621.68,823.43 L622.53,823.56 L623.38,823.68 L624.23,823.80 L625.08,823.92 L625.92,824.04 L626.77,824.15 L627.62,824.27 L628.47,824.38 L629.31,824.49 L630.16,824.59 L631.01,824.70 L631.86,824.80 L632.71,824.90 L633.55,824.99 L634.40,825.08 L635.25,825.17 L636.10,825.26 L636.94,825.34 L637.79,825.42 L638.64,825.49 L639.49,825.56 L640.34,825.63 L641.18,825.69 L642.03,825.75 L642.88,825.81 L643.73,825.86 L644.57,825.91 L645.42,825.95 L646.27,825.99 L647.12,826.02 L647.97,826.06 L648.81,826.09 L649.66,826.12 L650.51,826.16 L651.36,826.19 L652.21,826.22 L653.05,826.25 L653.90,826.28 L654.75,826.31 L655.60,826.34 L656.44,826.37 L657.29,826.39 L658.14,826.42 L658.99,826.45 L659.84,826.47 L660.68,826.49 L661.53,826.51 L662.38,826.53 L663.23,826.55 L664.07,826.57 L664.92,826.59 L665.77,826.60 L666.62,826.62 L667.47,826.63 L668.31,826.64 L669.16,826.65 L670.01,826.66 L670.86,826.67 L671.70,826.67 L672.55,826.67 L673.40,826.67" fill="none" stroke="#cf922f" stroke-width="1.1" stroke-linejoin="round"/>
<path d="M538.60,826.90 L539.45,826.90 L540.30,826.89 L541.14,826.87 L541.99,826.85 L542.84,826.82 L543.69,826.79 L544.53,826.76 L545.38,826.71 L546.23,826.67 L547.08,826.61 L547.93,826.56 L548.77,826.50 L549.62,826.43 L550.47,826.36 L551.32,826.29 L552.16,826.21 L553.01,826.11 L553.86,825.96 L554.71,825.77 L555.56,825.54 L556.40,825.28 L557.25,824.98 L558.10,824.65 L558.95,824.29 L559.79,823.91 L560.64,823.47 L561.49,822.88 L562.34,822.14 L563.19,821.29 L564.03,820.35 L564.88,819.35 L565.73,818.34 L566.58,817.32 L567.43,816.30 L568.27,815.10 L569.12,813.80 L569.97,812.51 L570.82,811.30 L571.66,810.28 L572.51,809.53 L573.36,808.86 L574.21,808.24 L575.06,807.76 L575.90,807.47 L576.75,807.45 L577.60,807.59 L578.45,807.83 L579.29,808.16 L580.14,808.53 L580.99,808.92 L581.84,809.28 L582.69,809.67 L583.53,810.11 L584.38,810.59 L585.23,811.10 L586.08,811.64 L586.92,812.19 L587.77,812.74 L588.62,813.30 L589.47,813.85 L590.32,814.37 L591.16,814.87 L592.01,815.33 L592.86,815.74 L593.71,816.15 L594.55,816.55 L595.40,816.94 L596.25,817.33 L597.10,817.71 L597.95,818.08 L598.79,818.44 L599.64,818.80 L600.49,819.14 L601.34,819.46 L602.18,819.78 L603.03,820.08 L603.88,820.37 L604.73,820.64 L605.58,820.89 L606.42,821.13 L607.27,821.36 L608.12,821.59 L608.97,821.82 L609.82,822.03 L610.66,822.25 L611.51,822.45 L612.36,822.66 L613.21,822.85 L614.05,823.04 L614.90,823.22 L615.75,823.39 L616.60,823.56 L617.45,823.71 L618.29,823.86 L619.14,824.00 L619.99,824.13 L620.84,824.24 L621.68,824.35 L622.53,824.45 L623.38,824.54 L624.23,824.64 L625.08,824.73 L625.92,824.81 L626.77,824.90 L627.62,824.98 L628.47,825.07 L629.31,825.14 L630.16,825.22 L631.01,825.30 L631.86,825.37 L632.71,825.44 L633.55,825.50 L634.40,825.57 L635.25,825.63 L636.10,825.69 L636.94,825.75 L637.79,825.81 L638.64,825.86 L639.49,825.91 L640.34,825.96 L641.18,826.00 L642.03,826.04 L642.88,826.08 L643.73,826.12 L644.57,826.15 L645.42,826.19 L646.27,826.22 L647.12,826.24 L647.97,826.27 L648.81,826.30 L649.66,826.32 L650.51,826.35 L651.36,826.37 L652.21,826.40 L653.05,826.42 L653.90,826.45 L654.75,826.47 L655.60,826.49 L656.44,826.52 L657.29,826.54 L658.14,826.56 L658.99,826.58 L659.84,826.60 L660.68,826.62 L661.53,826.63 L662.38,826.65 L663.23,826.67 L664.07,826.68 L664.92,826.70 L665.77,826.71 L666.62,826.72 L667.47,826.73 L668.31,826.74 L669.16,826.75 L670.01,826.75 L670.86,826.76 L671.70,826.76 L672.55,826.76 L673.40,826.76" fill="none" stroke="#2fb56c" stroke-width="1.1" stroke-linejoin="round"/>
<path d="M538.60,826.90 L539.45,826.90 L540.30,826.88 L541.14,826.86 L541.99,826.83 L542.84,826.79 L543.69,826.74 L544.53,826.69 L545.38,826.63 L546.23,826.56 L547.08,826.48 L547.93,826.40 L548.77,826.31 L549.62,826.21 L550.47,826.11 L551.32,826.01 L552.16,825.87 L553.01,825.68 L553.86,825.42 L554.71,825.11 L555.56,824.74 L556.40,824.31 L557.25,823.84 L558.10,823.31 L558.95,822.73 L559.79,821.83 L560.64,820.55 L561.49,819.04 L562.34,817.44 L563.19,815.89 L564.03,814.54 L564.88,813.28 L565.73,812.04 L566.58,810.84 L567.43,809.74 L568.27,808.77 L569.12,807.81 L569.97,806.84 L570.82,806.00 L571.66,805.44 L572.51,805.31 L573.36,805.53 L574.21,805.97 L575.06,806.53 L575.90,807.13 L576.75,807.71 L577.60,808.38 L578.45,809.14 L579.29,809.96 L580.14,810.80 L580.99,811.61 L581.84,812.38 L582.69,813.04 L583.53,813.60 L584.38,814.13 L585.23,814.65 L586.08,815.16 L586.92,815.65 L587.77,816.13 L588.62,816.60 L589.47,817.05 L590.32,817.48 L591.16,817.90 L592.01,818.30 L592.86,818.69 L593.71,819.06 L594.55,819.41 L595.40,819.74 L596.25,820.06 L597.10,820.35 L597.95,820.63 L598.79,820.88 L599.64,821.12 L600.49,821.35 L601.34,821.57 L602.18,821.79 L603.03,822.00 L603.88,822.21 L604.73,822.41 L605.58,822.61 L606.42,822.79 L607.27,822.98 L608.12,823.15 L608.97,823.32 L609.82,823.49 L610.66,823.65 L611.51,823.80 L612.36,823.94 L613.21,824.08 L614.05,824.21 L614.90,824.33 L615.75,824.44 L616.60,824.55 L617.45,824.65 L618.29,824.75 L619.14,824.83 L619.99,824.91 L620.84,824.99 L621.68,825.06 L622.53,825.13 L623.38,825.20 L624.23,825.27 L625.08,825.34 L625.92,825.41 L626.77,825.47 L627.62,825.54 L628.47,825.60 L629.31,825.66 L630.16,825.71 L631.01,825.77 L631.86,825.82 L632.71,825.88 L633.55,825.93 L634.40,825.97 L635.25,826.02 L636.10,826.07 L636.94,826.11 L637.79,826.15 L638.64,826.19 L639.49,826.22 L640.34,826.26 L641.18,826.29 L642.03,826.32 L642.88,826.35 L643.73,826.38 L644.57,826.40 L645.42,826.42 L646.27,826.44 L647.12,826.46 L647.97,826.48 L648.81,826.50 L649.66,826.52 L650.51,826.53 L651.36,826.55 L652.21,826.57 L653.05,826.58 L653.90,826.60 L654.75,826.62 L655.60,826.63 L656.44,826.65 L657.29,826.66 L658.14,826.67 L658.99,826.69 L659.84,826.70 L660.68,826.71 L661.53,826.72 L662.38,826.74 L663.23,826.75 L664.07,826.76 L664.92,826.76 L665.77,826.77 L666.62,826.78 L667.47,826.79 L668.31,826.79 L669.16,826.80 L670.01,826.80 L670.86,826.81 L671.70,826.81 L672.55,826.81 L673.40,826.81" fill="none" stroke="#77ad3a" stroke-width="1.1" stroke-linejoin="round"/>
<path d="M538.60,826.90 L539.45,826.90 L540.30,826.89 L541.14,826.88 L541.99,826.87 L542.84,826.85 L543.69,826.83 L544.53,826.81 L545.38,826.78 L546.23,826.75 L547.08,826.71 L547.93,826.67 L548.77,826.63 L549.62,826.59 L550.47,826.54 L551.32,826.49 L552.16,826.44 L553.01,826.37 L553.86,826.26 L554.71,826.11 L555.56,825.94 L556.40,825.75 L557.25,825.53 L558.10,825.29 L558.95,825.03 L559.79,824.76 L560.64,824.47 L561.49,824.12 L562.34,823.71 L563.19,823.24 L564.03,822.72 L564.88,822.14 L565.73,821.51 L566.58,820.84 L567.43,820.07 L568.27,819.06 L569.12,817.87 L569.97,816.60 L570.82,815.31 L571.66,814.11 L572.51,813.06 L573.36,811.96 L574.21,810.80 L575.06,809.72 L575.90,808.88 L576.75,808.40 L577.60,808.35 L578.45,808.43 L579.29,808.57 L580.14,808.77 L580.99,809.01 L581.84,809.28 L582.69,809.56 L583.53,809.86 L584.38,810.29 L585.23,810.82 L586.08,811.43 L586.92,812.09 L587.77,812.77 L588.62,813.45 L589.47,814.08 L590.32,814.65 L591.16,815.12 L592.01,815.53 L592.86,815.92 L593.71,816.30 L594.55,816.66 L595.40,817.02 L596.25,817.36 L597.10,817.68 L597.95,818.00 L598.79,818.31 L599.64,818.60 L600.49,818.89 L601.34,819.17 L602.18,819.44 L603.03,819.70 L603.88,819.95 L604.73,820.20 L605.58,820.44 L606.42,820.68 L607.27,820.91 L608.12,821.15 L608.97,821.38 L609.82,821.61 L610.66,821.83 L611.51,822.05 L612.36,822.26 L613.21,822.47 L614.05,822.67 L614.90,822.87 L615.75,823.06 L616.60,823.24 L617.45,823.41 L618.29,823.57 L619.14,823.73 L619.99,823.87 L620.84,824.00 L621.68,824.12 L622.53,824.23 L623.38,824.33 L624.23,824.44 L625.08,824.54 L625.92,824.64 L626.77,824.73 L627.62,824.83 L628.47,824.92 L629.31,825.01 L630.16,825.09 L631.01,825.18 L631.86,825.26 L632.71,825.34 L633.55,825.42 L634.40,825.49 L635.25,825.56 L636.10,825.63 L636.94,825.70 L637.79,825.76 L638.64,825.82 L639.49,825.88 L640.34,825.93 L641.18,825.98 L642.03,826.03 L642.88,826.07 L643.73,826.11 L644.57,826.15 L645.42,826.18 L646.27,826.22 L647.12,826.24 L647.97,826.27 L648.81,826.30 L649.66,826.32 L650.51,826.35 L651.36,826.38 L652.21,826.40 L653.05,826.43 L653.90,826.45 L654.75,826.47 L655.60,826.50 L656.44,826.52 L657.29,826.54 L658.14,826.56 L658.99,826.58 L659.84,826.60 L660.68,826.62 L661.53,826.64 L662.38,826.65 L663.23,826.67 L664.07,826.68 L664.92,826.70 L665.77,826.71 L666.62,826.72 L667.47,826.73 L668.31,826.74 L669.16,826.75 L670.01,826.75 L670.86,826.76 L671.70,826.76 L672.55,826.76 L673.40,826.76" fill="none" stroke="#2c4ea6" stroke-width="1.1" stroke-linejoin="round"/>
<path d="M538.60,826.90 L539.45,826.88 L540.30,826.84 L541.14,826.76 L541.99,826.66 L542.84,826.53 L543.69,826.37 L544.53,826.19 L545.38,825.98 L546.23,825.46 L547.08,824.45 L547.93,823.03 L548.77,821.28 L549.62,819.28 L550.47,817.13 L551.32,814.91 L552.16,812.10 L553.01,808.47 L553.86,805.05 L554.71,802.28 L555.56,799.63 L556.40,798.22 L557.25,798.50 L558.10,799.47 L558.95,800.84 L559.79,802.30 L560.64,803.71 L561.49,805.40 L562.34,807.22 L563.19,808.93 L564.03,810.27 L564.88,811.37 L565.73,812.42 L566.58,813.39 L567.43,814.31 L568.27,815.15 L569.12,815.94 L569.97,816.66 L570.82,817.31 L571.66,817.90 L572.51,818.42 L573.36,818.91 L574.21,819.37 L575.06,819.81 L575.90,820.23 L576.75,820.62 L577.60,820.99 L578.45,821.34 L579.29,821.66 L580.14,821.96 L580.99,822.24 L581.84,822.49 L582.69,822.72 L583.53,822.93 L584.38,823.14 L585.23,823.33 L586.08,823.53 L586.92,823.71 L587.77,823.89 L588.62,824.06 L589.47,824.22 L590.32,824.38 L591.16,824.52 L592.01,824.66 L592.86,824.80 L593.71,824.92 L594.55,825.04 L595.40,825.15 L596.25,825.25 L597.10,825.34 L597.95,825.43 L598.79,825.50 L599.64,825.57 L600.49,825.64 L601.34,825.70 L602.18,825.76 L603.03,825.82 L603.88,825.88 L604.73,825.93 L605.58,825.99 L606.42,826.04 L607.27,826.09 L608.12,826.14 L608.97,826.18 L609.82,826.22 L610.66,826.27 L611.51,826.30 L612.36,826.34 L613.21,826.37 L614.05,826.41 L614.90,826.43 L615.75,826.46 L616.60,826.48 L617.45,826.50 L618.29,826.52 L619.14,826.53 L619.99,826.54 L620.84,826.56 L621.68,826.57 L622.53,826.58 L623.38,826.59 L624.23,826.60 L625.08,826.61 L625.92,826.62 L626.77,826.63 L627.62,826.64 L628.47,826.65 L629.31,826.66 L630.16,826.67 L631.01,826.68 L631.86,826.68 L632.71,826.69 L633.55,826.70 L634.40,826.71 L635.25,826.72 L636.10,826.73 L636.94,826.73 L637.79,826.74 L638.64,826.75 L639.49,826.76 L640.34,826.76 L641.18,826.77 L642.03,826.78 L642.88,826.78 L643.73,826.79 L644.57,826.80 L645.42,826.80 L646.27,826.81 L647.12,826.81 L647.97,826.82 L648.81,826.82 L649.66,826.83 L650.51,826.83 L651.36,826.84 L652.21,826.84 L653.05,826.85 L653.90,826.85 L654.75,826.86 L655.60,826.86 L656.44,826.86 L657.29,826.87 L658.14,826.87 L658.99,826.87 L659.84,826.88 L660.68,826.88 L661.53,826.88 L662.38,826.88 L663.23,826.89 L664.07,826.89 L664.92,826.89 L665.77,826.89 L666.62,826.89 L667.47,826.90 L668.31,826.90 L669.16,826.90 L670.01,826.90 L670.86,826.90 L671.70,826.90 L672.55,826.90 L673.40,826.90" fill="none" stroke="#17b5b5" stroke-width="1.45" stroke-linejoin="round"/>
<line x1="608.8" y1="715.80" x2="618.5" y2="715.80" stroke="#d677c6" stroke-width="3"/>
<text x="623.4" y="719.30" font-size="11.7" font-style="italic" fill="#1a1a1a">Phe-Zju</text>
<line x1="608.8" y1="731.04" x2="618.5" y2="731.04" stroke="#17b5b5" stroke-width="3"/>
<text x="623.4" y="734.54" font-size="11.7" font-style="italic" fill="#1a1a1a">Phe-Sth</text>
<line x1="608.8" y1="746.28" x2="618.5" y2="746.28" stroke="#2fb56c" stroke-width="3"/>
<text x="623.4" y="749.78" font-size="11.7" font-style="italic" fill="#1a1a1a">Phe-Rru</text>
<line x1="608.8" y1="761.52" x2="618.5" y2="761.52" stroke="#77ad3a" stroke-width="3"/>
<text x="623.4" y="765.02" font-size="11.7" font-style="italic" fill="#1a1a1a">Phe-Ppe</text>
<line x1="608.8" y1="776.76" x2="618.5" y2="776.76" stroke="#cf922f" stroke-width="3"/>
<text x="623.4" y="780.26" font-size="11.7" font-style="italic" fill="#1a1a1a">Phe-Mdo</text>
<line x1="608.8" y1="792.00" x2="618.5" y2="792.00" stroke="#2c4ea6" stroke-width="3"/>
<text x="623.4" y="795.50" font-size="11.7" font-style="italic" fill="#1a1a1a">Phe-Rch</text>
</svg>
</body></html>
